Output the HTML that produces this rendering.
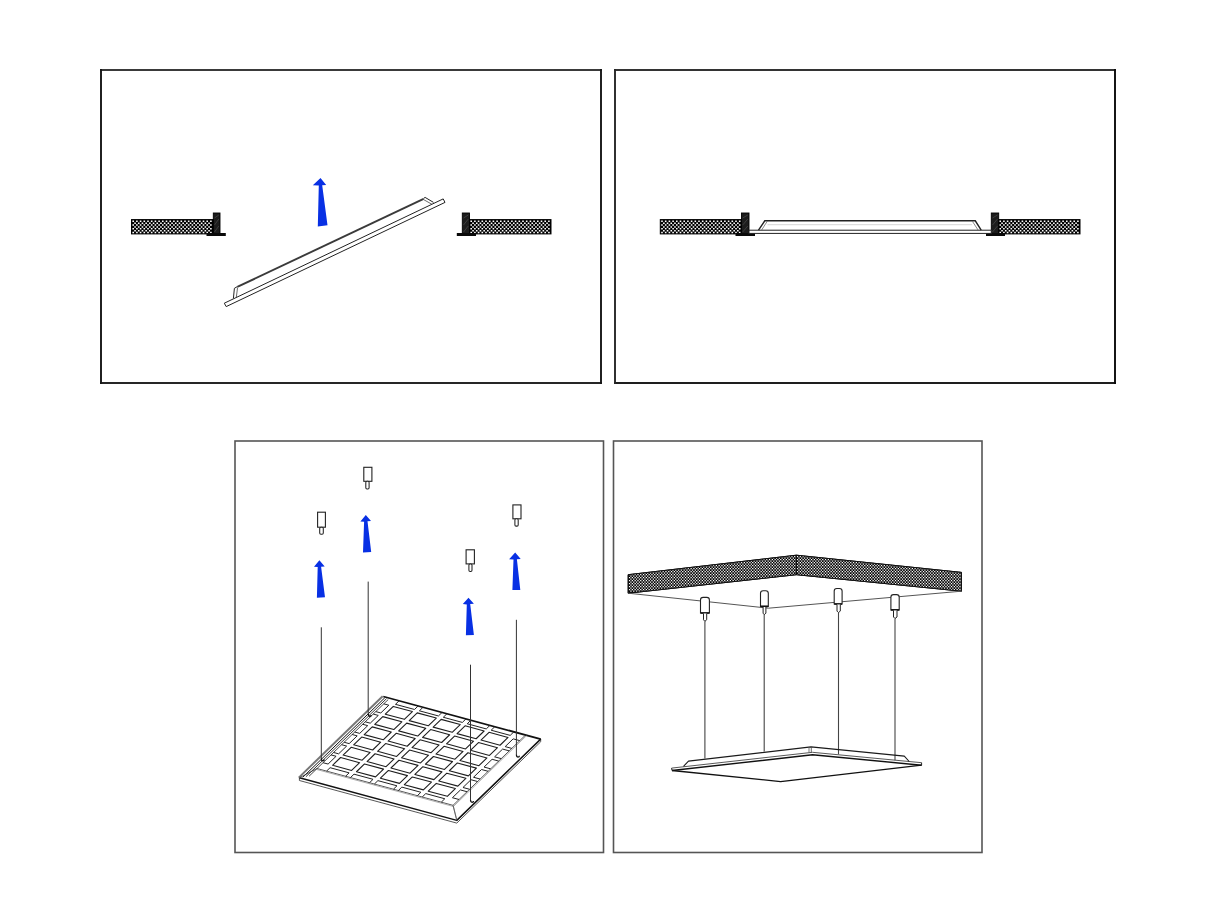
<!DOCTYPE html>
<html><head><meta charset="utf-8"><title>Installation diagram</title>
<style>
html,body{margin:0;padding:0;background:#fff;width:1214px;height:911px;overflow:hidden;font-family:"Liberation Sans",sans-serif;}
svg{display:block;}
</style></head><body>
<svg width="1214" height="911" viewBox="0 0 1214 911">

<path d="M100.05 70H601.95" stroke="#3a3a3a" stroke-width="1.9"/>
<path d="M100.05 383H601.95" stroke="#262626" stroke-width="1.9"/>
<path d="M101 69.05V383.95" stroke="#161616" stroke-width="1.9"/>
<path d="M601 69.05V383.95" stroke="#161616" stroke-width="1.9"/>
<path d="M614.05 70H1115.95" stroke="#333" stroke-width="1.9"/>
<path d="M614.05 383H1115.95" stroke="#1e1e1e" stroke-width="1.9"/>
<path d="M615 69.05V383.95" stroke="#262626" stroke-width="1.9"/>
<path d="M1115 69.05V383.95" stroke="#0a0a0a" stroke-width="1.9"/>
<rect x="235" y="441" width="368.5" height="411.5" fill="none" stroke="#555" stroke-width="1.6"/>
<rect x="613.5" y="441" width="368.5" height="411.5" fill="none" stroke="#555" stroke-width="1.6"/>
<rect x="131.5" y="219.6" width="82" height="14.3" fill="#000" stroke="#000" stroke-width="1"/>
<path d="M132.4 220.5h1.6v1.5h-1.6zM136.1 220.5h1.6v1.5h-1.6zM139.8 220.5h1.6v1.5h-1.6zM143.5 220.5h1.6v1.5h-1.6zM147.2 220.5h1.6v1.5h-1.6zM150.9 220.5h1.6v1.5h-1.6zM154.6 220.5h1.6v1.5h-1.6zM158.3 220.5h1.6v1.5h-1.6zM162 220.5h1.6v1.5h-1.6zM165.7 220.5h1.6v1.5h-1.6zM169.4 220.5h1.6v1.5h-1.6zM173.1 220.5h1.6v1.5h-1.6zM176.8 220.5h1.6v1.5h-1.6zM180.5 220.5h1.6v1.5h-1.6zM184.2 220.5h1.6v1.5h-1.6zM187.9 220.5h1.6v1.5h-1.6zM191.6 220.5h1.6v1.5h-1.6zM195.3 220.5h1.6v1.5h-1.6zM199 220.5h1.6v1.5h-1.6zM202.7 220.5h1.6v1.5h-1.6zM206.4 220.5h1.6v1.5h-1.6zM210.1 220.5h1.6v1.5h-1.6zM134.25 222.38h1.6v1.5h-1.6zM137.95 222.38h1.6v1.5h-1.6zM141.65 222.38h1.6v1.5h-1.6zM145.35 222.38h1.6v1.5h-1.6zM149.05 222.38h1.6v1.5h-1.6zM152.75 222.38h1.6v1.5h-1.6zM156.45 222.38h1.6v1.5h-1.6zM160.15 222.38h1.6v1.5h-1.6zM163.85 222.38h1.6v1.5h-1.6zM167.55 222.38h1.6v1.5h-1.6zM171.25 222.38h1.6v1.5h-1.6zM174.95 222.38h1.6v1.5h-1.6zM178.65 222.38h1.6v1.5h-1.6zM182.35 222.38h1.6v1.5h-1.6zM186.05 222.38h1.6v1.5h-1.6zM189.75 222.38h1.6v1.5h-1.6zM193.45 222.38h1.6v1.5h-1.6zM197.15 222.38h1.6v1.5h-1.6zM200.85 222.38h1.6v1.5h-1.6zM204.55 222.38h1.6v1.5h-1.6zM208.25 222.38h1.6v1.5h-1.6zM132.4 224.26h1.6v1.5h-1.6zM136.1 224.26h1.6v1.5h-1.6zM139.8 224.26h1.6v1.5h-1.6zM143.5 224.26h1.6v1.5h-1.6zM147.2 224.26h1.6v1.5h-1.6zM150.9 224.26h1.6v1.5h-1.6zM154.6 224.26h1.6v1.5h-1.6zM158.3 224.26h1.6v1.5h-1.6zM162 224.26h1.6v1.5h-1.6zM165.7 224.26h1.6v1.5h-1.6zM169.4 224.26h1.6v1.5h-1.6zM173.1 224.26h1.6v1.5h-1.6zM176.8 224.26h1.6v1.5h-1.6zM180.5 224.26h1.6v1.5h-1.6zM184.2 224.26h1.6v1.5h-1.6zM187.9 224.26h1.6v1.5h-1.6zM191.6 224.26h1.6v1.5h-1.6zM195.3 224.26h1.6v1.5h-1.6zM199 224.26h1.6v1.5h-1.6zM202.7 224.26h1.6v1.5h-1.6zM206.4 224.26h1.6v1.5h-1.6zM210.1 224.26h1.6v1.5h-1.6zM134.25 226.14h1.6v1.5h-1.6zM137.95 226.14h1.6v1.5h-1.6zM141.65 226.14h1.6v1.5h-1.6zM145.35 226.14h1.6v1.5h-1.6zM149.05 226.14h1.6v1.5h-1.6zM152.75 226.14h1.6v1.5h-1.6zM156.45 226.14h1.6v1.5h-1.6zM160.15 226.14h1.6v1.5h-1.6zM163.85 226.14h1.6v1.5h-1.6zM167.55 226.14h1.6v1.5h-1.6zM171.25 226.14h1.6v1.5h-1.6zM174.95 226.14h1.6v1.5h-1.6zM178.65 226.14h1.6v1.5h-1.6zM182.35 226.14h1.6v1.5h-1.6zM186.05 226.14h1.6v1.5h-1.6zM189.75 226.14h1.6v1.5h-1.6zM193.45 226.14h1.6v1.5h-1.6zM197.15 226.14h1.6v1.5h-1.6zM200.85 226.14h1.6v1.5h-1.6zM204.55 226.14h1.6v1.5h-1.6zM208.25 226.14h1.6v1.5h-1.6zM132.4 228.02h1.6v1.5h-1.6zM136.1 228.02h1.6v1.5h-1.6zM139.8 228.02h1.6v1.5h-1.6zM143.5 228.02h1.6v1.5h-1.6zM147.2 228.02h1.6v1.5h-1.6zM150.9 228.02h1.6v1.5h-1.6zM154.6 228.02h1.6v1.5h-1.6zM158.3 228.02h1.6v1.5h-1.6zM162 228.02h1.6v1.5h-1.6zM165.7 228.02h1.6v1.5h-1.6zM169.4 228.02h1.6v1.5h-1.6zM173.1 228.02h1.6v1.5h-1.6zM176.8 228.02h1.6v1.5h-1.6zM180.5 228.02h1.6v1.5h-1.6zM184.2 228.02h1.6v1.5h-1.6zM187.9 228.02h1.6v1.5h-1.6zM191.6 228.02h1.6v1.5h-1.6zM195.3 228.02h1.6v1.5h-1.6zM199 228.02h1.6v1.5h-1.6zM202.7 228.02h1.6v1.5h-1.6zM206.4 228.02h1.6v1.5h-1.6zM210.1 228.02h1.6v1.5h-1.6zM134.25 229.9h1.6v1.5h-1.6zM137.95 229.9h1.6v1.5h-1.6zM141.65 229.9h1.6v1.5h-1.6zM145.35 229.9h1.6v1.5h-1.6zM149.05 229.9h1.6v1.5h-1.6zM152.75 229.9h1.6v1.5h-1.6zM156.45 229.9h1.6v1.5h-1.6zM160.15 229.9h1.6v1.5h-1.6zM163.85 229.9h1.6v1.5h-1.6zM167.55 229.9h1.6v1.5h-1.6zM171.25 229.9h1.6v1.5h-1.6zM174.95 229.9h1.6v1.5h-1.6zM178.65 229.9h1.6v1.5h-1.6zM182.35 229.9h1.6v1.5h-1.6zM186.05 229.9h1.6v1.5h-1.6zM189.75 229.9h1.6v1.5h-1.6zM193.45 229.9h1.6v1.5h-1.6zM197.15 229.9h1.6v1.5h-1.6zM200.85 229.9h1.6v1.5h-1.6zM204.55 229.9h1.6v1.5h-1.6zM208.25 229.9h1.6v1.5h-1.6zM132.4 231.78h1.6v1.5h-1.6zM136.1 231.78h1.6v1.5h-1.6zM139.8 231.78h1.6v1.5h-1.6zM143.5 231.78h1.6v1.5h-1.6zM147.2 231.78h1.6v1.5h-1.6zM150.9 231.78h1.6v1.5h-1.6zM154.6 231.78h1.6v1.5h-1.6zM158.3 231.78h1.6v1.5h-1.6zM162 231.78h1.6v1.5h-1.6zM165.7 231.78h1.6v1.5h-1.6zM169.4 231.78h1.6v1.5h-1.6zM173.1 231.78h1.6v1.5h-1.6zM176.8 231.78h1.6v1.5h-1.6zM180.5 231.78h1.6v1.5h-1.6zM184.2 231.78h1.6v1.5h-1.6zM187.9 231.78h1.6v1.5h-1.6zM191.6 231.78h1.6v1.5h-1.6zM195.3 231.78h1.6v1.5h-1.6zM199 231.78h1.6v1.5h-1.6zM202.7 231.78h1.6v1.5h-1.6zM206.4 231.78h1.6v1.5h-1.6zM210.1 231.78h1.6v1.5h-1.6z" fill="#fff"/>
<rect x="213.3" y="213" width="6.7" height="21.5" fill="#1c1c1c" stroke="#000" stroke-width="0.9"/>
<path d="M214.5 218L218.8 215M214.5 225L218.8 219M214.5 232L218.8 226" stroke="#4a4a4a" stroke-width="0.7"/>
<rect x="206.5" y="233" width="19.3" height="3" fill="#0a0a0a"/>
<rect x="469.5" y="219.6" width="81.5" height="14.3" fill="#000" stroke="#000" stroke-width="1"/>
<path d="M470.4 220.5h1.6v1.5h-1.6zM474.1 220.5h1.6v1.5h-1.6zM477.8 220.5h1.6v1.5h-1.6zM481.5 220.5h1.6v1.5h-1.6zM485.2 220.5h1.6v1.5h-1.6zM488.9 220.5h1.6v1.5h-1.6zM492.6 220.5h1.6v1.5h-1.6zM496.3 220.5h1.6v1.5h-1.6zM500 220.5h1.6v1.5h-1.6zM503.7 220.5h1.6v1.5h-1.6zM507.4 220.5h1.6v1.5h-1.6zM511.1 220.5h1.6v1.5h-1.6zM514.8 220.5h1.6v1.5h-1.6zM518.5 220.5h1.6v1.5h-1.6zM522.2 220.5h1.6v1.5h-1.6zM525.9 220.5h1.6v1.5h-1.6zM529.6 220.5h1.6v1.5h-1.6zM533.3 220.5h1.6v1.5h-1.6zM537 220.5h1.6v1.5h-1.6zM540.7 220.5h1.6v1.5h-1.6zM544.4 220.5h1.6v1.5h-1.6zM548.1 220.5h1.6v1.5h-1.6zM472.25 222.38h1.6v1.5h-1.6zM475.95 222.38h1.6v1.5h-1.6zM479.65 222.38h1.6v1.5h-1.6zM483.35 222.38h1.6v1.5h-1.6zM487.05 222.38h1.6v1.5h-1.6zM490.75 222.38h1.6v1.5h-1.6zM494.45 222.38h1.6v1.5h-1.6zM498.15 222.38h1.6v1.5h-1.6zM501.85 222.38h1.6v1.5h-1.6zM505.55 222.38h1.6v1.5h-1.6zM509.25 222.38h1.6v1.5h-1.6zM512.95 222.38h1.6v1.5h-1.6zM516.65 222.38h1.6v1.5h-1.6zM520.35 222.38h1.6v1.5h-1.6zM524.05 222.38h1.6v1.5h-1.6zM527.75 222.38h1.6v1.5h-1.6zM531.45 222.38h1.6v1.5h-1.6zM535.15 222.38h1.6v1.5h-1.6zM538.85 222.38h1.6v1.5h-1.6zM542.55 222.38h1.6v1.5h-1.6zM546.25 222.38h1.6v1.5h-1.6zM470.4 224.26h1.6v1.5h-1.6zM474.1 224.26h1.6v1.5h-1.6zM477.8 224.26h1.6v1.5h-1.6zM481.5 224.26h1.6v1.5h-1.6zM485.2 224.26h1.6v1.5h-1.6zM488.9 224.26h1.6v1.5h-1.6zM492.6 224.26h1.6v1.5h-1.6zM496.3 224.26h1.6v1.5h-1.6zM500 224.26h1.6v1.5h-1.6zM503.7 224.26h1.6v1.5h-1.6zM507.4 224.26h1.6v1.5h-1.6zM511.1 224.26h1.6v1.5h-1.6zM514.8 224.26h1.6v1.5h-1.6zM518.5 224.26h1.6v1.5h-1.6zM522.2 224.26h1.6v1.5h-1.6zM525.9 224.26h1.6v1.5h-1.6zM529.6 224.26h1.6v1.5h-1.6zM533.3 224.26h1.6v1.5h-1.6zM537 224.26h1.6v1.5h-1.6zM540.7 224.26h1.6v1.5h-1.6zM544.4 224.26h1.6v1.5h-1.6zM548.1 224.26h1.6v1.5h-1.6zM472.25 226.14h1.6v1.5h-1.6zM475.95 226.14h1.6v1.5h-1.6zM479.65 226.14h1.6v1.5h-1.6zM483.35 226.14h1.6v1.5h-1.6zM487.05 226.14h1.6v1.5h-1.6zM490.75 226.14h1.6v1.5h-1.6zM494.45 226.14h1.6v1.5h-1.6zM498.15 226.14h1.6v1.5h-1.6zM501.85 226.14h1.6v1.5h-1.6zM505.55 226.14h1.6v1.5h-1.6zM509.25 226.14h1.6v1.5h-1.6zM512.95 226.14h1.6v1.5h-1.6zM516.65 226.14h1.6v1.5h-1.6zM520.35 226.14h1.6v1.5h-1.6zM524.05 226.14h1.6v1.5h-1.6zM527.75 226.14h1.6v1.5h-1.6zM531.45 226.14h1.6v1.5h-1.6zM535.15 226.14h1.6v1.5h-1.6zM538.85 226.14h1.6v1.5h-1.6zM542.55 226.14h1.6v1.5h-1.6zM546.25 226.14h1.6v1.5h-1.6zM470.4 228.02h1.6v1.5h-1.6zM474.1 228.02h1.6v1.5h-1.6zM477.8 228.02h1.6v1.5h-1.6zM481.5 228.02h1.6v1.5h-1.6zM485.2 228.02h1.6v1.5h-1.6zM488.9 228.02h1.6v1.5h-1.6zM492.6 228.02h1.6v1.5h-1.6zM496.3 228.02h1.6v1.5h-1.6zM500 228.02h1.6v1.5h-1.6zM503.7 228.02h1.6v1.5h-1.6zM507.4 228.02h1.6v1.5h-1.6zM511.1 228.02h1.6v1.5h-1.6zM514.8 228.02h1.6v1.5h-1.6zM518.5 228.02h1.6v1.5h-1.6zM522.2 228.02h1.6v1.5h-1.6zM525.9 228.02h1.6v1.5h-1.6zM529.6 228.02h1.6v1.5h-1.6zM533.3 228.02h1.6v1.5h-1.6zM537 228.02h1.6v1.5h-1.6zM540.7 228.02h1.6v1.5h-1.6zM544.4 228.02h1.6v1.5h-1.6zM548.1 228.02h1.6v1.5h-1.6zM472.25 229.9h1.6v1.5h-1.6zM475.95 229.9h1.6v1.5h-1.6zM479.65 229.9h1.6v1.5h-1.6zM483.35 229.9h1.6v1.5h-1.6zM487.05 229.9h1.6v1.5h-1.6zM490.75 229.9h1.6v1.5h-1.6zM494.45 229.9h1.6v1.5h-1.6zM498.15 229.9h1.6v1.5h-1.6zM501.85 229.9h1.6v1.5h-1.6zM505.55 229.9h1.6v1.5h-1.6zM509.25 229.9h1.6v1.5h-1.6zM512.95 229.9h1.6v1.5h-1.6zM516.65 229.9h1.6v1.5h-1.6zM520.35 229.9h1.6v1.5h-1.6zM524.05 229.9h1.6v1.5h-1.6zM527.75 229.9h1.6v1.5h-1.6zM531.45 229.9h1.6v1.5h-1.6zM535.15 229.9h1.6v1.5h-1.6zM538.85 229.9h1.6v1.5h-1.6zM542.55 229.9h1.6v1.5h-1.6zM546.25 229.9h1.6v1.5h-1.6zM470.4 231.78h1.6v1.5h-1.6zM474.1 231.78h1.6v1.5h-1.6zM477.8 231.78h1.6v1.5h-1.6zM481.5 231.78h1.6v1.5h-1.6zM485.2 231.78h1.6v1.5h-1.6zM488.9 231.78h1.6v1.5h-1.6zM492.6 231.78h1.6v1.5h-1.6zM496.3 231.78h1.6v1.5h-1.6zM500 231.78h1.6v1.5h-1.6zM503.7 231.78h1.6v1.5h-1.6zM507.4 231.78h1.6v1.5h-1.6zM511.1 231.78h1.6v1.5h-1.6zM514.8 231.78h1.6v1.5h-1.6zM518.5 231.78h1.6v1.5h-1.6zM522.2 231.78h1.6v1.5h-1.6zM525.9 231.78h1.6v1.5h-1.6zM529.6 231.78h1.6v1.5h-1.6zM533.3 231.78h1.6v1.5h-1.6zM537 231.78h1.6v1.5h-1.6zM540.7 231.78h1.6v1.5h-1.6zM544.4 231.78h1.6v1.5h-1.6zM548.1 231.78h1.6v1.5h-1.6z" fill="#fff"/>
<rect x="462.3" y="213" width="7.2" height="21.5" fill="#1c1c1c" stroke="#000" stroke-width="0.9"/>
<path d="M463.5 218L468.3 215M463.5 225L468.3 219M463.5 232L468.3 226" stroke="#4a4a4a" stroke-width="0.7"/>
<rect x="456.8" y="233" width="19.2" height="3" fill="#0a0a0a"/>
<rect x="660.3" y="219.6" width="81.7" height="14.3" fill="#000" stroke="#000" stroke-width="1"/>
<path d="M661.2 220.5h1.6v1.5h-1.6zM664.9 220.5h1.6v1.5h-1.6zM668.6 220.5h1.6v1.5h-1.6zM672.3 220.5h1.6v1.5h-1.6zM676 220.5h1.6v1.5h-1.6zM679.7 220.5h1.6v1.5h-1.6zM683.4 220.5h1.6v1.5h-1.6zM687.1 220.5h1.6v1.5h-1.6zM690.8 220.5h1.6v1.5h-1.6zM694.5 220.5h1.6v1.5h-1.6zM698.2 220.5h1.6v1.5h-1.6zM701.9 220.5h1.6v1.5h-1.6zM705.6 220.5h1.6v1.5h-1.6zM709.3 220.5h1.6v1.5h-1.6zM713 220.5h1.6v1.5h-1.6zM716.7 220.5h1.6v1.5h-1.6zM720.4 220.5h1.6v1.5h-1.6zM724.1 220.5h1.6v1.5h-1.6zM727.8 220.5h1.6v1.5h-1.6zM731.5 220.5h1.6v1.5h-1.6zM735.2 220.5h1.6v1.5h-1.6zM738.9 220.5h1.6v1.5h-1.6zM663.05 222.38h1.6v1.5h-1.6zM666.75 222.38h1.6v1.5h-1.6zM670.45 222.38h1.6v1.5h-1.6zM674.15 222.38h1.6v1.5h-1.6zM677.85 222.38h1.6v1.5h-1.6zM681.55 222.38h1.6v1.5h-1.6zM685.25 222.38h1.6v1.5h-1.6zM688.95 222.38h1.6v1.5h-1.6zM692.65 222.38h1.6v1.5h-1.6zM696.35 222.38h1.6v1.5h-1.6zM700.05 222.38h1.6v1.5h-1.6zM703.75 222.38h1.6v1.5h-1.6zM707.45 222.38h1.6v1.5h-1.6zM711.15 222.38h1.6v1.5h-1.6zM714.85 222.38h1.6v1.5h-1.6zM718.55 222.38h1.6v1.5h-1.6zM722.25 222.38h1.6v1.5h-1.6zM725.95 222.38h1.6v1.5h-1.6zM729.65 222.38h1.6v1.5h-1.6zM733.35 222.38h1.6v1.5h-1.6zM737.05 222.38h1.6v1.5h-1.6zM661.2 224.26h1.6v1.5h-1.6zM664.9 224.26h1.6v1.5h-1.6zM668.6 224.26h1.6v1.5h-1.6zM672.3 224.26h1.6v1.5h-1.6zM676 224.26h1.6v1.5h-1.6zM679.7 224.26h1.6v1.5h-1.6zM683.4 224.26h1.6v1.5h-1.6zM687.1 224.26h1.6v1.5h-1.6zM690.8 224.26h1.6v1.5h-1.6zM694.5 224.26h1.6v1.5h-1.6zM698.2 224.26h1.6v1.5h-1.6zM701.9 224.26h1.6v1.5h-1.6zM705.6 224.26h1.6v1.5h-1.6zM709.3 224.26h1.6v1.5h-1.6zM713 224.26h1.6v1.5h-1.6zM716.7 224.26h1.6v1.5h-1.6zM720.4 224.26h1.6v1.5h-1.6zM724.1 224.26h1.6v1.5h-1.6zM727.8 224.26h1.6v1.5h-1.6zM731.5 224.26h1.6v1.5h-1.6zM735.2 224.26h1.6v1.5h-1.6zM738.9 224.26h1.6v1.5h-1.6zM663.05 226.14h1.6v1.5h-1.6zM666.75 226.14h1.6v1.5h-1.6zM670.45 226.14h1.6v1.5h-1.6zM674.15 226.14h1.6v1.5h-1.6zM677.85 226.14h1.6v1.5h-1.6zM681.55 226.14h1.6v1.5h-1.6zM685.25 226.14h1.6v1.5h-1.6zM688.95 226.14h1.6v1.5h-1.6zM692.65 226.14h1.6v1.5h-1.6zM696.35 226.14h1.6v1.5h-1.6zM700.05 226.14h1.6v1.5h-1.6zM703.75 226.14h1.6v1.5h-1.6zM707.45 226.14h1.6v1.5h-1.6zM711.15 226.14h1.6v1.5h-1.6zM714.85 226.14h1.6v1.5h-1.6zM718.55 226.14h1.6v1.5h-1.6zM722.25 226.14h1.6v1.5h-1.6zM725.95 226.14h1.6v1.5h-1.6zM729.65 226.14h1.6v1.5h-1.6zM733.35 226.14h1.6v1.5h-1.6zM737.05 226.14h1.6v1.5h-1.6zM661.2 228.02h1.6v1.5h-1.6zM664.9 228.02h1.6v1.5h-1.6zM668.6 228.02h1.6v1.5h-1.6zM672.3 228.02h1.6v1.5h-1.6zM676 228.02h1.6v1.5h-1.6zM679.7 228.02h1.6v1.5h-1.6zM683.4 228.02h1.6v1.5h-1.6zM687.1 228.02h1.6v1.5h-1.6zM690.8 228.02h1.6v1.5h-1.6zM694.5 228.02h1.6v1.5h-1.6zM698.2 228.02h1.6v1.5h-1.6zM701.9 228.02h1.6v1.5h-1.6zM705.6 228.02h1.6v1.5h-1.6zM709.3 228.02h1.6v1.5h-1.6zM713 228.02h1.6v1.5h-1.6zM716.7 228.02h1.6v1.5h-1.6zM720.4 228.02h1.6v1.5h-1.6zM724.1 228.02h1.6v1.5h-1.6zM727.8 228.02h1.6v1.5h-1.6zM731.5 228.02h1.6v1.5h-1.6zM735.2 228.02h1.6v1.5h-1.6zM738.9 228.02h1.6v1.5h-1.6zM663.05 229.9h1.6v1.5h-1.6zM666.75 229.9h1.6v1.5h-1.6zM670.45 229.9h1.6v1.5h-1.6zM674.15 229.9h1.6v1.5h-1.6zM677.85 229.9h1.6v1.5h-1.6zM681.55 229.9h1.6v1.5h-1.6zM685.25 229.9h1.6v1.5h-1.6zM688.95 229.9h1.6v1.5h-1.6zM692.65 229.9h1.6v1.5h-1.6zM696.35 229.9h1.6v1.5h-1.6zM700.05 229.9h1.6v1.5h-1.6zM703.75 229.9h1.6v1.5h-1.6zM707.45 229.9h1.6v1.5h-1.6zM711.15 229.9h1.6v1.5h-1.6zM714.85 229.9h1.6v1.5h-1.6zM718.55 229.9h1.6v1.5h-1.6zM722.25 229.9h1.6v1.5h-1.6zM725.95 229.9h1.6v1.5h-1.6zM729.65 229.9h1.6v1.5h-1.6zM733.35 229.9h1.6v1.5h-1.6zM737.05 229.9h1.6v1.5h-1.6zM661.2 231.78h1.6v1.5h-1.6zM664.9 231.78h1.6v1.5h-1.6zM668.6 231.78h1.6v1.5h-1.6zM672.3 231.78h1.6v1.5h-1.6zM676 231.78h1.6v1.5h-1.6zM679.7 231.78h1.6v1.5h-1.6zM683.4 231.78h1.6v1.5h-1.6zM687.1 231.78h1.6v1.5h-1.6zM690.8 231.78h1.6v1.5h-1.6zM694.5 231.78h1.6v1.5h-1.6zM698.2 231.78h1.6v1.5h-1.6zM701.9 231.78h1.6v1.5h-1.6zM705.6 231.78h1.6v1.5h-1.6zM709.3 231.78h1.6v1.5h-1.6zM713 231.78h1.6v1.5h-1.6zM716.7 231.78h1.6v1.5h-1.6zM720.4 231.78h1.6v1.5h-1.6zM724.1 231.78h1.6v1.5h-1.6zM727.8 231.78h1.6v1.5h-1.6zM731.5 231.78h1.6v1.5h-1.6zM735.2 231.78h1.6v1.5h-1.6zM738.9 231.78h1.6v1.5h-1.6z" fill="#fff"/>
<rect x="741.5" y="213" width="7.5" height="21.5" fill="#1c1c1c" stroke="#000" stroke-width="0.9"/>
<path d="M742.7 218L747.8 215M742.7 225L747.8 219M742.7 232L747.8 226" stroke="#4a4a4a" stroke-width="0.7"/>
<rect x="735.5" y="233" width="19.5" height="3" fill="#0a0a0a"/>
<rect x="998.5" y="219.6" width="81.5" height="14.3" fill="#000" stroke="#000" stroke-width="1"/>
<path d="M999.4 220.5h1.6v1.5h-1.6zM1003.1 220.5h1.6v1.5h-1.6zM1006.8 220.5h1.6v1.5h-1.6zM1010.5 220.5h1.6v1.5h-1.6zM1014.2 220.5h1.6v1.5h-1.6zM1017.9 220.5h1.6v1.5h-1.6zM1021.6 220.5h1.6v1.5h-1.6zM1025.3 220.5h1.6v1.5h-1.6zM1029 220.5h1.6v1.5h-1.6zM1032.7 220.5h1.6v1.5h-1.6zM1036.4 220.5h1.6v1.5h-1.6zM1040.1 220.5h1.6v1.5h-1.6zM1043.8 220.5h1.6v1.5h-1.6zM1047.5 220.5h1.6v1.5h-1.6zM1051.2 220.5h1.6v1.5h-1.6zM1054.9 220.5h1.6v1.5h-1.6zM1058.6 220.5h1.6v1.5h-1.6zM1062.3 220.5h1.6v1.5h-1.6zM1066 220.5h1.6v1.5h-1.6zM1069.7 220.5h1.6v1.5h-1.6zM1073.4 220.5h1.6v1.5h-1.6zM1077.1 220.5h1.6v1.5h-1.6zM1001.25 222.38h1.6v1.5h-1.6zM1004.95 222.38h1.6v1.5h-1.6zM1008.65 222.38h1.6v1.5h-1.6zM1012.35 222.38h1.6v1.5h-1.6zM1016.05 222.38h1.6v1.5h-1.6zM1019.75 222.38h1.6v1.5h-1.6zM1023.45 222.38h1.6v1.5h-1.6zM1027.15 222.38h1.6v1.5h-1.6zM1030.85 222.38h1.6v1.5h-1.6zM1034.55 222.38h1.6v1.5h-1.6zM1038.25 222.38h1.6v1.5h-1.6zM1041.95 222.38h1.6v1.5h-1.6zM1045.65 222.38h1.6v1.5h-1.6zM1049.35 222.38h1.6v1.5h-1.6zM1053.05 222.38h1.6v1.5h-1.6zM1056.75 222.38h1.6v1.5h-1.6zM1060.45 222.38h1.6v1.5h-1.6zM1064.15 222.38h1.6v1.5h-1.6zM1067.85 222.38h1.6v1.5h-1.6zM1071.55 222.38h1.6v1.5h-1.6zM1075.25 222.38h1.6v1.5h-1.6zM999.4 224.26h1.6v1.5h-1.6zM1003.1 224.26h1.6v1.5h-1.6zM1006.8 224.26h1.6v1.5h-1.6zM1010.5 224.26h1.6v1.5h-1.6zM1014.2 224.26h1.6v1.5h-1.6zM1017.9 224.26h1.6v1.5h-1.6zM1021.6 224.26h1.6v1.5h-1.6zM1025.3 224.26h1.6v1.5h-1.6zM1029 224.26h1.6v1.5h-1.6zM1032.7 224.26h1.6v1.5h-1.6zM1036.4 224.26h1.6v1.5h-1.6zM1040.1 224.26h1.6v1.5h-1.6zM1043.8 224.26h1.6v1.5h-1.6zM1047.5 224.26h1.6v1.5h-1.6zM1051.2 224.26h1.6v1.5h-1.6zM1054.9 224.26h1.6v1.5h-1.6zM1058.6 224.26h1.6v1.5h-1.6zM1062.3 224.26h1.6v1.5h-1.6zM1066 224.26h1.6v1.5h-1.6zM1069.7 224.26h1.6v1.5h-1.6zM1073.4 224.26h1.6v1.5h-1.6zM1077.1 224.26h1.6v1.5h-1.6zM1001.25 226.14h1.6v1.5h-1.6zM1004.95 226.14h1.6v1.5h-1.6zM1008.65 226.14h1.6v1.5h-1.6zM1012.35 226.14h1.6v1.5h-1.6zM1016.05 226.14h1.6v1.5h-1.6zM1019.75 226.14h1.6v1.5h-1.6zM1023.45 226.14h1.6v1.5h-1.6zM1027.15 226.14h1.6v1.5h-1.6zM1030.85 226.14h1.6v1.5h-1.6zM1034.55 226.14h1.6v1.5h-1.6zM1038.25 226.14h1.6v1.5h-1.6zM1041.95 226.14h1.6v1.5h-1.6zM1045.65 226.14h1.6v1.5h-1.6zM1049.35 226.14h1.6v1.5h-1.6zM1053.05 226.14h1.6v1.5h-1.6zM1056.75 226.14h1.6v1.5h-1.6zM1060.45 226.14h1.6v1.5h-1.6zM1064.15 226.14h1.6v1.5h-1.6zM1067.85 226.14h1.6v1.5h-1.6zM1071.55 226.14h1.6v1.5h-1.6zM1075.25 226.14h1.6v1.5h-1.6zM999.4 228.02h1.6v1.5h-1.6zM1003.1 228.02h1.6v1.5h-1.6zM1006.8 228.02h1.6v1.5h-1.6zM1010.5 228.02h1.6v1.5h-1.6zM1014.2 228.02h1.6v1.5h-1.6zM1017.9 228.02h1.6v1.5h-1.6zM1021.6 228.02h1.6v1.5h-1.6zM1025.3 228.02h1.6v1.5h-1.6zM1029 228.02h1.6v1.5h-1.6zM1032.7 228.02h1.6v1.5h-1.6zM1036.4 228.02h1.6v1.5h-1.6zM1040.1 228.02h1.6v1.5h-1.6zM1043.8 228.02h1.6v1.5h-1.6zM1047.5 228.02h1.6v1.5h-1.6zM1051.2 228.02h1.6v1.5h-1.6zM1054.9 228.02h1.6v1.5h-1.6zM1058.6 228.02h1.6v1.5h-1.6zM1062.3 228.02h1.6v1.5h-1.6zM1066 228.02h1.6v1.5h-1.6zM1069.7 228.02h1.6v1.5h-1.6zM1073.4 228.02h1.6v1.5h-1.6zM1077.1 228.02h1.6v1.5h-1.6zM1001.25 229.9h1.6v1.5h-1.6zM1004.95 229.9h1.6v1.5h-1.6zM1008.65 229.9h1.6v1.5h-1.6zM1012.35 229.9h1.6v1.5h-1.6zM1016.05 229.9h1.6v1.5h-1.6zM1019.75 229.9h1.6v1.5h-1.6zM1023.45 229.9h1.6v1.5h-1.6zM1027.15 229.9h1.6v1.5h-1.6zM1030.85 229.9h1.6v1.5h-1.6zM1034.55 229.9h1.6v1.5h-1.6zM1038.25 229.9h1.6v1.5h-1.6zM1041.95 229.9h1.6v1.5h-1.6zM1045.65 229.9h1.6v1.5h-1.6zM1049.35 229.9h1.6v1.5h-1.6zM1053.05 229.9h1.6v1.5h-1.6zM1056.75 229.9h1.6v1.5h-1.6zM1060.45 229.9h1.6v1.5h-1.6zM1064.15 229.9h1.6v1.5h-1.6zM1067.85 229.9h1.6v1.5h-1.6zM1071.55 229.9h1.6v1.5h-1.6zM1075.25 229.9h1.6v1.5h-1.6zM999.4 231.78h1.6v1.5h-1.6zM1003.1 231.78h1.6v1.5h-1.6zM1006.8 231.78h1.6v1.5h-1.6zM1010.5 231.78h1.6v1.5h-1.6zM1014.2 231.78h1.6v1.5h-1.6zM1017.9 231.78h1.6v1.5h-1.6zM1021.6 231.78h1.6v1.5h-1.6zM1025.3 231.78h1.6v1.5h-1.6zM1029 231.78h1.6v1.5h-1.6zM1032.7 231.78h1.6v1.5h-1.6zM1036.4 231.78h1.6v1.5h-1.6zM1040.1 231.78h1.6v1.5h-1.6zM1043.8 231.78h1.6v1.5h-1.6zM1047.5 231.78h1.6v1.5h-1.6zM1051.2 231.78h1.6v1.5h-1.6zM1054.9 231.78h1.6v1.5h-1.6zM1058.6 231.78h1.6v1.5h-1.6zM1062.3 231.78h1.6v1.5h-1.6zM1066 231.78h1.6v1.5h-1.6zM1069.7 231.78h1.6v1.5h-1.6zM1073.4 231.78h1.6v1.5h-1.6zM1077.1 231.78h1.6v1.5h-1.6z" fill="#fff"/>
<rect x="991.3" y="213" width="7.4" height="21.5" fill="#1c1c1c" stroke="#000" stroke-width="0.9"/>
<path d="M992.5 218L997.5 215M992.5 225L997.5 219M992.5 232L997.5 226" stroke="#4a4a4a" stroke-width="0.7"/>
<rect x="986" y="233" width="19" height="3" fill="#0a0a0a"/>
<polygon points="320.5,177.9 326.2,185 322.2,185.3 327.5,225.2 317.8,226.6 318.8,185.6 312.8,185.3" fill="#0830e4"/>
<polygon points="319.4,560.3 324.7,566.4 321.1,566.7 325,597.3 316.9,597.7 317.7,567 314,566.7" fill="#0830e4"/>
<polygon points="365.8,515 371,521 367.5,521.3 371.2,552 363,552.4 364.1,521.8 360.4,521.5" fill="#0830e4"/>
<polygon points="468.5,597.8 473.9,603.8 470.2,604.1 473.9,634.9 465.9,635.2 466.8,604.4 462.8,604.1" fill="#0830e4"/>
<polygon points="515.2,552.6 520.7,559 516.9,559.3 520.3,590.1 512.4,590.1 513.5,559.6 509.1,559.3" fill="#0830e4"/>
<polygon points="224.3,303.2 443.2,198.9 445,202.4 226.2,306.6" fill="#fff" stroke="#222" stroke-width="1"/>
<polyline points="233.4,298.4 234.4,288.3 237.8,286.3" stroke="#222" fill="none" stroke-width="1"/>
<polyline points="236.3,297.4 237.6,287.3" stroke="#444" fill="none" stroke-width="0.8"/>
<polyline points="237.8,286.7 423.6,198.8" stroke="#3a3a3a" fill="none" stroke-width="1.9"/>
<polyline points="423.6,198.4 425.1,197.4 433.5,202.4" stroke="#222" fill="none" stroke-width="1"/>
<polyline points="423.6,199.6 432,204.3" stroke="#444" fill="none" stroke-width="0.8"/>
<rect x="749" y="230.2" width="242.3" height="3.2" fill="#fff" stroke="#222" stroke-width="1"/>
<polyline points="758.5,230.2 764.8,220.8 975.3,220.8 981.2,230.2" stroke="#222" fill="none" stroke-width="1.4"/>
<polyline points="761.5,230.2 767.1,221.5" stroke="#555" fill="none" stroke-width="0.7"/>
<polyline points="978.2,230.2 972.5,221.5" stroke="#555" fill="none" stroke-width="0.7"/>
<polyline points="767.5,224.7 972,224.7" stroke="#bbb" fill="none" stroke-width="0.6"/>
<rect x="317.6" y="512.2" width="7.8" height="15" fill="#fff" stroke="#222" stroke-width="1.1"/>
<rect x="319.7" y="527.2" width="3.6" height="7.1" rx="1.2" fill="#fff" stroke="#222" stroke-width="1.05"/>
<rect x="363.8" y="467.3" width="8.1" height="14" fill="#fff" stroke="#222" stroke-width="1.1"/>
<rect x="365.8" y="481.3" width="3.3" height="7.7" rx="1.2" fill="#fff" stroke="#222" stroke-width="1.05"/>
<rect x="466.1" y="549.8" width="8.3" height="14.1" fill="#fff" stroke="#222" stroke-width="1.1"/>
<rect x="468.9" y="563.9" width="3.1" height="7.6" rx="1.2" fill="#fff" stroke="#222" stroke-width="1.05"/>
<rect x="512.9" y="504.9" width="8.1" height="13.9" fill="#fff" stroke="#222" stroke-width="1.1"/>
<rect x="514.9" y="518.8" width="3.3" height="7.3" rx="1.2" fill="#fff" stroke="#222" stroke-width="1.05"/>
<polygon points="383.3,696.5 540.7,739.1 540.7,741.8 456.8,823.1 299.4,780.5 299.4,777.8" fill="#fff" stroke="none" stroke-width="0" stroke-linejoin="round"/>
<polyline points="299.4,780.5 456.8,823.1 540.7,741.8" fill="none" stroke="#444" stroke-width="0.9" stroke-linejoin="round"/>
<polyline points="299.4,780.5 299.4,777.8" fill="none" stroke="#444" stroke-width="0.9" stroke-linejoin="round"/>
<polyline points="540.7,741.8 540.7,739.1" fill="none" stroke="#444" stroke-width="0.9" stroke-linejoin="round"/>
<polyline points="299.4,777.8 456.8,820.4 540.7,739.1" fill="none" stroke="#111" stroke-width="1.5" stroke-linejoin="round"/>
<polyline points="383.3,696.5 540.7,739.1" fill="none" stroke="#111" stroke-width="1.7" stroke-linejoin="round"/>
<polyline points="382.67,696.33 298.77,777.63" fill="none" stroke="#777" stroke-width="2" stroke-linejoin="round"/>
<polyline points="384.82,697.76 302.78,777.26" fill="none" stroke="#111" stroke-width="1" stroke-linejoin="round"/>
<polyline points="386.53,698.63 305.92,776.76" fill="none" stroke="#222" stroke-width="0.9" stroke-linejoin="round"/>
<polyline points="388.25,699.5 309.05,776.25" fill="none" stroke="#333" stroke-width="0.9" stroke-linejoin="round"/>
<polyline points="525.25,735.34 453.02,805.33 317.02,768.53" fill="none" stroke="#444" stroke-width="0.9" stroke-linejoin="round"/>
<polyline points="526.35,735.84 453.44,806.49 316.18,769.34" fill="none" stroke="#999" stroke-width="0.8" stroke-linejoin="round"/>
<polyline points="453.02,805.33 456.8,820.4" fill="none" stroke="#333" stroke-width="0.8" stroke-linejoin="round"/>
<polyline points="453.44,806.49 456.8,820.1" fill="none" stroke="#666" stroke-width="0.6" stroke-linejoin="round"/>
<polyline points="317.02,768.53 299.4,777.8" fill="none" stroke="#333" stroke-width="0.8" stroke-linejoin="round"/>
<polygon points="393.31,706.41 412.35,711.57 404.34,719.33 385.3,714.18" fill="none" stroke="#1e1e1e" stroke-width="1.1" stroke-linejoin="round"/>
<polygon points="382.76,716.63 401.81,721.79 393.8,729.55 374.75,724.39" fill="none" stroke="#1e1e1e" stroke-width="1.1" stroke-linejoin="round"/>
<polygon points="372.22,726.85 391.26,732 383.25,739.77 364.2,734.61" fill="none" stroke="#1e1e1e" stroke-width="1.1" stroke-linejoin="round"/>
<polygon points="361.67,737.07 380.72,742.22 372.7,749.99 353.66,744.83" fill="none" stroke="#1e1e1e" stroke-width="1.1" stroke-linejoin="round"/>
<polygon points="351.12,747.29 370.17,752.44 362.16,760.21 343.11,755.05" fill="none" stroke="#1e1e1e" stroke-width="1.1" stroke-linejoin="round"/>
<polygon points="340.58,757.51 359.62,762.66 351.61,770.43 332.57,765.27" fill="none" stroke="#1e1e1e" stroke-width="1.1" stroke-linejoin="round"/>
<polygon points="417.23,712.89 436.28,718.04 428.27,725.81 409.22,720.65" fill="none" stroke="#1e1e1e" stroke-width="1.1" stroke-linejoin="round"/>
<polygon points="406.69,723.11 425.73,728.26 417.72,736.02 398.67,730.87" fill="none" stroke="#1e1e1e" stroke-width="1.1" stroke-linejoin="round"/>
<polygon points="396.14,733.33 415.19,738.48 407.17,746.24 388.13,741.09" fill="none" stroke="#1e1e1e" stroke-width="1.1" stroke-linejoin="round"/>
<polygon points="385.59,743.54 404.64,748.7 396.63,756.46 377.58,751.31" fill="none" stroke="#1e1e1e" stroke-width="1.1" stroke-linejoin="round"/>
<polygon points="375.05,753.76 394.09,758.92 386.08,766.68 367.04,761.53" fill="none" stroke="#1e1e1e" stroke-width="1.1" stroke-linejoin="round"/>
<polygon points="364.5,763.98 383.55,769.14 375.54,776.9 356.49,771.75" fill="none" stroke="#1e1e1e" stroke-width="1.1" stroke-linejoin="round"/>
<polygon points="441.16,719.36 460.2,724.52 452.19,732.28 433.15,727.13" fill="none" stroke="#1e1e1e" stroke-width="1.1" stroke-linejoin="round"/>
<polygon points="430.61,729.58 449.66,734.74 441.64,742.5 422.6,737.35" fill="none" stroke="#1e1e1e" stroke-width="1.1" stroke-linejoin="round"/>
<polygon points="420.07,739.8 439.11,744.96 431.1,752.72 412.05,747.56" fill="none" stroke="#1e1e1e" stroke-width="1.1" stroke-linejoin="round"/>
<polygon points="409.52,750.02 428.56,755.17 420.55,762.94 401.51,757.78" fill="none" stroke="#1e1e1e" stroke-width="1.1" stroke-linejoin="round"/>
<polygon points="398.97,760.24 418.02,765.39 410.01,773.16 390.96,768" fill="none" stroke="#1e1e1e" stroke-width="1.1" stroke-linejoin="round"/>
<polygon points="388.43,770.46 407.47,775.61 399.46,783.38 380.41,778.22" fill="none" stroke="#1e1e1e" stroke-width="1.1" stroke-linejoin="round"/>
<polygon points="465.08,725.84 484.13,730.99 476.12,738.76 457.07,733.6" fill="none" stroke="#1e1e1e" stroke-width="1.1" stroke-linejoin="round"/>
<polygon points="454.54,736.06 473.58,741.21 465.57,748.98 446.52,743.82" fill="none" stroke="#1e1e1e" stroke-width="1.1" stroke-linejoin="round"/>
<polygon points="443.99,746.28 463.04,751.43 455.02,759.19 435.98,754.04" fill="none" stroke="#1e1e1e" stroke-width="1.1" stroke-linejoin="round"/>
<polygon points="433.44,756.5 452.49,761.65 444.48,769.41 425.43,764.26" fill="none" stroke="#1e1e1e" stroke-width="1.1" stroke-linejoin="round"/>
<polygon points="422.9,766.71 441.94,771.87 433.93,779.63 414.89,774.48" fill="none" stroke="#1e1e1e" stroke-width="1.1" stroke-linejoin="round"/>
<polygon points="412.35,776.93 431.4,782.09 423.38,789.85 404.34,784.7" fill="none" stroke="#1e1e1e" stroke-width="1.1" stroke-linejoin="round"/>
<polygon points="489.01,732.31 508.05,737.47 500.04,745.23 481,740.08" fill="none" stroke="#1e1e1e" stroke-width="1.1" stroke-linejoin="round"/>
<polygon points="478.46,742.53 497.51,747.69 489.49,755.45 470.45,750.3" fill="none" stroke="#1e1e1e" stroke-width="1.1" stroke-linejoin="round"/>
<polygon points="467.92,752.75 486.96,757.91 478.95,765.67 459.9,760.52" fill="none" stroke="#1e1e1e" stroke-width="1.1" stroke-linejoin="round"/>
<polygon points="457.37,762.97 476.41,768.12 468.4,775.89 449.36,770.73" fill="none" stroke="#1e1e1e" stroke-width="1.1" stroke-linejoin="round"/>
<polygon points="446.82,773.19 465.87,778.34 457.86,786.11 438.81,780.95" fill="none" stroke="#1e1e1e" stroke-width="1.1" stroke-linejoin="round"/>
<polygon points="436.28,783.41 455.32,788.56 447.31,796.33 428.26,791.17" fill="none" stroke="#1e1e1e" stroke-width="1.1" stroke-linejoin="round"/>
<polyline points="399.12,700.78 395.46,704.33 414.51,709.48 418.16,705.94" fill="none" stroke="#222" stroke-width="1" stroke-linejoin="round"/>
<polyline points="326.55,771.11 330.07,767.69 349.11,772.85 345.59,776.26" fill="none" stroke="#222" stroke-width="1" stroke-linejoin="round"/>
<polyline points="423.04,707.26 419.39,710.8 438.43,715.96 442.09,712.41" fill="none" stroke="#222" stroke-width="1" stroke-linejoin="round"/>
<polyline points="350.47,777.58 353.99,774.17 373.04,779.32 369.52,782.74" fill="none" stroke="#222" stroke-width="1" stroke-linejoin="round"/>
<polyline points="446.97,713.73 443.31,717.28 462.36,722.43 466.01,718.89" fill="none" stroke="#222" stroke-width="1" stroke-linejoin="round"/>
<polyline points="374.39,784.06 377.92,780.64 396.96,785.8 393.44,789.21" fill="none" stroke="#222" stroke-width="1" stroke-linejoin="round"/>
<polyline points="470.89,720.21 467.24,723.75 486.28,728.91 489.94,725.36" fill="none" stroke="#222" stroke-width="1" stroke-linejoin="round"/>
<polyline points="398.32,790.53 401.84,787.12 420.89,792.27 417.37,795.69" fill="none" stroke="#222" stroke-width="1" stroke-linejoin="round"/>
<polyline points="494.82,726.68 491.16,730.23 510.21,735.38 513.86,731.84" fill="none" stroke="#222" stroke-width="1" stroke-linejoin="round"/>
<polyline points="422.24,797.01 425.77,793.59 444.81,798.75 441.29,802.16" fill="none" stroke="#222" stroke-width="1" stroke-linejoin="round"/>
<polyline points="383.79,703.83 388.82,705.2 380.81,712.96 375.77,711.6" fill="none" stroke="#222" stroke-width="1" stroke-linejoin="round"/>
<polyline points="519.78,740.64 513.17,738.85 505.16,746.62 511.77,748.4" fill="none" stroke="#222" stroke-width="1" stroke-linejoin="round"/>
<polyline points="373.24,714.05 378.28,715.42 370.26,723.18 365.23,721.82" fill="none" stroke="#222" stroke-width="1" stroke-linejoin="round"/>
<polyline points="509.23,750.86 502.62,749.07 494.61,756.83 501.22,758.62" fill="none" stroke="#222" stroke-width="1" stroke-linejoin="round"/>
<polyline points="362.69,724.27 367.73,725.64 359.72,733.4 354.68,732.04" fill="none" stroke="#222" stroke-width="1" stroke-linejoin="round"/>
<polyline points="498.69,761.08 492.08,759.29 484.06,767.05 490.67,768.84" fill="none" stroke="#222" stroke-width="1" stroke-linejoin="round"/>
<polyline points="352.15,734.49 357.18,735.86 349.17,743.62 344.13,742.26" fill="none" stroke="#222" stroke-width="1" stroke-linejoin="round"/>
<polyline points="488.14,771.3 481.53,769.51 473.52,777.27 480.13,779.06" fill="none" stroke="#222" stroke-width="1" stroke-linejoin="round"/>
<polyline points="341.6,744.71 346.64,746.07 338.63,753.84 333.59,752.48" fill="none" stroke="#222" stroke-width="1" stroke-linejoin="round"/>
<polyline points="477.59,781.52 470.98,779.73 462.97,787.49 469.58,789.28" fill="none" stroke="#222" stroke-width="1" stroke-linejoin="round"/>
<polyline points="331.05,754.93 336.09,756.29 328.08,764.06 323.04,762.7" fill="none" stroke="#222" stroke-width="1" stroke-linejoin="round"/>
<polyline points="467.05,791.74 460.44,789.95 452.43,797.71 459.04,799.5" fill="none" stroke="#222" stroke-width="1" stroke-linejoin="round"/>
<line x1="321.3" y1="627.3" x2="321.3" y2="759" stroke="#333" stroke-width="1"/>
<path d="M321.3 758.5q0 2.2 1.6 2.4q1.4 0 1.4-1.4" fill="none" stroke="#111" stroke-width="1.3"/>
<line x1="368.2" y1="581.6" x2="368.2" y2="714.6" stroke="#333" stroke-width="1"/>
<path d="M368.2 714.1q0 2.2 1.6 2.4q1.4 0 1.4-1.4" fill="none" stroke="#111" stroke-width="1.3"/>
<line x1="470.5" y1="664.7" x2="470.5" y2="800.5" stroke="#333" stroke-width="1"/>
<path d="M470.5 800q0 2.2 1.6 2.4q1.4 0 1.4-1.4" fill="none" stroke="#111" stroke-width="1.3"/>
<line x1="516.4" y1="619.8" x2="516.4" y2="755.3" stroke="#333" stroke-width="1"/>
<path d="M516.4 754.8q0 2.2 1.6 2.4q1.4 0 1.4-1.4" fill="none" stroke="#111" stroke-width="1.3"/>
<clipPath id="slabclip"><polygon points="628.2,574.7 796.4,555.2 961.5,572.4 961.5,591.2 796.4,574.7 628.2,593.2"/></clipPath>
<polygon points="628.2,574.7 796.4,555.2 961.5,572.4 961.5,591.2 796.4,574.7 628.2,593.2" fill="#000" stroke="#111" stroke-width="1"/>
<path clip-path="url(#slabclip)" d="M628.9 556.1h1.3v1.15h-1.3zM631.7 556.1h1.3v1.15h-1.3zM634.5 556.1h1.3v1.15h-1.3zM637.3 556.1h1.3v1.15h-1.3zM640.1 556.1h1.3v1.15h-1.3zM642.9 556.1h1.3v1.15h-1.3zM645.7 556.1h1.3v1.15h-1.3zM648.5 556.1h1.3v1.15h-1.3zM651.3 556.1h1.3v1.15h-1.3zM654.1 556.1h1.3v1.15h-1.3zM656.9 556.1h1.3v1.15h-1.3zM659.7 556.1h1.3v1.15h-1.3zM662.5 556.1h1.3v1.15h-1.3zM665.3 556.1h1.3v1.15h-1.3zM668.1 556.1h1.3v1.15h-1.3zM670.9 556.1h1.3v1.15h-1.3zM673.7 556.1h1.3v1.15h-1.3zM676.5 556.1h1.3v1.15h-1.3zM679.3 556.1h1.3v1.15h-1.3zM682.1 556.1h1.3v1.15h-1.3zM684.9 556.1h1.3v1.15h-1.3zM687.7 556.1h1.3v1.15h-1.3zM690.5 556.1h1.3v1.15h-1.3zM693.3 556.1h1.3v1.15h-1.3zM696.1 556.1h1.3v1.15h-1.3zM698.9 556.1h1.3v1.15h-1.3zM701.7 556.1h1.3v1.15h-1.3zM704.5 556.1h1.3v1.15h-1.3zM707.3 556.1h1.3v1.15h-1.3zM710.1 556.1h1.3v1.15h-1.3zM712.9 556.1h1.3v1.15h-1.3zM715.7 556.1h1.3v1.15h-1.3zM718.5 556.1h1.3v1.15h-1.3zM721.3 556.1h1.3v1.15h-1.3zM724.1 556.1h1.3v1.15h-1.3zM726.9 556.1h1.3v1.15h-1.3zM729.7 556.1h1.3v1.15h-1.3zM732.5 556.1h1.3v1.15h-1.3zM735.3 556.1h1.3v1.15h-1.3zM738.1 556.1h1.3v1.15h-1.3zM740.9 556.1h1.3v1.15h-1.3zM743.7 556.1h1.3v1.15h-1.3zM746.5 556.1h1.3v1.15h-1.3zM749.3 556.1h1.3v1.15h-1.3zM752.1 556.1h1.3v1.15h-1.3zM754.9 556.1h1.3v1.15h-1.3zM757.7 556.1h1.3v1.15h-1.3zM760.5 556.1h1.3v1.15h-1.3zM763.3 556.1h1.3v1.15h-1.3zM766.1 556.1h1.3v1.15h-1.3zM768.9 556.1h1.3v1.15h-1.3zM771.7 556.1h1.3v1.15h-1.3zM774.5 556.1h1.3v1.15h-1.3zM777.3 556.1h1.3v1.15h-1.3zM780.1 556.1h1.3v1.15h-1.3zM782.9 556.1h1.3v1.15h-1.3zM785.7 556.1h1.3v1.15h-1.3zM788.5 556.1h1.3v1.15h-1.3zM791.3 556.1h1.3v1.15h-1.3zM794.1 556.1h1.3v1.15h-1.3zM796.9 556.1h1.3v1.15h-1.3zM799.7 556.1h1.3v1.15h-1.3zM802.5 556.1h1.3v1.15h-1.3zM805.3 556.1h1.3v1.15h-1.3zM808.1 556.1h1.3v1.15h-1.3zM810.9 556.1h1.3v1.15h-1.3zM813.7 556.1h1.3v1.15h-1.3zM816.5 556.1h1.3v1.15h-1.3zM819.3 556.1h1.3v1.15h-1.3zM822.1 556.1h1.3v1.15h-1.3zM824.9 556.1h1.3v1.15h-1.3zM827.7 556.1h1.3v1.15h-1.3zM830.5 556.1h1.3v1.15h-1.3zM833.3 556.1h1.3v1.15h-1.3zM836.1 556.1h1.3v1.15h-1.3zM838.9 556.1h1.3v1.15h-1.3zM841.7 556.1h1.3v1.15h-1.3zM844.5 556.1h1.3v1.15h-1.3zM847.3 556.1h1.3v1.15h-1.3zM850.1 556.1h1.3v1.15h-1.3zM852.9 556.1h1.3v1.15h-1.3zM855.7 556.1h1.3v1.15h-1.3zM858.5 556.1h1.3v1.15h-1.3zM861.3 556.1h1.3v1.15h-1.3zM864.1 556.1h1.3v1.15h-1.3zM866.9 556.1h1.3v1.15h-1.3zM869.7 556.1h1.3v1.15h-1.3zM872.5 556.1h1.3v1.15h-1.3zM875.3 556.1h1.3v1.15h-1.3zM878.1 556.1h1.3v1.15h-1.3zM880.9 556.1h1.3v1.15h-1.3zM883.7 556.1h1.3v1.15h-1.3zM886.5 556.1h1.3v1.15h-1.3zM889.3 556.1h1.3v1.15h-1.3zM892.1 556.1h1.3v1.15h-1.3zM894.9 556.1h1.3v1.15h-1.3zM897.7 556.1h1.3v1.15h-1.3zM900.5 556.1h1.3v1.15h-1.3zM903.3 556.1h1.3v1.15h-1.3zM906.1 556.1h1.3v1.15h-1.3zM908.9 556.1h1.3v1.15h-1.3zM911.7 556.1h1.3v1.15h-1.3zM914.5 556.1h1.3v1.15h-1.3zM917.3 556.1h1.3v1.15h-1.3zM920.1 556.1h1.3v1.15h-1.3zM922.9 556.1h1.3v1.15h-1.3zM925.7 556.1h1.3v1.15h-1.3zM928.5 556.1h1.3v1.15h-1.3zM931.3 556.1h1.3v1.15h-1.3zM934.1 556.1h1.3v1.15h-1.3zM936.9 556.1h1.3v1.15h-1.3zM939.7 556.1h1.3v1.15h-1.3zM942.5 556.1h1.3v1.15h-1.3zM945.3 556.1h1.3v1.15h-1.3zM948.1 556.1h1.3v1.15h-1.3zM950.9 556.1h1.3v1.15h-1.3zM953.7 556.1h1.3v1.15h-1.3zM956.5 556.1h1.3v1.15h-1.3zM959.3 556.1h1.3v1.15h-1.3zM630.3 557.6h1.3v1.15h-1.3zM633.1 557.6h1.3v1.15h-1.3zM635.9 557.6h1.3v1.15h-1.3zM638.7 557.6h1.3v1.15h-1.3zM641.5 557.6h1.3v1.15h-1.3zM644.3 557.6h1.3v1.15h-1.3zM647.1 557.6h1.3v1.15h-1.3zM649.9 557.6h1.3v1.15h-1.3zM652.7 557.6h1.3v1.15h-1.3zM655.5 557.6h1.3v1.15h-1.3zM658.3 557.6h1.3v1.15h-1.3zM661.1 557.6h1.3v1.15h-1.3zM663.9 557.6h1.3v1.15h-1.3zM666.7 557.6h1.3v1.15h-1.3zM669.5 557.6h1.3v1.15h-1.3zM672.3 557.6h1.3v1.15h-1.3zM675.1 557.6h1.3v1.15h-1.3zM677.9 557.6h1.3v1.15h-1.3zM680.7 557.6h1.3v1.15h-1.3zM683.5 557.6h1.3v1.15h-1.3zM686.3 557.6h1.3v1.15h-1.3zM689.1 557.6h1.3v1.15h-1.3zM691.9 557.6h1.3v1.15h-1.3zM694.7 557.6h1.3v1.15h-1.3zM697.5 557.6h1.3v1.15h-1.3zM700.3 557.6h1.3v1.15h-1.3zM703.1 557.6h1.3v1.15h-1.3zM705.9 557.6h1.3v1.15h-1.3zM708.7 557.6h1.3v1.15h-1.3zM711.5 557.6h1.3v1.15h-1.3zM714.3 557.6h1.3v1.15h-1.3zM717.1 557.6h1.3v1.15h-1.3zM719.9 557.6h1.3v1.15h-1.3zM722.7 557.6h1.3v1.15h-1.3zM725.5 557.6h1.3v1.15h-1.3zM728.3 557.6h1.3v1.15h-1.3zM731.1 557.6h1.3v1.15h-1.3zM733.9 557.6h1.3v1.15h-1.3zM736.7 557.6h1.3v1.15h-1.3zM739.5 557.6h1.3v1.15h-1.3zM742.3 557.6h1.3v1.15h-1.3zM745.1 557.6h1.3v1.15h-1.3zM747.9 557.6h1.3v1.15h-1.3zM750.7 557.6h1.3v1.15h-1.3zM753.5 557.6h1.3v1.15h-1.3zM756.3 557.6h1.3v1.15h-1.3zM759.1 557.6h1.3v1.15h-1.3zM761.9 557.6h1.3v1.15h-1.3zM764.7 557.6h1.3v1.15h-1.3zM767.5 557.6h1.3v1.15h-1.3zM770.3 557.6h1.3v1.15h-1.3zM773.1 557.6h1.3v1.15h-1.3zM775.9 557.6h1.3v1.15h-1.3zM778.7 557.6h1.3v1.15h-1.3zM781.5 557.6h1.3v1.15h-1.3zM784.3 557.6h1.3v1.15h-1.3zM787.1 557.6h1.3v1.15h-1.3zM789.9 557.6h1.3v1.15h-1.3zM792.7 557.6h1.3v1.15h-1.3zM795.5 557.6h1.3v1.15h-1.3zM798.3 557.6h1.3v1.15h-1.3zM801.1 557.6h1.3v1.15h-1.3zM803.9 557.6h1.3v1.15h-1.3zM806.7 557.6h1.3v1.15h-1.3zM809.5 557.6h1.3v1.15h-1.3zM812.3 557.6h1.3v1.15h-1.3zM815.1 557.6h1.3v1.15h-1.3zM817.9 557.6h1.3v1.15h-1.3zM820.7 557.6h1.3v1.15h-1.3zM823.5 557.6h1.3v1.15h-1.3zM826.3 557.6h1.3v1.15h-1.3zM829.1 557.6h1.3v1.15h-1.3zM831.9 557.6h1.3v1.15h-1.3zM834.7 557.6h1.3v1.15h-1.3zM837.5 557.6h1.3v1.15h-1.3zM840.3 557.6h1.3v1.15h-1.3zM843.1 557.6h1.3v1.15h-1.3zM845.9 557.6h1.3v1.15h-1.3zM848.7 557.6h1.3v1.15h-1.3zM851.5 557.6h1.3v1.15h-1.3zM854.3 557.6h1.3v1.15h-1.3zM857.1 557.6h1.3v1.15h-1.3zM859.9 557.6h1.3v1.15h-1.3zM862.7 557.6h1.3v1.15h-1.3zM865.5 557.6h1.3v1.15h-1.3zM868.3 557.6h1.3v1.15h-1.3zM871.1 557.6h1.3v1.15h-1.3zM873.9 557.6h1.3v1.15h-1.3zM876.7 557.6h1.3v1.15h-1.3zM879.5 557.6h1.3v1.15h-1.3zM882.3 557.6h1.3v1.15h-1.3zM885.1 557.6h1.3v1.15h-1.3zM887.9 557.6h1.3v1.15h-1.3zM890.7 557.6h1.3v1.15h-1.3zM893.5 557.6h1.3v1.15h-1.3zM896.3 557.6h1.3v1.15h-1.3zM899.1 557.6h1.3v1.15h-1.3zM901.9 557.6h1.3v1.15h-1.3zM904.7 557.6h1.3v1.15h-1.3zM907.5 557.6h1.3v1.15h-1.3zM910.3 557.6h1.3v1.15h-1.3zM913.1 557.6h1.3v1.15h-1.3zM915.9 557.6h1.3v1.15h-1.3zM918.7 557.6h1.3v1.15h-1.3zM921.5 557.6h1.3v1.15h-1.3zM924.3 557.6h1.3v1.15h-1.3zM927.1 557.6h1.3v1.15h-1.3zM929.9 557.6h1.3v1.15h-1.3zM932.7 557.6h1.3v1.15h-1.3zM935.5 557.6h1.3v1.15h-1.3zM938.3 557.6h1.3v1.15h-1.3zM941.1 557.6h1.3v1.15h-1.3zM943.9 557.6h1.3v1.15h-1.3zM946.7 557.6h1.3v1.15h-1.3zM949.5 557.6h1.3v1.15h-1.3zM952.3 557.6h1.3v1.15h-1.3zM955.1 557.6h1.3v1.15h-1.3zM957.9 557.6h1.3v1.15h-1.3zM960.7 557.6h1.3v1.15h-1.3zM628.9 559.1h1.3v1.15h-1.3zM631.7 559.1h1.3v1.15h-1.3zM634.5 559.1h1.3v1.15h-1.3zM637.3 559.1h1.3v1.15h-1.3zM640.1 559.1h1.3v1.15h-1.3zM642.9 559.1h1.3v1.15h-1.3zM645.7 559.1h1.3v1.15h-1.3zM648.5 559.1h1.3v1.15h-1.3zM651.3 559.1h1.3v1.15h-1.3zM654.1 559.1h1.3v1.15h-1.3zM656.9 559.1h1.3v1.15h-1.3zM659.7 559.1h1.3v1.15h-1.3zM662.5 559.1h1.3v1.15h-1.3zM665.3 559.1h1.3v1.15h-1.3zM668.1 559.1h1.3v1.15h-1.3zM670.9 559.1h1.3v1.15h-1.3zM673.7 559.1h1.3v1.15h-1.3zM676.5 559.1h1.3v1.15h-1.3zM679.3 559.1h1.3v1.15h-1.3zM682.1 559.1h1.3v1.15h-1.3zM684.9 559.1h1.3v1.15h-1.3zM687.7 559.1h1.3v1.15h-1.3zM690.5 559.1h1.3v1.15h-1.3zM693.3 559.1h1.3v1.15h-1.3zM696.1 559.1h1.3v1.15h-1.3zM698.9 559.1h1.3v1.15h-1.3zM701.7 559.1h1.3v1.15h-1.3zM704.5 559.1h1.3v1.15h-1.3zM707.3 559.1h1.3v1.15h-1.3zM710.1 559.1h1.3v1.15h-1.3zM712.9 559.1h1.3v1.15h-1.3zM715.7 559.1h1.3v1.15h-1.3zM718.5 559.1h1.3v1.15h-1.3zM721.3 559.1h1.3v1.15h-1.3zM724.1 559.1h1.3v1.15h-1.3zM726.9 559.1h1.3v1.15h-1.3zM729.7 559.1h1.3v1.15h-1.3zM732.5 559.1h1.3v1.15h-1.3zM735.3 559.1h1.3v1.15h-1.3zM738.1 559.1h1.3v1.15h-1.3zM740.9 559.1h1.3v1.15h-1.3zM743.7 559.1h1.3v1.15h-1.3zM746.5 559.1h1.3v1.15h-1.3zM749.3 559.1h1.3v1.15h-1.3zM752.1 559.1h1.3v1.15h-1.3zM754.9 559.1h1.3v1.15h-1.3zM757.7 559.1h1.3v1.15h-1.3zM760.5 559.1h1.3v1.15h-1.3zM763.3 559.1h1.3v1.15h-1.3zM766.1 559.1h1.3v1.15h-1.3zM768.9 559.1h1.3v1.15h-1.3zM771.7 559.1h1.3v1.15h-1.3zM774.5 559.1h1.3v1.15h-1.3zM777.3 559.1h1.3v1.15h-1.3zM780.1 559.1h1.3v1.15h-1.3zM782.9 559.1h1.3v1.15h-1.3zM785.7 559.1h1.3v1.15h-1.3zM788.5 559.1h1.3v1.15h-1.3zM791.3 559.1h1.3v1.15h-1.3zM794.1 559.1h1.3v1.15h-1.3zM796.9 559.1h1.3v1.15h-1.3zM799.7 559.1h1.3v1.15h-1.3zM802.5 559.1h1.3v1.15h-1.3zM805.3 559.1h1.3v1.15h-1.3zM808.1 559.1h1.3v1.15h-1.3zM810.9 559.1h1.3v1.15h-1.3zM813.7 559.1h1.3v1.15h-1.3zM816.5 559.1h1.3v1.15h-1.3zM819.3 559.1h1.3v1.15h-1.3zM822.1 559.1h1.3v1.15h-1.3zM824.9 559.1h1.3v1.15h-1.3zM827.7 559.1h1.3v1.15h-1.3zM830.5 559.1h1.3v1.15h-1.3zM833.3 559.1h1.3v1.15h-1.3zM836.1 559.1h1.3v1.15h-1.3zM838.9 559.1h1.3v1.15h-1.3zM841.7 559.1h1.3v1.15h-1.3zM844.5 559.1h1.3v1.15h-1.3zM847.3 559.1h1.3v1.15h-1.3zM850.1 559.1h1.3v1.15h-1.3zM852.9 559.1h1.3v1.15h-1.3zM855.7 559.1h1.3v1.15h-1.3zM858.5 559.1h1.3v1.15h-1.3zM861.3 559.1h1.3v1.15h-1.3zM864.1 559.1h1.3v1.15h-1.3zM866.9 559.1h1.3v1.15h-1.3zM869.7 559.1h1.3v1.15h-1.3zM872.5 559.1h1.3v1.15h-1.3zM875.3 559.1h1.3v1.15h-1.3zM878.1 559.1h1.3v1.15h-1.3zM880.9 559.1h1.3v1.15h-1.3zM883.7 559.1h1.3v1.15h-1.3zM886.5 559.1h1.3v1.15h-1.3zM889.3 559.1h1.3v1.15h-1.3zM892.1 559.1h1.3v1.15h-1.3zM894.9 559.1h1.3v1.15h-1.3zM897.7 559.1h1.3v1.15h-1.3zM900.5 559.1h1.3v1.15h-1.3zM903.3 559.1h1.3v1.15h-1.3zM906.1 559.1h1.3v1.15h-1.3zM908.9 559.1h1.3v1.15h-1.3zM911.7 559.1h1.3v1.15h-1.3zM914.5 559.1h1.3v1.15h-1.3zM917.3 559.1h1.3v1.15h-1.3zM920.1 559.1h1.3v1.15h-1.3zM922.9 559.1h1.3v1.15h-1.3zM925.7 559.1h1.3v1.15h-1.3zM928.5 559.1h1.3v1.15h-1.3zM931.3 559.1h1.3v1.15h-1.3zM934.1 559.1h1.3v1.15h-1.3zM936.9 559.1h1.3v1.15h-1.3zM939.7 559.1h1.3v1.15h-1.3zM942.5 559.1h1.3v1.15h-1.3zM945.3 559.1h1.3v1.15h-1.3zM948.1 559.1h1.3v1.15h-1.3zM950.9 559.1h1.3v1.15h-1.3zM953.7 559.1h1.3v1.15h-1.3zM956.5 559.1h1.3v1.15h-1.3zM959.3 559.1h1.3v1.15h-1.3zM630.3 560.6h1.3v1.15h-1.3zM633.1 560.6h1.3v1.15h-1.3zM635.9 560.6h1.3v1.15h-1.3zM638.7 560.6h1.3v1.15h-1.3zM641.5 560.6h1.3v1.15h-1.3zM644.3 560.6h1.3v1.15h-1.3zM647.1 560.6h1.3v1.15h-1.3zM649.9 560.6h1.3v1.15h-1.3zM652.7 560.6h1.3v1.15h-1.3zM655.5 560.6h1.3v1.15h-1.3zM658.3 560.6h1.3v1.15h-1.3zM661.1 560.6h1.3v1.15h-1.3zM663.9 560.6h1.3v1.15h-1.3zM666.7 560.6h1.3v1.15h-1.3zM669.5 560.6h1.3v1.15h-1.3zM672.3 560.6h1.3v1.15h-1.3zM675.1 560.6h1.3v1.15h-1.3zM677.9 560.6h1.3v1.15h-1.3zM680.7 560.6h1.3v1.15h-1.3zM683.5 560.6h1.3v1.15h-1.3zM686.3 560.6h1.3v1.15h-1.3zM689.1 560.6h1.3v1.15h-1.3zM691.9 560.6h1.3v1.15h-1.3zM694.7 560.6h1.3v1.15h-1.3zM697.5 560.6h1.3v1.15h-1.3zM700.3 560.6h1.3v1.15h-1.3zM703.1 560.6h1.3v1.15h-1.3zM705.9 560.6h1.3v1.15h-1.3zM708.7 560.6h1.3v1.15h-1.3zM711.5 560.6h1.3v1.15h-1.3zM714.3 560.6h1.3v1.15h-1.3zM717.1 560.6h1.3v1.15h-1.3zM719.9 560.6h1.3v1.15h-1.3zM722.7 560.6h1.3v1.15h-1.3zM725.5 560.6h1.3v1.15h-1.3zM728.3 560.6h1.3v1.15h-1.3zM731.1 560.6h1.3v1.15h-1.3zM733.9 560.6h1.3v1.15h-1.3zM736.7 560.6h1.3v1.15h-1.3zM739.5 560.6h1.3v1.15h-1.3zM742.3 560.6h1.3v1.15h-1.3zM745.1 560.6h1.3v1.15h-1.3zM747.9 560.6h1.3v1.15h-1.3zM750.7 560.6h1.3v1.15h-1.3zM753.5 560.6h1.3v1.15h-1.3zM756.3 560.6h1.3v1.15h-1.3zM759.1 560.6h1.3v1.15h-1.3zM761.9 560.6h1.3v1.15h-1.3zM764.7 560.6h1.3v1.15h-1.3zM767.5 560.6h1.3v1.15h-1.3zM770.3 560.6h1.3v1.15h-1.3zM773.1 560.6h1.3v1.15h-1.3zM775.9 560.6h1.3v1.15h-1.3zM778.7 560.6h1.3v1.15h-1.3zM781.5 560.6h1.3v1.15h-1.3zM784.3 560.6h1.3v1.15h-1.3zM787.1 560.6h1.3v1.15h-1.3zM789.9 560.6h1.3v1.15h-1.3zM792.7 560.6h1.3v1.15h-1.3zM795.5 560.6h1.3v1.15h-1.3zM798.3 560.6h1.3v1.15h-1.3zM801.1 560.6h1.3v1.15h-1.3zM803.9 560.6h1.3v1.15h-1.3zM806.7 560.6h1.3v1.15h-1.3zM809.5 560.6h1.3v1.15h-1.3zM812.3 560.6h1.3v1.15h-1.3zM815.1 560.6h1.3v1.15h-1.3zM817.9 560.6h1.3v1.15h-1.3zM820.7 560.6h1.3v1.15h-1.3zM823.5 560.6h1.3v1.15h-1.3zM826.3 560.6h1.3v1.15h-1.3zM829.1 560.6h1.3v1.15h-1.3zM831.9 560.6h1.3v1.15h-1.3zM834.7 560.6h1.3v1.15h-1.3zM837.5 560.6h1.3v1.15h-1.3zM840.3 560.6h1.3v1.15h-1.3zM843.1 560.6h1.3v1.15h-1.3zM845.9 560.6h1.3v1.15h-1.3zM848.7 560.6h1.3v1.15h-1.3zM851.5 560.6h1.3v1.15h-1.3zM854.3 560.6h1.3v1.15h-1.3zM857.1 560.6h1.3v1.15h-1.3zM859.9 560.6h1.3v1.15h-1.3zM862.7 560.6h1.3v1.15h-1.3zM865.5 560.6h1.3v1.15h-1.3zM868.3 560.6h1.3v1.15h-1.3zM871.1 560.6h1.3v1.15h-1.3zM873.9 560.6h1.3v1.15h-1.3zM876.7 560.6h1.3v1.15h-1.3zM879.5 560.6h1.3v1.15h-1.3zM882.3 560.6h1.3v1.15h-1.3zM885.1 560.6h1.3v1.15h-1.3zM887.9 560.6h1.3v1.15h-1.3zM890.7 560.6h1.3v1.15h-1.3zM893.5 560.6h1.3v1.15h-1.3zM896.3 560.6h1.3v1.15h-1.3zM899.1 560.6h1.3v1.15h-1.3zM901.9 560.6h1.3v1.15h-1.3zM904.7 560.6h1.3v1.15h-1.3zM907.5 560.6h1.3v1.15h-1.3zM910.3 560.6h1.3v1.15h-1.3zM913.1 560.6h1.3v1.15h-1.3zM915.9 560.6h1.3v1.15h-1.3zM918.7 560.6h1.3v1.15h-1.3zM921.5 560.6h1.3v1.15h-1.3zM924.3 560.6h1.3v1.15h-1.3zM927.1 560.6h1.3v1.15h-1.3zM929.9 560.6h1.3v1.15h-1.3zM932.7 560.6h1.3v1.15h-1.3zM935.5 560.6h1.3v1.15h-1.3zM938.3 560.6h1.3v1.15h-1.3zM941.1 560.6h1.3v1.15h-1.3zM943.9 560.6h1.3v1.15h-1.3zM946.7 560.6h1.3v1.15h-1.3zM949.5 560.6h1.3v1.15h-1.3zM952.3 560.6h1.3v1.15h-1.3zM955.1 560.6h1.3v1.15h-1.3zM957.9 560.6h1.3v1.15h-1.3zM960.7 560.6h1.3v1.15h-1.3zM628.9 562.1h1.3v1.15h-1.3zM631.7 562.1h1.3v1.15h-1.3zM634.5 562.1h1.3v1.15h-1.3zM637.3 562.1h1.3v1.15h-1.3zM640.1 562.1h1.3v1.15h-1.3zM642.9 562.1h1.3v1.15h-1.3zM645.7 562.1h1.3v1.15h-1.3zM648.5 562.1h1.3v1.15h-1.3zM651.3 562.1h1.3v1.15h-1.3zM654.1 562.1h1.3v1.15h-1.3zM656.9 562.1h1.3v1.15h-1.3zM659.7 562.1h1.3v1.15h-1.3zM662.5 562.1h1.3v1.15h-1.3zM665.3 562.1h1.3v1.15h-1.3zM668.1 562.1h1.3v1.15h-1.3zM670.9 562.1h1.3v1.15h-1.3zM673.7 562.1h1.3v1.15h-1.3zM676.5 562.1h1.3v1.15h-1.3zM679.3 562.1h1.3v1.15h-1.3zM682.1 562.1h1.3v1.15h-1.3zM684.9 562.1h1.3v1.15h-1.3zM687.7 562.1h1.3v1.15h-1.3zM690.5 562.1h1.3v1.15h-1.3zM693.3 562.1h1.3v1.15h-1.3zM696.1 562.1h1.3v1.15h-1.3zM698.9 562.1h1.3v1.15h-1.3zM701.7 562.1h1.3v1.15h-1.3zM704.5 562.1h1.3v1.15h-1.3zM707.3 562.1h1.3v1.15h-1.3zM710.1 562.1h1.3v1.15h-1.3zM712.9 562.1h1.3v1.15h-1.3zM715.7 562.1h1.3v1.15h-1.3zM718.5 562.1h1.3v1.15h-1.3zM721.3 562.1h1.3v1.15h-1.3zM724.1 562.1h1.3v1.15h-1.3zM726.9 562.1h1.3v1.15h-1.3zM729.7 562.1h1.3v1.15h-1.3zM732.5 562.1h1.3v1.15h-1.3zM735.3 562.1h1.3v1.15h-1.3zM738.1 562.1h1.3v1.15h-1.3zM740.9 562.1h1.3v1.15h-1.3zM743.7 562.1h1.3v1.15h-1.3zM746.5 562.1h1.3v1.15h-1.3zM749.3 562.1h1.3v1.15h-1.3zM752.1 562.1h1.3v1.15h-1.3zM754.9 562.1h1.3v1.15h-1.3zM757.7 562.1h1.3v1.15h-1.3zM760.5 562.1h1.3v1.15h-1.3zM763.3 562.1h1.3v1.15h-1.3zM766.1 562.1h1.3v1.15h-1.3zM768.9 562.1h1.3v1.15h-1.3zM771.7 562.1h1.3v1.15h-1.3zM774.5 562.1h1.3v1.15h-1.3zM777.3 562.1h1.3v1.15h-1.3zM780.1 562.1h1.3v1.15h-1.3zM782.9 562.1h1.3v1.15h-1.3zM785.7 562.1h1.3v1.15h-1.3zM788.5 562.1h1.3v1.15h-1.3zM791.3 562.1h1.3v1.15h-1.3zM794.1 562.1h1.3v1.15h-1.3zM796.9 562.1h1.3v1.15h-1.3zM799.7 562.1h1.3v1.15h-1.3zM802.5 562.1h1.3v1.15h-1.3zM805.3 562.1h1.3v1.15h-1.3zM808.1 562.1h1.3v1.15h-1.3zM810.9 562.1h1.3v1.15h-1.3zM813.7 562.1h1.3v1.15h-1.3zM816.5 562.1h1.3v1.15h-1.3zM819.3 562.1h1.3v1.15h-1.3zM822.1 562.1h1.3v1.15h-1.3zM824.9 562.1h1.3v1.15h-1.3zM827.7 562.1h1.3v1.15h-1.3zM830.5 562.1h1.3v1.15h-1.3zM833.3 562.1h1.3v1.15h-1.3zM836.1 562.1h1.3v1.15h-1.3zM838.9 562.1h1.3v1.15h-1.3zM841.7 562.1h1.3v1.15h-1.3zM844.5 562.1h1.3v1.15h-1.3zM847.3 562.1h1.3v1.15h-1.3zM850.1 562.1h1.3v1.15h-1.3zM852.9 562.1h1.3v1.15h-1.3zM855.7 562.1h1.3v1.15h-1.3zM858.5 562.1h1.3v1.15h-1.3zM861.3 562.1h1.3v1.15h-1.3zM864.1 562.1h1.3v1.15h-1.3zM866.9 562.1h1.3v1.15h-1.3zM869.7 562.1h1.3v1.15h-1.3zM872.5 562.1h1.3v1.15h-1.3zM875.3 562.1h1.3v1.15h-1.3zM878.1 562.1h1.3v1.15h-1.3zM880.9 562.1h1.3v1.15h-1.3zM883.7 562.1h1.3v1.15h-1.3zM886.5 562.1h1.3v1.15h-1.3zM889.3 562.1h1.3v1.15h-1.3zM892.1 562.1h1.3v1.15h-1.3zM894.9 562.1h1.3v1.15h-1.3zM897.7 562.1h1.3v1.15h-1.3zM900.5 562.1h1.3v1.15h-1.3zM903.3 562.1h1.3v1.15h-1.3zM906.1 562.1h1.3v1.15h-1.3zM908.9 562.1h1.3v1.15h-1.3zM911.7 562.1h1.3v1.15h-1.3zM914.5 562.1h1.3v1.15h-1.3zM917.3 562.1h1.3v1.15h-1.3zM920.1 562.1h1.3v1.15h-1.3zM922.9 562.1h1.3v1.15h-1.3zM925.7 562.1h1.3v1.15h-1.3zM928.5 562.1h1.3v1.15h-1.3zM931.3 562.1h1.3v1.15h-1.3zM934.1 562.1h1.3v1.15h-1.3zM936.9 562.1h1.3v1.15h-1.3zM939.7 562.1h1.3v1.15h-1.3zM942.5 562.1h1.3v1.15h-1.3zM945.3 562.1h1.3v1.15h-1.3zM948.1 562.1h1.3v1.15h-1.3zM950.9 562.1h1.3v1.15h-1.3zM953.7 562.1h1.3v1.15h-1.3zM956.5 562.1h1.3v1.15h-1.3zM959.3 562.1h1.3v1.15h-1.3zM630.3 563.6h1.3v1.15h-1.3zM633.1 563.6h1.3v1.15h-1.3zM635.9 563.6h1.3v1.15h-1.3zM638.7 563.6h1.3v1.15h-1.3zM641.5 563.6h1.3v1.15h-1.3zM644.3 563.6h1.3v1.15h-1.3zM647.1 563.6h1.3v1.15h-1.3zM649.9 563.6h1.3v1.15h-1.3zM652.7 563.6h1.3v1.15h-1.3zM655.5 563.6h1.3v1.15h-1.3zM658.3 563.6h1.3v1.15h-1.3zM661.1 563.6h1.3v1.15h-1.3zM663.9 563.6h1.3v1.15h-1.3zM666.7 563.6h1.3v1.15h-1.3zM669.5 563.6h1.3v1.15h-1.3zM672.3 563.6h1.3v1.15h-1.3zM675.1 563.6h1.3v1.15h-1.3zM677.9 563.6h1.3v1.15h-1.3zM680.7 563.6h1.3v1.15h-1.3zM683.5 563.6h1.3v1.15h-1.3zM686.3 563.6h1.3v1.15h-1.3zM689.1 563.6h1.3v1.15h-1.3zM691.9 563.6h1.3v1.15h-1.3zM694.7 563.6h1.3v1.15h-1.3zM697.5 563.6h1.3v1.15h-1.3zM700.3 563.6h1.3v1.15h-1.3zM703.1 563.6h1.3v1.15h-1.3zM705.9 563.6h1.3v1.15h-1.3zM708.7 563.6h1.3v1.15h-1.3zM711.5 563.6h1.3v1.15h-1.3zM714.3 563.6h1.3v1.15h-1.3zM717.1 563.6h1.3v1.15h-1.3zM719.9 563.6h1.3v1.15h-1.3zM722.7 563.6h1.3v1.15h-1.3zM725.5 563.6h1.3v1.15h-1.3zM728.3 563.6h1.3v1.15h-1.3zM731.1 563.6h1.3v1.15h-1.3zM733.9 563.6h1.3v1.15h-1.3zM736.7 563.6h1.3v1.15h-1.3zM739.5 563.6h1.3v1.15h-1.3zM742.3 563.6h1.3v1.15h-1.3zM745.1 563.6h1.3v1.15h-1.3zM747.9 563.6h1.3v1.15h-1.3zM750.7 563.6h1.3v1.15h-1.3zM753.5 563.6h1.3v1.15h-1.3zM756.3 563.6h1.3v1.15h-1.3zM759.1 563.6h1.3v1.15h-1.3zM761.9 563.6h1.3v1.15h-1.3zM764.7 563.6h1.3v1.15h-1.3zM767.5 563.6h1.3v1.15h-1.3zM770.3 563.6h1.3v1.15h-1.3zM773.1 563.6h1.3v1.15h-1.3zM775.9 563.6h1.3v1.15h-1.3zM778.7 563.6h1.3v1.15h-1.3zM781.5 563.6h1.3v1.15h-1.3zM784.3 563.6h1.3v1.15h-1.3zM787.1 563.6h1.3v1.15h-1.3zM789.9 563.6h1.3v1.15h-1.3zM792.7 563.6h1.3v1.15h-1.3zM795.5 563.6h1.3v1.15h-1.3zM798.3 563.6h1.3v1.15h-1.3zM801.1 563.6h1.3v1.15h-1.3zM803.9 563.6h1.3v1.15h-1.3zM806.7 563.6h1.3v1.15h-1.3zM809.5 563.6h1.3v1.15h-1.3zM812.3 563.6h1.3v1.15h-1.3zM815.1 563.6h1.3v1.15h-1.3zM817.9 563.6h1.3v1.15h-1.3zM820.7 563.6h1.3v1.15h-1.3zM823.5 563.6h1.3v1.15h-1.3zM826.3 563.6h1.3v1.15h-1.3zM829.1 563.6h1.3v1.15h-1.3zM831.9 563.6h1.3v1.15h-1.3zM834.7 563.6h1.3v1.15h-1.3zM837.5 563.6h1.3v1.15h-1.3zM840.3 563.6h1.3v1.15h-1.3zM843.1 563.6h1.3v1.15h-1.3zM845.9 563.6h1.3v1.15h-1.3zM848.7 563.6h1.3v1.15h-1.3zM851.5 563.6h1.3v1.15h-1.3zM854.3 563.6h1.3v1.15h-1.3zM857.1 563.6h1.3v1.15h-1.3zM859.9 563.6h1.3v1.15h-1.3zM862.7 563.6h1.3v1.15h-1.3zM865.5 563.6h1.3v1.15h-1.3zM868.3 563.6h1.3v1.15h-1.3zM871.1 563.6h1.3v1.15h-1.3zM873.9 563.6h1.3v1.15h-1.3zM876.7 563.6h1.3v1.15h-1.3zM879.5 563.6h1.3v1.15h-1.3zM882.3 563.6h1.3v1.15h-1.3zM885.1 563.6h1.3v1.15h-1.3zM887.9 563.6h1.3v1.15h-1.3zM890.7 563.6h1.3v1.15h-1.3zM893.5 563.6h1.3v1.15h-1.3zM896.3 563.6h1.3v1.15h-1.3zM899.1 563.6h1.3v1.15h-1.3zM901.9 563.6h1.3v1.15h-1.3zM904.7 563.6h1.3v1.15h-1.3zM907.5 563.6h1.3v1.15h-1.3zM910.3 563.6h1.3v1.15h-1.3zM913.1 563.6h1.3v1.15h-1.3zM915.9 563.6h1.3v1.15h-1.3zM918.7 563.6h1.3v1.15h-1.3zM921.5 563.6h1.3v1.15h-1.3zM924.3 563.6h1.3v1.15h-1.3zM927.1 563.6h1.3v1.15h-1.3zM929.9 563.6h1.3v1.15h-1.3zM932.7 563.6h1.3v1.15h-1.3zM935.5 563.6h1.3v1.15h-1.3zM938.3 563.6h1.3v1.15h-1.3zM941.1 563.6h1.3v1.15h-1.3zM943.9 563.6h1.3v1.15h-1.3zM946.7 563.6h1.3v1.15h-1.3zM949.5 563.6h1.3v1.15h-1.3zM952.3 563.6h1.3v1.15h-1.3zM955.1 563.6h1.3v1.15h-1.3zM957.9 563.6h1.3v1.15h-1.3zM960.7 563.6h1.3v1.15h-1.3zM628.9 565.1h1.3v1.15h-1.3zM631.7 565.1h1.3v1.15h-1.3zM634.5 565.1h1.3v1.15h-1.3zM637.3 565.1h1.3v1.15h-1.3zM640.1 565.1h1.3v1.15h-1.3zM642.9 565.1h1.3v1.15h-1.3zM645.7 565.1h1.3v1.15h-1.3zM648.5 565.1h1.3v1.15h-1.3zM651.3 565.1h1.3v1.15h-1.3zM654.1 565.1h1.3v1.15h-1.3zM656.9 565.1h1.3v1.15h-1.3zM659.7 565.1h1.3v1.15h-1.3zM662.5 565.1h1.3v1.15h-1.3zM665.3 565.1h1.3v1.15h-1.3zM668.1 565.1h1.3v1.15h-1.3zM670.9 565.1h1.3v1.15h-1.3zM673.7 565.1h1.3v1.15h-1.3zM676.5 565.1h1.3v1.15h-1.3zM679.3 565.1h1.3v1.15h-1.3zM682.1 565.1h1.3v1.15h-1.3zM684.9 565.1h1.3v1.15h-1.3zM687.7 565.1h1.3v1.15h-1.3zM690.5 565.1h1.3v1.15h-1.3zM693.3 565.1h1.3v1.15h-1.3zM696.1 565.1h1.3v1.15h-1.3zM698.9 565.1h1.3v1.15h-1.3zM701.7 565.1h1.3v1.15h-1.3zM704.5 565.1h1.3v1.15h-1.3zM707.3 565.1h1.3v1.15h-1.3zM710.1 565.1h1.3v1.15h-1.3zM712.9 565.1h1.3v1.15h-1.3zM715.7 565.1h1.3v1.15h-1.3zM718.5 565.1h1.3v1.15h-1.3zM721.3 565.1h1.3v1.15h-1.3zM724.1 565.1h1.3v1.15h-1.3zM726.9 565.1h1.3v1.15h-1.3zM729.7 565.1h1.3v1.15h-1.3zM732.5 565.1h1.3v1.15h-1.3zM735.3 565.1h1.3v1.15h-1.3zM738.1 565.1h1.3v1.15h-1.3zM740.9 565.1h1.3v1.15h-1.3zM743.7 565.1h1.3v1.15h-1.3zM746.5 565.1h1.3v1.15h-1.3zM749.3 565.1h1.3v1.15h-1.3zM752.1 565.1h1.3v1.15h-1.3zM754.9 565.1h1.3v1.15h-1.3zM757.7 565.1h1.3v1.15h-1.3zM760.5 565.1h1.3v1.15h-1.3zM763.3 565.1h1.3v1.15h-1.3zM766.1 565.1h1.3v1.15h-1.3zM768.9 565.1h1.3v1.15h-1.3zM771.7 565.1h1.3v1.15h-1.3zM774.5 565.1h1.3v1.15h-1.3zM777.3 565.1h1.3v1.15h-1.3zM780.1 565.1h1.3v1.15h-1.3zM782.9 565.1h1.3v1.15h-1.3zM785.7 565.1h1.3v1.15h-1.3zM788.5 565.1h1.3v1.15h-1.3zM791.3 565.1h1.3v1.15h-1.3zM794.1 565.1h1.3v1.15h-1.3zM796.9 565.1h1.3v1.15h-1.3zM799.7 565.1h1.3v1.15h-1.3zM802.5 565.1h1.3v1.15h-1.3zM805.3 565.1h1.3v1.15h-1.3zM808.1 565.1h1.3v1.15h-1.3zM810.9 565.1h1.3v1.15h-1.3zM813.7 565.1h1.3v1.15h-1.3zM816.5 565.1h1.3v1.15h-1.3zM819.3 565.1h1.3v1.15h-1.3zM822.1 565.1h1.3v1.15h-1.3zM824.9 565.1h1.3v1.15h-1.3zM827.7 565.1h1.3v1.15h-1.3zM830.5 565.1h1.3v1.15h-1.3zM833.3 565.1h1.3v1.15h-1.3zM836.1 565.1h1.3v1.15h-1.3zM838.9 565.1h1.3v1.15h-1.3zM841.7 565.1h1.3v1.15h-1.3zM844.5 565.1h1.3v1.15h-1.3zM847.3 565.1h1.3v1.15h-1.3zM850.1 565.1h1.3v1.15h-1.3zM852.9 565.1h1.3v1.15h-1.3zM855.7 565.1h1.3v1.15h-1.3zM858.5 565.1h1.3v1.15h-1.3zM861.3 565.1h1.3v1.15h-1.3zM864.1 565.1h1.3v1.15h-1.3zM866.9 565.1h1.3v1.15h-1.3zM869.7 565.1h1.3v1.15h-1.3zM872.5 565.1h1.3v1.15h-1.3zM875.3 565.1h1.3v1.15h-1.3zM878.1 565.1h1.3v1.15h-1.3zM880.9 565.1h1.3v1.15h-1.3zM883.7 565.1h1.3v1.15h-1.3zM886.5 565.1h1.3v1.15h-1.3zM889.3 565.1h1.3v1.15h-1.3zM892.1 565.1h1.3v1.15h-1.3zM894.9 565.1h1.3v1.15h-1.3zM897.7 565.1h1.3v1.15h-1.3zM900.5 565.1h1.3v1.15h-1.3zM903.3 565.1h1.3v1.15h-1.3zM906.1 565.1h1.3v1.15h-1.3zM908.9 565.1h1.3v1.15h-1.3zM911.7 565.1h1.3v1.15h-1.3zM914.5 565.1h1.3v1.15h-1.3zM917.3 565.1h1.3v1.15h-1.3zM920.1 565.1h1.3v1.15h-1.3zM922.9 565.1h1.3v1.15h-1.3zM925.7 565.1h1.3v1.15h-1.3zM928.5 565.1h1.3v1.15h-1.3zM931.3 565.1h1.3v1.15h-1.3zM934.1 565.1h1.3v1.15h-1.3zM936.9 565.1h1.3v1.15h-1.3zM939.7 565.1h1.3v1.15h-1.3zM942.5 565.1h1.3v1.15h-1.3zM945.3 565.1h1.3v1.15h-1.3zM948.1 565.1h1.3v1.15h-1.3zM950.9 565.1h1.3v1.15h-1.3zM953.7 565.1h1.3v1.15h-1.3zM956.5 565.1h1.3v1.15h-1.3zM959.3 565.1h1.3v1.15h-1.3zM630.3 566.6h1.3v1.15h-1.3zM633.1 566.6h1.3v1.15h-1.3zM635.9 566.6h1.3v1.15h-1.3zM638.7 566.6h1.3v1.15h-1.3zM641.5 566.6h1.3v1.15h-1.3zM644.3 566.6h1.3v1.15h-1.3zM647.1 566.6h1.3v1.15h-1.3zM649.9 566.6h1.3v1.15h-1.3zM652.7 566.6h1.3v1.15h-1.3zM655.5 566.6h1.3v1.15h-1.3zM658.3 566.6h1.3v1.15h-1.3zM661.1 566.6h1.3v1.15h-1.3zM663.9 566.6h1.3v1.15h-1.3zM666.7 566.6h1.3v1.15h-1.3zM669.5 566.6h1.3v1.15h-1.3zM672.3 566.6h1.3v1.15h-1.3zM675.1 566.6h1.3v1.15h-1.3zM677.9 566.6h1.3v1.15h-1.3zM680.7 566.6h1.3v1.15h-1.3zM683.5 566.6h1.3v1.15h-1.3zM686.3 566.6h1.3v1.15h-1.3zM689.1 566.6h1.3v1.15h-1.3zM691.9 566.6h1.3v1.15h-1.3zM694.7 566.6h1.3v1.15h-1.3zM697.5 566.6h1.3v1.15h-1.3zM700.3 566.6h1.3v1.15h-1.3zM703.1 566.6h1.3v1.15h-1.3zM705.9 566.6h1.3v1.15h-1.3zM708.7 566.6h1.3v1.15h-1.3zM711.5 566.6h1.3v1.15h-1.3zM714.3 566.6h1.3v1.15h-1.3zM717.1 566.6h1.3v1.15h-1.3zM719.9 566.6h1.3v1.15h-1.3zM722.7 566.6h1.3v1.15h-1.3zM725.5 566.6h1.3v1.15h-1.3zM728.3 566.6h1.3v1.15h-1.3zM731.1 566.6h1.3v1.15h-1.3zM733.9 566.6h1.3v1.15h-1.3zM736.7 566.6h1.3v1.15h-1.3zM739.5 566.6h1.3v1.15h-1.3zM742.3 566.6h1.3v1.15h-1.3zM745.1 566.6h1.3v1.15h-1.3zM747.9 566.6h1.3v1.15h-1.3zM750.7 566.6h1.3v1.15h-1.3zM753.5 566.6h1.3v1.15h-1.3zM756.3 566.6h1.3v1.15h-1.3zM759.1 566.6h1.3v1.15h-1.3zM761.9 566.6h1.3v1.15h-1.3zM764.7 566.6h1.3v1.15h-1.3zM767.5 566.6h1.3v1.15h-1.3zM770.3 566.6h1.3v1.15h-1.3zM773.1 566.6h1.3v1.15h-1.3zM775.9 566.6h1.3v1.15h-1.3zM778.7 566.6h1.3v1.15h-1.3zM781.5 566.6h1.3v1.15h-1.3zM784.3 566.6h1.3v1.15h-1.3zM787.1 566.6h1.3v1.15h-1.3zM789.9 566.6h1.3v1.15h-1.3zM792.7 566.6h1.3v1.15h-1.3zM795.5 566.6h1.3v1.15h-1.3zM798.3 566.6h1.3v1.15h-1.3zM801.1 566.6h1.3v1.15h-1.3zM803.9 566.6h1.3v1.15h-1.3zM806.7 566.6h1.3v1.15h-1.3zM809.5 566.6h1.3v1.15h-1.3zM812.3 566.6h1.3v1.15h-1.3zM815.1 566.6h1.3v1.15h-1.3zM817.9 566.6h1.3v1.15h-1.3zM820.7 566.6h1.3v1.15h-1.3zM823.5 566.6h1.3v1.15h-1.3zM826.3 566.6h1.3v1.15h-1.3zM829.1 566.6h1.3v1.15h-1.3zM831.9 566.6h1.3v1.15h-1.3zM834.7 566.6h1.3v1.15h-1.3zM837.5 566.6h1.3v1.15h-1.3zM840.3 566.6h1.3v1.15h-1.3zM843.1 566.6h1.3v1.15h-1.3zM845.9 566.6h1.3v1.15h-1.3zM848.7 566.6h1.3v1.15h-1.3zM851.5 566.6h1.3v1.15h-1.3zM854.3 566.6h1.3v1.15h-1.3zM857.1 566.6h1.3v1.15h-1.3zM859.9 566.6h1.3v1.15h-1.3zM862.7 566.6h1.3v1.15h-1.3zM865.5 566.6h1.3v1.15h-1.3zM868.3 566.6h1.3v1.15h-1.3zM871.1 566.6h1.3v1.15h-1.3zM873.9 566.6h1.3v1.15h-1.3zM876.7 566.6h1.3v1.15h-1.3zM879.5 566.6h1.3v1.15h-1.3zM882.3 566.6h1.3v1.15h-1.3zM885.1 566.6h1.3v1.15h-1.3zM887.9 566.6h1.3v1.15h-1.3zM890.7 566.6h1.3v1.15h-1.3zM893.5 566.6h1.3v1.15h-1.3zM896.3 566.6h1.3v1.15h-1.3zM899.1 566.6h1.3v1.15h-1.3zM901.9 566.6h1.3v1.15h-1.3zM904.7 566.6h1.3v1.15h-1.3zM907.5 566.6h1.3v1.15h-1.3zM910.3 566.6h1.3v1.15h-1.3zM913.1 566.6h1.3v1.15h-1.3zM915.9 566.6h1.3v1.15h-1.3zM918.7 566.6h1.3v1.15h-1.3zM921.5 566.6h1.3v1.15h-1.3zM924.3 566.6h1.3v1.15h-1.3zM927.1 566.6h1.3v1.15h-1.3zM929.9 566.6h1.3v1.15h-1.3zM932.7 566.6h1.3v1.15h-1.3zM935.5 566.6h1.3v1.15h-1.3zM938.3 566.6h1.3v1.15h-1.3zM941.1 566.6h1.3v1.15h-1.3zM943.9 566.6h1.3v1.15h-1.3zM946.7 566.6h1.3v1.15h-1.3zM949.5 566.6h1.3v1.15h-1.3zM952.3 566.6h1.3v1.15h-1.3zM955.1 566.6h1.3v1.15h-1.3zM957.9 566.6h1.3v1.15h-1.3zM960.7 566.6h1.3v1.15h-1.3zM628.9 568.1h1.3v1.15h-1.3zM631.7 568.1h1.3v1.15h-1.3zM634.5 568.1h1.3v1.15h-1.3zM637.3 568.1h1.3v1.15h-1.3zM640.1 568.1h1.3v1.15h-1.3zM642.9 568.1h1.3v1.15h-1.3zM645.7 568.1h1.3v1.15h-1.3zM648.5 568.1h1.3v1.15h-1.3zM651.3 568.1h1.3v1.15h-1.3zM654.1 568.1h1.3v1.15h-1.3zM656.9 568.1h1.3v1.15h-1.3zM659.7 568.1h1.3v1.15h-1.3zM662.5 568.1h1.3v1.15h-1.3zM665.3 568.1h1.3v1.15h-1.3zM668.1 568.1h1.3v1.15h-1.3zM670.9 568.1h1.3v1.15h-1.3zM673.7 568.1h1.3v1.15h-1.3zM676.5 568.1h1.3v1.15h-1.3zM679.3 568.1h1.3v1.15h-1.3zM682.1 568.1h1.3v1.15h-1.3zM684.9 568.1h1.3v1.15h-1.3zM687.7 568.1h1.3v1.15h-1.3zM690.5 568.1h1.3v1.15h-1.3zM693.3 568.1h1.3v1.15h-1.3zM696.1 568.1h1.3v1.15h-1.3zM698.9 568.1h1.3v1.15h-1.3zM701.7 568.1h1.3v1.15h-1.3zM704.5 568.1h1.3v1.15h-1.3zM707.3 568.1h1.3v1.15h-1.3zM710.1 568.1h1.3v1.15h-1.3zM712.9 568.1h1.3v1.15h-1.3zM715.7 568.1h1.3v1.15h-1.3zM718.5 568.1h1.3v1.15h-1.3zM721.3 568.1h1.3v1.15h-1.3zM724.1 568.1h1.3v1.15h-1.3zM726.9 568.1h1.3v1.15h-1.3zM729.7 568.1h1.3v1.15h-1.3zM732.5 568.1h1.3v1.15h-1.3zM735.3 568.1h1.3v1.15h-1.3zM738.1 568.1h1.3v1.15h-1.3zM740.9 568.1h1.3v1.15h-1.3zM743.7 568.1h1.3v1.15h-1.3zM746.5 568.1h1.3v1.15h-1.3zM749.3 568.1h1.3v1.15h-1.3zM752.1 568.1h1.3v1.15h-1.3zM754.9 568.1h1.3v1.15h-1.3zM757.7 568.1h1.3v1.15h-1.3zM760.5 568.1h1.3v1.15h-1.3zM763.3 568.1h1.3v1.15h-1.3zM766.1 568.1h1.3v1.15h-1.3zM768.9 568.1h1.3v1.15h-1.3zM771.7 568.1h1.3v1.15h-1.3zM774.5 568.1h1.3v1.15h-1.3zM777.3 568.1h1.3v1.15h-1.3zM780.1 568.1h1.3v1.15h-1.3zM782.9 568.1h1.3v1.15h-1.3zM785.7 568.1h1.3v1.15h-1.3zM788.5 568.1h1.3v1.15h-1.3zM791.3 568.1h1.3v1.15h-1.3zM794.1 568.1h1.3v1.15h-1.3zM796.9 568.1h1.3v1.15h-1.3zM799.7 568.1h1.3v1.15h-1.3zM802.5 568.1h1.3v1.15h-1.3zM805.3 568.1h1.3v1.15h-1.3zM808.1 568.1h1.3v1.15h-1.3zM810.9 568.1h1.3v1.15h-1.3zM813.7 568.1h1.3v1.15h-1.3zM816.5 568.1h1.3v1.15h-1.3zM819.3 568.1h1.3v1.15h-1.3zM822.1 568.1h1.3v1.15h-1.3zM824.9 568.1h1.3v1.15h-1.3zM827.7 568.1h1.3v1.15h-1.3zM830.5 568.1h1.3v1.15h-1.3zM833.3 568.1h1.3v1.15h-1.3zM836.1 568.1h1.3v1.15h-1.3zM838.9 568.1h1.3v1.15h-1.3zM841.7 568.1h1.3v1.15h-1.3zM844.5 568.1h1.3v1.15h-1.3zM847.3 568.1h1.3v1.15h-1.3zM850.1 568.1h1.3v1.15h-1.3zM852.9 568.1h1.3v1.15h-1.3zM855.7 568.1h1.3v1.15h-1.3zM858.5 568.1h1.3v1.15h-1.3zM861.3 568.1h1.3v1.15h-1.3zM864.1 568.1h1.3v1.15h-1.3zM866.9 568.1h1.3v1.15h-1.3zM869.7 568.1h1.3v1.15h-1.3zM872.5 568.1h1.3v1.15h-1.3zM875.3 568.1h1.3v1.15h-1.3zM878.1 568.1h1.3v1.15h-1.3zM880.9 568.1h1.3v1.15h-1.3zM883.7 568.1h1.3v1.15h-1.3zM886.5 568.1h1.3v1.15h-1.3zM889.3 568.1h1.3v1.15h-1.3zM892.1 568.1h1.3v1.15h-1.3zM894.9 568.1h1.3v1.15h-1.3zM897.7 568.1h1.3v1.15h-1.3zM900.5 568.1h1.3v1.15h-1.3zM903.3 568.1h1.3v1.15h-1.3zM906.1 568.1h1.3v1.15h-1.3zM908.9 568.1h1.3v1.15h-1.3zM911.7 568.1h1.3v1.15h-1.3zM914.5 568.1h1.3v1.15h-1.3zM917.3 568.1h1.3v1.15h-1.3zM920.1 568.1h1.3v1.15h-1.3zM922.9 568.1h1.3v1.15h-1.3zM925.7 568.1h1.3v1.15h-1.3zM928.5 568.1h1.3v1.15h-1.3zM931.3 568.1h1.3v1.15h-1.3zM934.1 568.1h1.3v1.15h-1.3zM936.9 568.1h1.3v1.15h-1.3zM939.7 568.1h1.3v1.15h-1.3zM942.5 568.1h1.3v1.15h-1.3zM945.3 568.1h1.3v1.15h-1.3zM948.1 568.1h1.3v1.15h-1.3zM950.9 568.1h1.3v1.15h-1.3zM953.7 568.1h1.3v1.15h-1.3zM956.5 568.1h1.3v1.15h-1.3zM959.3 568.1h1.3v1.15h-1.3zM630.3 569.6h1.3v1.15h-1.3zM633.1 569.6h1.3v1.15h-1.3zM635.9 569.6h1.3v1.15h-1.3zM638.7 569.6h1.3v1.15h-1.3zM641.5 569.6h1.3v1.15h-1.3zM644.3 569.6h1.3v1.15h-1.3zM647.1 569.6h1.3v1.15h-1.3zM649.9 569.6h1.3v1.15h-1.3zM652.7 569.6h1.3v1.15h-1.3zM655.5 569.6h1.3v1.15h-1.3zM658.3 569.6h1.3v1.15h-1.3zM661.1 569.6h1.3v1.15h-1.3zM663.9 569.6h1.3v1.15h-1.3zM666.7 569.6h1.3v1.15h-1.3zM669.5 569.6h1.3v1.15h-1.3zM672.3 569.6h1.3v1.15h-1.3zM675.1 569.6h1.3v1.15h-1.3zM677.9 569.6h1.3v1.15h-1.3zM680.7 569.6h1.3v1.15h-1.3zM683.5 569.6h1.3v1.15h-1.3zM686.3 569.6h1.3v1.15h-1.3zM689.1 569.6h1.3v1.15h-1.3zM691.9 569.6h1.3v1.15h-1.3zM694.7 569.6h1.3v1.15h-1.3zM697.5 569.6h1.3v1.15h-1.3zM700.3 569.6h1.3v1.15h-1.3zM703.1 569.6h1.3v1.15h-1.3zM705.9 569.6h1.3v1.15h-1.3zM708.7 569.6h1.3v1.15h-1.3zM711.5 569.6h1.3v1.15h-1.3zM714.3 569.6h1.3v1.15h-1.3zM717.1 569.6h1.3v1.15h-1.3zM719.9 569.6h1.3v1.15h-1.3zM722.7 569.6h1.3v1.15h-1.3zM725.5 569.6h1.3v1.15h-1.3zM728.3 569.6h1.3v1.15h-1.3zM731.1 569.6h1.3v1.15h-1.3zM733.9 569.6h1.3v1.15h-1.3zM736.7 569.6h1.3v1.15h-1.3zM739.5 569.6h1.3v1.15h-1.3zM742.3 569.6h1.3v1.15h-1.3zM745.1 569.6h1.3v1.15h-1.3zM747.9 569.6h1.3v1.15h-1.3zM750.7 569.6h1.3v1.15h-1.3zM753.5 569.6h1.3v1.15h-1.3zM756.3 569.6h1.3v1.15h-1.3zM759.1 569.6h1.3v1.15h-1.3zM761.9 569.6h1.3v1.15h-1.3zM764.7 569.6h1.3v1.15h-1.3zM767.5 569.6h1.3v1.15h-1.3zM770.3 569.6h1.3v1.15h-1.3zM773.1 569.6h1.3v1.15h-1.3zM775.9 569.6h1.3v1.15h-1.3zM778.7 569.6h1.3v1.15h-1.3zM781.5 569.6h1.3v1.15h-1.3zM784.3 569.6h1.3v1.15h-1.3zM787.1 569.6h1.3v1.15h-1.3zM789.9 569.6h1.3v1.15h-1.3zM792.7 569.6h1.3v1.15h-1.3zM795.5 569.6h1.3v1.15h-1.3zM798.3 569.6h1.3v1.15h-1.3zM801.1 569.6h1.3v1.15h-1.3zM803.9 569.6h1.3v1.15h-1.3zM806.7 569.6h1.3v1.15h-1.3zM809.5 569.6h1.3v1.15h-1.3zM812.3 569.6h1.3v1.15h-1.3zM815.1 569.6h1.3v1.15h-1.3zM817.9 569.6h1.3v1.15h-1.3zM820.7 569.6h1.3v1.15h-1.3zM823.5 569.6h1.3v1.15h-1.3zM826.3 569.6h1.3v1.15h-1.3zM829.1 569.6h1.3v1.15h-1.3zM831.9 569.6h1.3v1.15h-1.3zM834.7 569.6h1.3v1.15h-1.3zM837.5 569.6h1.3v1.15h-1.3zM840.3 569.6h1.3v1.15h-1.3zM843.1 569.6h1.3v1.15h-1.3zM845.9 569.6h1.3v1.15h-1.3zM848.7 569.6h1.3v1.15h-1.3zM851.5 569.6h1.3v1.15h-1.3zM854.3 569.6h1.3v1.15h-1.3zM857.1 569.6h1.3v1.15h-1.3zM859.9 569.6h1.3v1.15h-1.3zM862.7 569.6h1.3v1.15h-1.3zM865.5 569.6h1.3v1.15h-1.3zM868.3 569.6h1.3v1.15h-1.3zM871.1 569.6h1.3v1.15h-1.3zM873.9 569.6h1.3v1.15h-1.3zM876.7 569.6h1.3v1.15h-1.3zM879.5 569.6h1.3v1.15h-1.3zM882.3 569.6h1.3v1.15h-1.3zM885.1 569.6h1.3v1.15h-1.3zM887.9 569.6h1.3v1.15h-1.3zM890.7 569.6h1.3v1.15h-1.3zM893.5 569.6h1.3v1.15h-1.3zM896.3 569.6h1.3v1.15h-1.3zM899.1 569.6h1.3v1.15h-1.3zM901.9 569.6h1.3v1.15h-1.3zM904.7 569.6h1.3v1.15h-1.3zM907.5 569.6h1.3v1.15h-1.3zM910.3 569.6h1.3v1.15h-1.3zM913.1 569.6h1.3v1.15h-1.3zM915.9 569.6h1.3v1.15h-1.3zM918.7 569.6h1.3v1.15h-1.3zM921.5 569.6h1.3v1.15h-1.3zM924.3 569.6h1.3v1.15h-1.3zM927.1 569.6h1.3v1.15h-1.3zM929.9 569.6h1.3v1.15h-1.3zM932.7 569.6h1.3v1.15h-1.3zM935.5 569.6h1.3v1.15h-1.3zM938.3 569.6h1.3v1.15h-1.3zM941.1 569.6h1.3v1.15h-1.3zM943.9 569.6h1.3v1.15h-1.3zM946.7 569.6h1.3v1.15h-1.3zM949.5 569.6h1.3v1.15h-1.3zM952.3 569.6h1.3v1.15h-1.3zM955.1 569.6h1.3v1.15h-1.3zM957.9 569.6h1.3v1.15h-1.3zM960.7 569.6h1.3v1.15h-1.3zM628.9 571.1h1.3v1.15h-1.3zM631.7 571.1h1.3v1.15h-1.3zM634.5 571.1h1.3v1.15h-1.3zM637.3 571.1h1.3v1.15h-1.3zM640.1 571.1h1.3v1.15h-1.3zM642.9 571.1h1.3v1.15h-1.3zM645.7 571.1h1.3v1.15h-1.3zM648.5 571.1h1.3v1.15h-1.3zM651.3 571.1h1.3v1.15h-1.3zM654.1 571.1h1.3v1.15h-1.3zM656.9 571.1h1.3v1.15h-1.3zM659.7 571.1h1.3v1.15h-1.3zM662.5 571.1h1.3v1.15h-1.3zM665.3 571.1h1.3v1.15h-1.3zM668.1 571.1h1.3v1.15h-1.3zM670.9 571.1h1.3v1.15h-1.3zM673.7 571.1h1.3v1.15h-1.3zM676.5 571.1h1.3v1.15h-1.3zM679.3 571.1h1.3v1.15h-1.3zM682.1 571.1h1.3v1.15h-1.3zM684.9 571.1h1.3v1.15h-1.3zM687.7 571.1h1.3v1.15h-1.3zM690.5 571.1h1.3v1.15h-1.3zM693.3 571.1h1.3v1.15h-1.3zM696.1 571.1h1.3v1.15h-1.3zM698.9 571.1h1.3v1.15h-1.3zM701.7 571.1h1.3v1.15h-1.3zM704.5 571.1h1.3v1.15h-1.3zM707.3 571.1h1.3v1.15h-1.3zM710.1 571.1h1.3v1.15h-1.3zM712.9 571.1h1.3v1.15h-1.3zM715.7 571.1h1.3v1.15h-1.3zM718.5 571.1h1.3v1.15h-1.3zM721.3 571.1h1.3v1.15h-1.3zM724.1 571.1h1.3v1.15h-1.3zM726.9 571.1h1.3v1.15h-1.3zM729.7 571.1h1.3v1.15h-1.3zM732.5 571.1h1.3v1.15h-1.3zM735.3 571.1h1.3v1.15h-1.3zM738.1 571.1h1.3v1.15h-1.3zM740.9 571.1h1.3v1.15h-1.3zM743.7 571.1h1.3v1.15h-1.3zM746.5 571.1h1.3v1.15h-1.3zM749.3 571.1h1.3v1.15h-1.3zM752.1 571.1h1.3v1.15h-1.3zM754.9 571.1h1.3v1.15h-1.3zM757.7 571.1h1.3v1.15h-1.3zM760.5 571.1h1.3v1.15h-1.3zM763.3 571.1h1.3v1.15h-1.3zM766.1 571.1h1.3v1.15h-1.3zM768.9 571.1h1.3v1.15h-1.3zM771.7 571.1h1.3v1.15h-1.3zM774.5 571.1h1.3v1.15h-1.3zM777.3 571.1h1.3v1.15h-1.3zM780.1 571.1h1.3v1.15h-1.3zM782.9 571.1h1.3v1.15h-1.3zM785.7 571.1h1.3v1.15h-1.3zM788.5 571.1h1.3v1.15h-1.3zM791.3 571.1h1.3v1.15h-1.3zM794.1 571.1h1.3v1.15h-1.3zM796.9 571.1h1.3v1.15h-1.3zM799.7 571.1h1.3v1.15h-1.3zM802.5 571.1h1.3v1.15h-1.3zM805.3 571.1h1.3v1.15h-1.3zM808.1 571.1h1.3v1.15h-1.3zM810.9 571.1h1.3v1.15h-1.3zM813.7 571.1h1.3v1.15h-1.3zM816.5 571.1h1.3v1.15h-1.3zM819.3 571.1h1.3v1.15h-1.3zM822.1 571.1h1.3v1.15h-1.3zM824.9 571.1h1.3v1.15h-1.3zM827.7 571.1h1.3v1.15h-1.3zM830.5 571.1h1.3v1.15h-1.3zM833.3 571.1h1.3v1.15h-1.3zM836.1 571.1h1.3v1.15h-1.3zM838.9 571.1h1.3v1.15h-1.3zM841.7 571.1h1.3v1.15h-1.3zM844.5 571.1h1.3v1.15h-1.3zM847.3 571.1h1.3v1.15h-1.3zM850.1 571.1h1.3v1.15h-1.3zM852.9 571.1h1.3v1.15h-1.3zM855.7 571.1h1.3v1.15h-1.3zM858.5 571.1h1.3v1.15h-1.3zM861.3 571.1h1.3v1.15h-1.3zM864.1 571.1h1.3v1.15h-1.3zM866.9 571.1h1.3v1.15h-1.3zM869.7 571.1h1.3v1.15h-1.3zM872.5 571.1h1.3v1.15h-1.3zM875.3 571.1h1.3v1.15h-1.3zM878.1 571.1h1.3v1.15h-1.3zM880.9 571.1h1.3v1.15h-1.3zM883.7 571.1h1.3v1.15h-1.3zM886.5 571.1h1.3v1.15h-1.3zM889.3 571.1h1.3v1.15h-1.3zM892.1 571.1h1.3v1.15h-1.3zM894.9 571.1h1.3v1.15h-1.3zM897.7 571.1h1.3v1.15h-1.3zM900.5 571.1h1.3v1.15h-1.3zM903.3 571.1h1.3v1.15h-1.3zM906.1 571.1h1.3v1.15h-1.3zM908.9 571.1h1.3v1.15h-1.3zM911.7 571.1h1.3v1.15h-1.3zM914.5 571.1h1.3v1.15h-1.3zM917.3 571.1h1.3v1.15h-1.3zM920.1 571.1h1.3v1.15h-1.3zM922.9 571.1h1.3v1.15h-1.3zM925.7 571.1h1.3v1.15h-1.3zM928.5 571.1h1.3v1.15h-1.3zM931.3 571.1h1.3v1.15h-1.3zM934.1 571.1h1.3v1.15h-1.3zM936.9 571.1h1.3v1.15h-1.3zM939.7 571.1h1.3v1.15h-1.3zM942.5 571.1h1.3v1.15h-1.3zM945.3 571.1h1.3v1.15h-1.3zM948.1 571.1h1.3v1.15h-1.3zM950.9 571.1h1.3v1.15h-1.3zM953.7 571.1h1.3v1.15h-1.3zM956.5 571.1h1.3v1.15h-1.3zM959.3 571.1h1.3v1.15h-1.3zM630.3 572.6h1.3v1.15h-1.3zM633.1 572.6h1.3v1.15h-1.3zM635.9 572.6h1.3v1.15h-1.3zM638.7 572.6h1.3v1.15h-1.3zM641.5 572.6h1.3v1.15h-1.3zM644.3 572.6h1.3v1.15h-1.3zM647.1 572.6h1.3v1.15h-1.3zM649.9 572.6h1.3v1.15h-1.3zM652.7 572.6h1.3v1.15h-1.3zM655.5 572.6h1.3v1.15h-1.3zM658.3 572.6h1.3v1.15h-1.3zM661.1 572.6h1.3v1.15h-1.3zM663.9 572.6h1.3v1.15h-1.3zM666.7 572.6h1.3v1.15h-1.3zM669.5 572.6h1.3v1.15h-1.3zM672.3 572.6h1.3v1.15h-1.3zM675.1 572.6h1.3v1.15h-1.3zM677.9 572.6h1.3v1.15h-1.3zM680.7 572.6h1.3v1.15h-1.3zM683.5 572.6h1.3v1.15h-1.3zM686.3 572.6h1.3v1.15h-1.3zM689.1 572.6h1.3v1.15h-1.3zM691.9 572.6h1.3v1.15h-1.3zM694.7 572.6h1.3v1.15h-1.3zM697.5 572.6h1.3v1.15h-1.3zM700.3 572.6h1.3v1.15h-1.3zM703.1 572.6h1.3v1.15h-1.3zM705.9 572.6h1.3v1.15h-1.3zM708.7 572.6h1.3v1.15h-1.3zM711.5 572.6h1.3v1.15h-1.3zM714.3 572.6h1.3v1.15h-1.3zM717.1 572.6h1.3v1.15h-1.3zM719.9 572.6h1.3v1.15h-1.3zM722.7 572.6h1.3v1.15h-1.3zM725.5 572.6h1.3v1.15h-1.3zM728.3 572.6h1.3v1.15h-1.3zM731.1 572.6h1.3v1.15h-1.3zM733.9 572.6h1.3v1.15h-1.3zM736.7 572.6h1.3v1.15h-1.3zM739.5 572.6h1.3v1.15h-1.3zM742.3 572.6h1.3v1.15h-1.3zM745.1 572.6h1.3v1.15h-1.3zM747.9 572.6h1.3v1.15h-1.3zM750.7 572.6h1.3v1.15h-1.3zM753.5 572.6h1.3v1.15h-1.3zM756.3 572.6h1.3v1.15h-1.3zM759.1 572.6h1.3v1.15h-1.3zM761.9 572.6h1.3v1.15h-1.3zM764.7 572.6h1.3v1.15h-1.3zM767.5 572.6h1.3v1.15h-1.3zM770.3 572.6h1.3v1.15h-1.3zM773.1 572.6h1.3v1.15h-1.3zM775.9 572.6h1.3v1.15h-1.3zM778.7 572.6h1.3v1.15h-1.3zM781.5 572.6h1.3v1.15h-1.3zM784.3 572.6h1.3v1.15h-1.3zM787.1 572.6h1.3v1.15h-1.3zM789.9 572.6h1.3v1.15h-1.3zM792.7 572.6h1.3v1.15h-1.3zM795.5 572.6h1.3v1.15h-1.3zM798.3 572.6h1.3v1.15h-1.3zM801.1 572.6h1.3v1.15h-1.3zM803.9 572.6h1.3v1.15h-1.3zM806.7 572.6h1.3v1.15h-1.3zM809.5 572.6h1.3v1.15h-1.3zM812.3 572.6h1.3v1.15h-1.3zM815.1 572.6h1.3v1.15h-1.3zM817.9 572.6h1.3v1.15h-1.3zM820.7 572.6h1.3v1.15h-1.3zM823.5 572.6h1.3v1.15h-1.3zM826.3 572.6h1.3v1.15h-1.3zM829.1 572.6h1.3v1.15h-1.3zM831.9 572.6h1.3v1.15h-1.3zM834.7 572.6h1.3v1.15h-1.3zM837.5 572.6h1.3v1.15h-1.3zM840.3 572.6h1.3v1.15h-1.3zM843.1 572.6h1.3v1.15h-1.3zM845.9 572.6h1.3v1.15h-1.3zM848.7 572.6h1.3v1.15h-1.3zM851.5 572.6h1.3v1.15h-1.3zM854.3 572.6h1.3v1.15h-1.3zM857.1 572.6h1.3v1.15h-1.3zM859.9 572.6h1.3v1.15h-1.3zM862.7 572.6h1.3v1.15h-1.3zM865.5 572.6h1.3v1.15h-1.3zM868.3 572.6h1.3v1.15h-1.3zM871.1 572.6h1.3v1.15h-1.3zM873.9 572.6h1.3v1.15h-1.3zM876.7 572.6h1.3v1.15h-1.3zM879.5 572.6h1.3v1.15h-1.3zM882.3 572.6h1.3v1.15h-1.3zM885.1 572.6h1.3v1.15h-1.3zM887.9 572.6h1.3v1.15h-1.3zM890.7 572.6h1.3v1.15h-1.3zM893.5 572.6h1.3v1.15h-1.3zM896.3 572.6h1.3v1.15h-1.3zM899.1 572.6h1.3v1.15h-1.3zM901.9 572.6h1.3v1.15h-1.3zM904.7 572.6h1.3v1.15h-1.3zM907.5 572.6h1.3v1.15h-1.3zM910.3 572.6h1.3v1.15h-1.3zM913.1 572.6h1.3v1.15h-1.3zM915.9 572.6h1.3v1.15h-1.3zM918.7 572.6h1.3v1.15h-1.3zM921.5 572.6h1.3v1.15h-1.3zM924.3 572.6h1.3v1.15h-1.3zM927.1 572.6h1.3v1.15h-1.3zM929.9 572.6h1.3v1.15h-1.3zM932.7 572.6h1.3v1.15h-1.3zM935.5 572.6h1.3v1.15h-1.3zM938.3 572.6h1.3v1.15h-1.3zM941.1 572.6h1.3v1.15h-1.3zM943.9 572.6h1.3v1.15h-1.3zM946.7 572.6h1.3v1.15h-1.3zM949.5 572.6h1.3v1.15h-1.3zM952.3 572.6h1.3v1.15h-1.3zM955.1 572.6h1.3v1.15h-1.3zM957.9 572.6h1.3v1.15h-1.3zM960.7 572.6h1.3v1.15h-1.3zM628.9 574.1h1.3v1.15h-1.3zM631.7 574.1h1.3v1.15h-1.3zM634.5 574.1h1.3v1.15h-1.3zM637.3 574.1h1.3v1.15h-1.3zM640.1 574.1h1.3v1.15h-1.3zM642.9 574.1h1.3v1.15h-1.3zM645.7 574.1h1.3v1.15h-1.3zM648.5 574.1h1.3v1.15h-1.3zM651.3 574.1h1.3v1.15h-1.3zM654.1 574.1h1.3v1.15h-1.3zM656.9 574.1h1.3v1.15h-1.3zM659.7 574.1h1.3v1.15h-1.3zM662.5 574.1h1.3v1.15h-1.3zM665.3 574.1h1.3v1.15h-1.3zM668.1 574.1h1.3v1.15h-1.3zM670.9 574.1h1.3v1.15h-1.3zM673.7 574.1h1.3v1.15h-1.3zM676.5 574.1h1.3v1.15h-1.3zM679.3 574.1h1.3v1.15h-1.3zM682.1 574.1h1.3v1.15h-1.3zM684.9 574.1h1.3v1.15h-1.3zM687.7 574.1h1.3v1.15h-1.3zM690.5 574.1h1.3v1.15h-1.3zM693.3 574.1h1.3v1.15h-1.3zM696.1 574.1h1.3v1.15h-1.3zM698.9 574.1h1.3v1.15h-1.3zM701.7 574.1h1.3v1.15h-1.3zM704.5 574.1h1.3v1.15h-1.3zM707.3 574.1h1.3v1.15h-1.3zM710.1 574.1h1.3v1.15h-1.3zM712.9 574.1h1.3v1.15h-1.3zM715.7 574.1h1.3v1.15h-1.3zM718.5 574.1h1.3v1.15h-1.3zM721.3 574.1h1.3v1.15h-1.3zM724.1 574.1h1.3v1.15h-1.3zM726.9 574.1h1.3v1.15h-1.3zM729.7 574.1h1.3v1.15h-1.3zM732.5 574.1h1.3v1.15h-1.3zM735.3 574.1h1.3v1.15h-1.3zM738.1 574.1h1.3v1.15h-1.3zM740.9 574.1h1.3v1.15h-1.3zM743.7 574.1h1.3v1.15h-1.3zM746.5 574.1h1.3v1.15h-1.3zM749.3 574.1h1.3v1.15h-1.3zM752.1 574.1h1.3v1.15h-1.3zM754.9 574.1h1.3v1.15h-1.3zM757.7 574.1h1.3v1.15h-1.3zM760.5 574.1h1.3v1.15h-1.3zM763.3 574.1h1.3v1.15h-1.3zM766.1 574.1h1.3v1.15h-1.3zM768.9 574.1h1.3v1.15h-1.3zM771.7 574.1h1.3v1.15h-1.3zM774.5 574.1h1.3v1.15h-1.3zM777.3 574.1h1.3v1.15h-1.3zM780.1 574.1h1.3v1.15h-1.3zM782.9 574.1h1.3v1.15h-1.3zM785.7 574.1h1.3v1.15h-1.3zM788.5 574.1h1.3v1.15h-1.3zM791.3 574.1h1.3v1.15h-1.3zM794.1 574.1h1.3v1.15h-1.3zM796.9 574.1h1.3v1.15h-1.3zM799.7 574.1h1.3v1.15h-1.3zM802.5 574.1h1.3v1.15h-1.3zM805.3 574.1h1.3v1.15h-1.3zM808.1 574.1h1.3v1.15h-1.3zM810.9 574.1h1.3v1.15h-1.3zM813.7 574.1h1.3v1.15h-1.3zM816.5 574.1h1.3v1.15h-1.3zM819.3 574.1h1.3v1.15h-1.3zM822.1 574.1h1.3v1.15h-1.3zM824.9 574.1h1.3v1.15h-1.3zM827.7 574.1h1.3v1.15h-1.3zM830.5 574.1h1.3v1.15h-1.3zM833.3 574.1h1.3v1.15h-1.3zM836.1 574.1h1.3v1.15h-1.3zM838.9 574.1h1.3v1.15h-1.3zM841.7 574.1h1.3v1.15h-1.3zM844.5 574.1h1.3v1.15h-1.3zM847.3 574.1h1.3v1.15h-1.3zM850.1 574.1h1.3v1.15h-1.3zM852.9 574.1h1.3v1.15h-1.3zM855.7 574.1h1.3v1.15h-1.3zM858.5 574.1h1.3v1.15h-1.3zM861.3 574.1h1.3v1.15h-1.3zM864.1 574.1h1.3v1.15h-1.3zM866.9 574.1h1.3v1.15h-1.3zM869.7 574.1h1.3v1.15h-1.3zM872.5 574.1h1.3v1.15h-1.3zM875.3 574.1h1.3v1.15h-1.3zM878.1 574.1h1.3v1.15h-1.3zM880.9 574.1h1.3v1.15h-1.3zM883.7 574.1h1.3v1.15h-1.3zM886.5 574.1h1.3v1.15h-1.3zM889.3 574.1h1.3v1.15h-1.3zM892.1 574.1h1.3v1.15h-1.3zM894.9 574.1h1.3v1.15h-1.3zM897.7 574.1h1.3v1.15h-1.3zM900.5 574.1h1.3v1.15h-1.3zM903.3 574.1h1.3v1.15h-1.3zM906.1 574.1h1.3v1.15h-1.3zM908.9 574.1h1.3v1.15h-1.3zM911.7 574.1h1.3v1.15h-1.3zM914.5 574.1h1.3v1.15h-1.3zM917.3 574.1h1.3v1.15h-1.3zM920.1 574.1h1.3v1.15h-1.3zM922.9 574.1h1.3v1.15h-1.3zM925.7 574.1h1.3v1.15h-1.3zM928.5 574.1h1.3v1.15h-1.3zM931.3 574.1h1.3v1.15h-1.3zM934.1 574.1h1.3v1.15h-1.3zM936.9 574.1h1.3v1.15h-1.3zM939.7 574.1h1.3v1.15h-1.3zM942.5 574.1h1.3v1.15h-1.3zM945.3 574.1h1.3v1.15h-1.3zM948.1 574.1h1.3v1.15h-1.3zM950.9 574.1h1.3v1.15h-1.3zM953.7 574.1h1.3v1.15h-1.3zM956.5 574.1h1.3v1.15h-1.3zM959.3 574.1h1.3v1.15h-1.3zM630.3 575.6h1.3v1.15h-1.3zM633.1 575.6h1.3v1.15h-1.3zM635.9 575.6h1.3v1.15h-1.3zM638.7 575.6h1.3v1.15h-1.3zM641.5 575.6h1.3v1.15h-1.3zM644.3 575.6h1.3v1.15h-1.3zM647.1 575.6h1.3v1.15h-1.3zM649.9 575.6h1.3v1.15h-1.3zM652.7 575.6h1.3v1.15h-1.3zM655.5 575.6h1.3v1.15h-1.3zM658.3 575.6h1.3v1.15h-1.3zM661.1 575.6h1.3v1.15h-1.3zM663.9 575.6h1.3v1.15h-1.3zM666.7 575.6h1.3v1.15h-1.3zM669.5 575.6h1.3v1.15h-1.3zM672.3 575.6h1.3v1.15h-1.3zM675.1 575.6h1.3v1.15h-1.3zM677.9 575.6h1.3v1.15h-1.3zM680.7 575.6h1.3v1.15h-1.3zM683.5 575.6h1.3v1.15h-1.3zM686.3 575.6h1.3v1.15h-1.3zM689.1 575.6h1.3v1.15h-1.3zM691.9 575.6h1.3v1.15h-1.3zM694.7 575.6h1.3v1.15h-1.3zM697.5 575.6h1.3v1.15h-1.3zM700.3 575.6h1.3v1.15h-1.3zM703.1 575.6h1.3v1.15h-1.3zM705.9 575.6h1.3v1.15h-1.3zM708.7 575.6h1.3v1.15h-1.3zM711.5 575.6h1.3v1.15h-1.3zM714.3 575.6h1.3v1.15h-1.3zM717.1 575.6h1.3v1.15h-1.3zM719.9 575.6h1.3v1.15h-1.3zM722.7 575.6h1.3v1.15h-1.3zM725.5 575.6h1.3v1.15h-1.3zM728.3 575.6h1.3v1.15h-1.3zM731.1 575.6h1.3v1.15h-1.3zM733.9 575.6h1.3v1.15h-1.3zM736.7 575.6h1.3v1.15h-1.3zM739.5 575.6h1.3v1.15h-1.3zM742.3 575.6h1.3v1.15h-1.3zM745.1 575.6h1.3v1.15h-1.3zM747.9 575.6h1.3v1.15h-1.3zM750.7 575.6h1.3v1.15h-1.3zM753.5 575.6h1.3v1.15h-1.3zM756.3 575.6h1.3v1.15h-1.3zM759.1 575.6h1.3v1.15h-1.3zM761.9 575.6h1.3v1.15h-1.3zM764.7 575.6h1.3v1.15h-1.3zM767.5 575.6h1.3v1.15h-1.3zM770.3 575.6h1.3v1.15h-1.3zM773.1 575.6h1.3v1.15h-1.3zM775.9 575.6h1.3v1.15h-1.3zM778.7 575.6h1.3v1.15h-1.3zM781.5 575.6h1.3v1.15h-1.3zM784.3 575.6h1.3v1.15h-1.3zM787.1 575.6h1.3v1.15h-1.3zM789.9 575.6h1.3v1.15h-1.3zM792.7 575.6h1.3v1.15h-1.3zM795.5 575.6h1.3v1.15h-1.3zM798.3 575.6h1.3v1.15h-1.3zM801.1 575.6h1.3v1.15h-1.3zM803.9 575.6h1.3v1.15h-1.3zM806.7 575.6h1.3v1.15h-1.3zM809.5 575.6h1.3v1.15h-1.3zM812.3 575.6h1.3v1.15h-1.3zM815.1 575.6h1.3v1.15h-1.3zM817.9 575.6h1.3v1.15h-1.3zM820.7 575.6h1.3v1.15h-1.3zM823.5 575.6h1.3v1.15h-1.3zM826.3 575.6h1.3v1.15h-1.3zM829.1 575.6h1.3v1.15h-1.3zM831.9 575.6h1.3v1.15h-1.3zM834.7 575.6h1.3v1.15h-1.3zM837.5 575.6h1.3v1.15h-1.3zM840.3 575.6h1.3v1.15h-1.3zM843.1 575.6h1.3v1.15h-1.3zM845.9 575.6h1.3v1.15h-1.3zM848.7 575.6h1.3v1.15h-1.3zM851.5 575.6h1.3v1.15h-1.3zM854.3 575.6h1.3v1.15h-1.3zM857.1 575.6h1.3v1.15h-1.3zM859.9 575.6h1.3v1.15h-1.3zM862.7 575.6h1.3v1.15h-1.3zM865.5 575.6h1.3v1.15h-1.3zM868.3 575.6h1.3v1.15h-1.3zM871.1 575.6h1.3v1.15h-1.3zM873.9 575.6h1.3v1.15h-1.3zM876.7 575.6h1.3v1.15h-1.3zM879.5 575.6h1.3v1.15h-1.3zM882.3 575.6h1.3v1.15h-1.3zM885.1 575.6h1.3v1.15h-1.3zM887.9 575.6h1.3v1.15h-1.3zM890.7 575.6h1.3v1.15h-1.3zM893.5 575.6h1.3v1.15h-1.3zM896.3 575.6h1.3v1.15h-1.3zM899.1 575.6h1.3v1.15h-1.3zM901.9 575.6h1.3v1.15h-1.3zM904.7 575.6h1.3v1.15h-1.3zM907.5 575.6h1.3v1.15h-1.3zM910.3 575.6h1.3v1.15h-1.3zM913.1 575.6h1.3v1.15h-1.3zM915.9 575.6h1.3v1.15h-1.3zM918.7 575.6h1.3v1.15h-1.3zM921.5 575.6h1.3v1.15h-1.3zM924.3 575.6h1.3v1.15h-1.3zM927.1 575.6h1.3v1.15h-1.3zM929.9 575.6h1.3v1.15h-1.3zM932.7 575.6h1.3v1.15h-1.3zM935.5 575.6h1.3v1.15h-1.3zM938.3 575.6h1.3v1.15h-1.3zM941.1 575.6h1.3v1.15h-1.3zM943.9 575.6h1.3v1.15h-1.3zM946.7 575.6h1.3v1.15h-1.3zM949.5 575.6h1.3v1.15h-1.3zM952.3 575.6h1.3v1.15h-1.3zM955.1 575.6h1.3v1.15h-1.3zM957.9 575.6h1.3v1.15h-1.3zM960.7 575.6h1.3v1.15h-1.3zM628.9 577.1h1.3v1.15h-1.3zM631.7 577.1h1.3v1.15h-1.3zM634.5 577.1h1.3v1.15h-1.3zM637.3 577.1h1.3v1.15h-1.3zM640.1 577.1h1.3v1.15h-1.3zM642.9 577.1h1.3v1.15h-1.3zM645.7 577.1h1.3v1.15h-1.3zM648.5 577.1h1.3v1.15h-1.3zM651.3 577.1h1.3v1.15h-1.3zM654.1 577.1h1.3v1.15h-1.3zM656.9 577.1h1.3v1.15h-1.3zM659.7 577.1h1.3v1.15h-1.3zM662.5 577.1h1.3v1.15h-1.3zM665.3 577.1h1.3v1.15h-1.3zM668.1 577.1h1.3v1.15h-1.3zM670.9 577.1h1.3v1.15h-1.3zM673.7 577.1h1.3v1.15h-1.3zM676.5 577.1h1.3v1.15h-1.3zM679.3 577.1h1.3v1.15h-1.3zM682.1 577.1h1.3v1.15h-1.3zM684.9 577.1h1.3v1.15h-1.3zM687.7 577.1h1.3v1.15h-1.3zM690.5 577.1h1.3v1.15h-1.3zM693.3 577.1h1.3v1.15h-1.3zM696.1 577.1h1.3v1.15h-1.3zM698.9 577.1h1.3v1.15h-1.3zM701.7 577.1h1.3v1.15h-1.3zM704.5 577.1h1.3v1.15h-1.3zM707.3 577.1h1.3v1.15h-1.3zM710.1 577.1h1.3v1.15h-1.3zM712.9 577.1h1.3v1.15h-1.3zM715.7 577.1h1.3v1.15h-1.3zM718.5 577.1h1.3v1.15h-1.3zM721.3 577.1h1.3v1.15h-1.3zM724.1 577.1h1.3v1.15h-1.3zM726.9 577.1h1.3v1.15h-1.3zM729.7 577.1h1.3v1.15h-1.3zM732.5 577.1h1.3v1.15h-1.3zM735.3 577.1h1.3v1.15h-1.3zM738.1 577.1h1.3v1.15h-1.3zM740.9 577.1h1.3v1.15h-1.3zM743.7 577.1h1.3v1.15h-1.3zM746.5 577.1h1.3v1.15h-1.3zM749.3 577.1h1.3v1.15h-1.3zM752.1 577.1h1.3v1.15h-1.3zM754.9 577.1h1.3v1.15h-1.3zM757.7 577.1h1.3v1.15h-1.3zM760.5 577.1h1.3v1.15h-1.3zM763.3 577.1h1.3v1.15h-1.3zM766.1 577.1h1.3v1.15h-1.3zM768.9 577.1h1.3v1.15h-1.3zM771.7 577.1h1.3v1.15h-1.3zM774.5 577.1h1.3v1.15h-1.3zM777.3 577.1h1.3v1.15h-1.3zM780.1 577.1h1.3v1.15h-1.3zM782.9 577.1h1.3v1.15h-1.3zM785.7 577.1h1.3v1.15h-1.3zM788.5 577.1h1.3v1.15h-1.3zM791.3 577.1h1.3v1.15h-1.3zM794.1 577.1h1.3v1.15h-1.3zM796.9 577.1h1.3v1.15h-1.3zM799.7 577.1h1.3v1.15h-1.3zM802.5 577.1h1.3v1.15h-1.3zM805.3 577.1h1.3v1.15h-1.3zM808.1 577.1h1.3v1.15h-1.3zM810.9 577.1h1.3v1.15h-1.3zM813.7 577.1h1.3v1.15h-1.3zM816.5 577.1h1.3v1.15h-1.3zM819.3 577.1h1.3v1.15h-1.3zM822.1 577.1h1.3v1.15h-1.3zM824.9 577.1h1.3v1.15h-1.3zM827.7 577.1h1.3v1.15h-1.3zM830.5 577.1h1.3v1.15h-1.3zM833.3 577.1h1.3v1.15h-1.3zM836.1 577.1h1.3v1.15h-1.3zM838.9 577.1h1.3v1.15h-1.3zM841.7 577.1h1.3v1.15h-1.3zM844.5 577.1h1.3v1.15h-1.3zM847.3 577.1h1.3v1.15h-1.3zM850.1 577.1h1.3v1.15h-1.3zM852.9 577.1h1.3v1.15h-1.3zM855.7 577.1h1.3v1.15h-1.3zM858.5 577.1h1.3v1.15h-1.3zM861.3 577.1h1.3v1.15h-1.3zM864.1 577.1h1.3v1.15h-1.3zM866.9 577.1h1.3v1.15h-1.3zM869.7 577.1h1.3v1.15h-1.3zM872.5 577.1h1.3v1.15h-1.3zM875.3 577.1h1.3v1.15h-1.3zM878.1 577.1h1.3v1.15h-1.3zM880.9 577.1h1.3v1.15h-1.3zM883.7 577.1h1.3v1.15h-1.3zM886.5 577.1h1.3v1.15h-1.3zM889.3 577.1h1.3v1.15h-1.3zM892.1 577.1h1.3v1.15h-1.3zM894.9 577.1h1.3v1.15h-1.3zM897.7 577.1h1.3v1.15h-1.3zM900.5 577.1h1.3v1.15h-1.3zM903.3 577.1h1.3v1.15h-1.3zM906.1 577.1h1.3v1.15h-1.3zM908.9 577.1h1.3v1.15h-1.3zM911.7 577.1h1.3v1.15h-1.3zM914.5 577.1h1.3v1.15h-1.3zM917.3 577.1h1.3v1.15h-1.3zM920.1 577.1h1.3v1.15h-1.3zM922.9 577.1h1.3v1.15h-1.3zM925.7 577.1h1.3v1.15h-1.3zM928.5 577.1h1.3v1.15h-1.3zM931.3 577.1h1.3v1.15h-1.3zM934.1 577.1h1.3v1.15h-1.3zM936.9 577.1h1.3v1.15h-1.3zM939.7 577.1h1.3v1.15h-1.3zM942.5 577.1h1.3v1.15h-1.3zM945.3 577.1h1.3v1.15h-1.3zM948.1 577.1h1.3v1.15h-1.3zM950.9 577.1h1.3v1.15h-1.3zM953.7 577.1h1.3v1.15h-1.3zM956.5 577.1h1.3v1.15h-1.3zM959.3 577.1h1.3v1.15h-1.3zM630.3 578.6h1.3v1.15h-1.3zM633.1 578.6h1.3v1.15h-1.3zM635.9 578.6h1.3v1.15h-1.3zM638.7 578.6h1.3v1.15h-1.3zM641.5 578.6h1.3v1.15h-1.3zM644.3 578.6h1.3v1.15h-1.3zM647.1 578.6h1.3v1.15h-1.3zM649.9 578.6h1.3v1.15h-1.3zM652.7 578.6h1.3v1.15h-1.3zM655.5 578.6h1.3v1.15h-1.3zM658.3 578.6h1.3v1.15h-1.3zM661.1 578.6h1.3v1.15h-1.3zM663.9 578.6h1.3v1.15h-1.3zM666.7 578.6h1.3v1.15h-1.3zM669.5 578.6h1.3v1.15h-1.3zM672.3 578.6h1.3v1.15h-1.3zM675.1 578.6h1.3v1.15h-1.3zM677.9 578.6h1.3v1.15h-1.3zM680.7 578.6h1.3v1.15h-1.3zM683.5 578.6h1.3v1.15h-1.3zM686.3 578.6h1.3v1.15h-1.3zM689.1 578.6h1.3v1.15h-1.3zM691.9 578.6h1.3v1.15h-1.3zM694.7 578.6h1.3v1.15h-1.3zM697.5 578.6h1.3v1.15h-1.3zM700.3 578.6h1.3v1.15h-1.3zM703.1 578.6h1.3v1.15h-1.3zM705.9 578.6h1.3v1.15h-1.3zM708.7 578.6h1.3v1.15h-1.3zM711.5 578.6h1.3v1.15h-1.3zM714.3 578.6h1.3v1.15h-1.3zM717.1 578.6h1.3v1.15h-1.3zM719.9 578.6h1.3v1.15h-1.3zM722.7 578.6h1.3v1.15h-1.3zM725.5 578.6h1.3v1.15h-1.3zM728.3 578.6h1.3v1.15h-1.3zM731.1 578.6h1.3v1.15h-1.3zM733.9 578.6h1.3v1.15h-1.3zM736.7 578.6h1.3v1.15h-1.3zM739.5 578.6h1.3v1.15h-1.3zM742.3 578.6h1.3v1.15h-1.3zM745.1 578.6h1.3v1.15h-1.3zM747.9 578.6h1.3v1.15h-1.3zM750.7 578.6h1.3v1.15h-1.3zM753.5 578.6h1.3v1.15h-1.3zM756.3 578.6h1.3v1.15h-1.3zM759.1 578.6h1.3v1.15h-1.3zM761.9 578.6h1.3v1.15h-1.3zM764.7 578.6h1.3v1.15h-1.3zM767.5 578.6h1.3v1.15h-1.3zM770.3 578.6h1.3v1.15h-1.3zM773.1 578.6h1.3v1.15h-1.3zM775.9 578.6h1.3v1.15h-1.3zM778.7 578.6h1.3v1.15h-1.3zM781.5 578.6h1.3v1.15h-1.3zM784.3 578.6h1.3v1.15h-1.3zM787.1 578.6h1.3v1.15h-1.3zM789.9 578.6h1.3v1.15h-1.3zM792.7 578.6h1.3v1.15h-1.3zM795.5 578.6h1.3v1.15h-1.3zM798.3 578.6h1.3v1.15h-1.3zM801.1 578.6h1.3v1.15h-1.3zM803.9 578.6h1.3v1.15h-1.3zM806.7 578.6h1.3v1.15h-1.3zM809.5 578.6h1.3v1.15h-1.3zM812.3 578.6h1.3v1.15h-1.3zM815.1 578.6h1.3v1.15h-1.3zM817.9 578.6h1.3v1.15h-1.3zM820.7 578.6h1.3v1.15h-1.3zM823.5 578.6h1.3v1.15h-1.3zM826.3 578.6h1.3v1.15h-1.3zM829.1 578.6h1.3v1.15h-1.3zM831.9 578.6h1.3v1.15h-1.3zM834.7 578.6h1.3v1.15h-1.3zM837.5 578.6h1.3v1.15h-1.3zM840.3 578.6h1.3v1.15h-1.3zM843.1 578.6h1.3v1.15h-1.3zM845.9 578.6h1.3v1.15h-1.3zM848.7 578.6h1.3v1.15h-1.3zM851.5 578.6h1.3v1.15h-1.3zM854.3 578.6h1.3v1.15h-1.3zM857.1 578.6h1.3v1.15h-1.3zM859.9 578.6h1.3v1.15h-1.3zM862.7 578.6h1.3v1.15h-1.3zM865.5 578.6h1.3v1.15h-1.3zM868.3 578.6h1.3v1.15h-1.3zM871.1 578.6h1.3v1.15h-1.3zM873.9 578.6h1.3v1.15h-1.3zM876.7 578.6h1.3v1.15h-1.3zM879.5 578.6h1.3v1.15h-1.3zM882.3 578.6h1.3v1.15h-1.3zM885.1 578.6h1.3v1.15h-1.3zM887.9 578.6h1.3v1.15h-1.3zM890.7 578.6h1.3v1.15h-1.3zM893.5 578.6h1.3v1.15h-1.3zM896.3 578.6h1.3v1.15h-1.3zM899.1 578.6h1.3v1.15h-1.3zM901.9 578.6h1.3v1.15h-1.3zM904.7 578.6h1.3v1.15h-1.3zM907.5 578.6h1.3v1.15h-1.3zM910.3 578.6h1.3v1.15h-1.3zM913.1 578.6h1.3v1.15h-1.3zM915.9 578.6h1.3v1.15h-1.3zM918.7 578.6h1.3v1.15h-1.3zM921.5 578.6h1.3v1.15h-1.3zM924.3 578.6h1.3v1.15h-1.3zM927.1 578.6h1.3v1.15h-1.3zM929.9 578.6h1.3v1.15h-1.3zM932.7 578.6h1.3v1.15h-1.3zM935.5 578.6h1.3v1.15h-1.3zM938.3 578.6h1.3v1.15h-1.3zM941.1 578.6h1.3v1.15h-1.3zM943.9 578.6h1.3v1.15h-1.3zM946.7 578.6h1.3v1.15h-1.3zM949.5 578.6h1.3v1.15h-1.3zM952.3 578.6h1.3v1.15h-1.3zM955.1 578.6h1.3v1.15h-1.3zM957.9 578.6h1.3v1.15h-1.3zM960.7 578.6h1.3v1.15h-1.3zM628.9 580.1h1.3v1.15h-1.3zM631.7 580.1h1.3v1.15h-1.3zM634.5 580.1h1.3v1.15h-1.3zM637.3 580.1h1.3v1.15h-1.3zM640.1 580.1h1.3v1.15h-1.3zM642.9 580.1h1.3v1.15h-1.3zM645.7 580.1h1.3v1.15h-1.3zM648.5 580.1h1.3v1.15h-1.3zM651.3 580.1h1.3v1.15h-1.3zM654.1 580.1h1.3v1.15h-1.3zM656.9 580.1h1.3v1.15h-1.3zM659.7 580.1h1.3v1.15h-1.3zM662.5 580.1h1.3v1.15h-1.3zM665.3 580.1h1.3v1.15h-1.3zM668.1 580.1h1.3v1.15h-1.3zM670.9 580.1h1.3v1.15h-1.3zM673.7 580.1h1.3v1.15h-1.3zM676.5 580.1h1.3v1.15h-1.3zM679.3 580.1h1.3v1.15h-1.3zM682.1 580.1h1.3v1.15h-1.3zM684.9 580.1h1.3v1.15h-1.3zM687.7 580.1h1.3v1.15h-1.3zM690.5 580.1h1.3v1.15h-1.3zM693.3 580.1h1.3v1.15h-1.3zM696.1 580.1h1.3v1.15h-1.3zM698.9 580.1h1.3v1.15h-1.3zM701.7 580.1h1.3v1.15h-1.3zM704.5 580.1h1.3v1.15h-1.3zM707.3 580.1h1.3v1.15h-1.3zM710.1 580.1h1.3v1.15h-1.3zM712.9 580.1h1.3v1.15h-1.3zM715.7 580.1h1.3v1.15h-1.3zM718.5 580.1h1.3v1.15h-1.3zM721.3 580.1h1.3v1.15h-1.3zM724.1 580.1h1.3v1.15h-1.3zM726.9 580.1h1.3v1.15h-1.3zM729.7 580.1h1.3v1.15h-1.3zM732.5 580.1h1.3v1.15h-1.3zM735.3 580.1h1.3v1.15h-1.3zM738.1 580.1h1.3v1.15h-1.3zM740.9 580.1h1.3v1.15h-1.3zM743.7 580.1h1.3v1.15h-1.3zM746.5 580.1h1.3v1.15h-1.3zM749.3 580.1h1.3v1.15h-1.3zM752.1 580.1h1.3v1.15h-1.3zM754.9 580.1h1.3v1.15h-1.3zM757.7 580.1h1.3v1.15h-1.3zM760.5 580.1h1.3v1.15h-1.3zM763.3 580.1h1.3v1.15h-1.3zM766.1 580.1h1.3v1.15h-1.3zM768.9 580.1h1.3v1.15h-1.3zM771.7 580.1h1.3v1.15h-1.3zM774.5 580.1h1.3v1.15h-1.3zM777.3 580.1h1.3v1.15h-1.3zM780.1 580.1h1.3v1.15h-1.3zM782.9 580.1h1.3v1.15h-1.3zM785.7 580.1h1.3v1.15h-1.3zM788.5 580.1h1.3v1.15h-1.3zM791.3 580.1h1.3v1.15h-1.3zM794.1 580.1h1.3v1.15h-1.3zM796.9 580.1h1.3v1.15h-1.3zM799.7 580.1h1.3v1.15h-1.3zM802.5 580.1h1.3v1.15h-1.3zM805.3 580.1h1.3v1.15h-1.3zM808.1 580.1h1.3v1.15h-1.3zM810.9 580.1h1.3v1.15h-1.3zM813.7 580.1h1.3v1.15h-1.3zM816.5 580.1h1.3v1.15h-1.3zM819.3 580.1h1.3v1.15h-1.3zM822.1 580.1h1.3v1.15h-1.3zM824.9 580.1h1.3v1.15h-1.3zM827.7 580.1h1.3v1.15h-1.3zM830.5 580.1h1.3v1.15h-1.3zM833.3 580.1h1.3v1.15h-1.3zM836.1 580.1h1.3v1.15h-1.3zM838.9 580.1h1.3v1.15h-1.3zM841.7 580.1h1.3v1.15h-1.3zM844.5 580.1h1.3v1.15h-1.3zM847.3 580.1h1.3v1.15h-1.3zM850.1 580.1h1.3v1.15h-1.3zM852.9 580.1h1.3v1.15h-1.3zM855.7 580.1h1.3v1.15h-1.3zM858.5 580.1h1.3v1.15h-1.3zM861.3 580.1h1.3v1.15h-1.3zM864.1 580.1h1.3v1.15h-1.3zM866.9 580.1h1.3v1.15h-1.3zM869.7 580.1h1.3v1.15h-1.3zM872.5 580.1h1.3v1.15h-1.3zM875.3 580.1h1.3v1.15h-1.3zM878.1 580.1h1.3v1.15h-1.3zM880.9 580.1h1.3v1.15h-1.3zM883.7 580.1h1.3v1.15h-1.3zM886.5 580.1h1.3v1.15h-1.3zM889.3 580.1h1.3v1.15h-1.3zM892.1 580.1h1.3v1.15h-1.3zM894.9 580.1h1.3v1.15h-1.3zM897.7 580.1h1.3v1.15h-1.3zM900.5 580.1h1.3v1.15h-1.3zM903.3 580.1h1.3v1.15h-1.3zM906.1 580.1h1.3v1.15h-1.3zM908.9 580.1h1.3v1.15h-1.3zM911.7 580.1h1.3v1.15h-1.3zM914.5 580.1h1.3v1.15h-1.3zM917.3 580.1h1.3v1.15h-1.3zM920.1 580.1h1.3v1.15h-1.3zM922.9 580.1h1.3v1.15h-1.3zM925.7 580.1h1.3v1.15h-1.3zM928.5 580.1h1.3v1.15h-1.3zM931.3 580.1h1.3v1.15h-1.3zM934.1 580.1h1.3v1.15h-1.3zM936.9 580.1h1.3v1.15h-1.3zM939.7 580.1h1.3v1.15h-1.3zM942.5 580.1h1.3v1.15h-1.3zM945.3 580.1h1.3v1.15h-1.3zM948.1 580.1h1.3v1.15h-1.3zM950.9 580.1h1.3v1.15h-1.3zM953.7 580.1h1.3v1.15h-1.3zM956.5 580.1h1.3v1.15h-1.3zM959.3 580.1h1.3v1.15h-1.3zM630.3 581.6h1.3v1.15h-1.3zM633.1 581.6h1.3v1.15h-1.3zM635.9 581.6h1.3v1.15h-1.3zM638.7 581.6h1.3v1.15h-1.3zM641.5 581.6h1.3v1.15h-1.3zM644.3 581.6h1.3v1.15h-1.3zM647.1 581.6h1.3v1.15h-1.3zM649.9 581.6h1.3v1.15h-1.3zM652.7 581.6h1.3v1.15h-1.3zM655.5 581.6h1.3v1.15h-1.3zM658.3 581.6h1.3v1.15h-1.3zM661.1 581.6h1.3v1.15h-1.3zM663.9 581.6h1.3v1.15h-1.3zM666.7 581.6h1.3v1.15h-1.3zM669.5 581.6h1.3v1.15h-1.3zM672.3 581.6h1.3v1.15h-1.3zM675.1 581.6h1.3v1.15h-1.3zM677.9 581.6h1.3v1.15h-1.3zM680.7 581.6h1.3v1.15h-1.3zM683.5 581.6h1.3v1.15h-1.3zM686.3 581.6h1.3v1.15h-1.3zM689.1 581.6h1.3v1.15h-1.3zM691.9 581.6h1.3v1.15h-1.3zM694.7 581.6h1.3v1.15h-1.3zM697.5 581.6h1.3v1.15h-1.3zM700.3 581.6h1.3v1.15h-1.3zM703.1 581.6h1.3v1.15h-1.3zM705.9 581.6h1.3v1.15h-1.3zM708.7 581.6h1.3v1.15h-1.3zM711.5 581.6h1.3v1.15h-1.3zM714.3 581.6h1.3v1.15h-1.3zM717.1 581.6h1.3v1.15h-1.3zM719.9 581.6h1.3v1.15h-1.3zM722.7 581.6h1.3v1.15h-1.3zM725.5 581.6h1.3v1.15h-1.3zM728.3 581.6h1.3v1.15h-1.3zM731.1 581.6h1.3v1.15h-1.3zM733.9 581.6h1.3v1.15h-1.3zM736.7 581.6h1.3v1.15h-1.3zM739.5 581.6h1.3v1.15h-1.3zM742.3 581.6h1.3v1.15h-1.3zM745.1 581.6h1.3v1.15h-1.3zM747.9 581.6h1.3v1.15h-1.3zM750.7 581.6h1.3v1.15h-1.3zM753.5 581.6h1.3v1.15h-1.3zM756.3 581.6h1.3v1.15h-1.3zM759.1 581.6h1.3v1.15h-1.3zM761.9 581.6h1.3v1.15h-1.3zM764.7 581.6h1.3v1.15h-1.3zM767.5 581.6h1.3v1.15h-1.3zM770.3 581.6h1.3v1.15h-1.3zM773.1 581.6h1.3v1.15h-1.3zM775.9 581.6h1.3v1.15h-1.3zM778.7 581.6h1.3v1.15h-1.3zM781.5 581.6h1.3v1.15h-1.3zM784.3 581.6h1.3v1.15h-1.3zM787.1 581.6h1.3v1.15h-1.3zM789.9 581.6h1.3v1.15h-1.3zM792.7 581.6h1.3v1.15h-1.3zM795.5 581.6h1.3v1.15h-1.3zM798.3 581.6h1.3v1.15h-1.3zM801.1 581.6h1.3v1.15h-1.3zM803.9 581.6h1.3v1.15h-1.3zM806.7 581.6h1.3v1.15h-1.3zM809.5 581.6h1.3v1.15h-1.3zM812.3 581.6h1.3v1.15h-1.3zM815.1 581.6h1.3v1.15h-1.3zM817.9 581.6h1.3v1.15h-1.3zM820.7 581.6h1.3v1.15h-1.3zM823.5 581.6h1.3v1.15h-1.3zM826.3 581.6h1.3v1.15h-1.3zM829.1 581.6h1.3v1.15h-1.3zM831.9 581.6h1.3v1.15h-1.3zM834.7 581.6h1.3v1.15h-1.3zM837.5 581.6h1.3v1.15h-1.3zM840.3 581.6h1.3v1.15h-1.3zM843.1 581.6h1.3v1.15h-1.3zM845.9 581.6h1.3v1.15h-1.3zM848.7 581.6h1.3v1.15h-1.3zM851.5 581.6h1.3v1.15h-1.3zM854.3 581.6h1.3v1.15h-1.3zM857.1 581.6h1.3v1.15h-1.3zM859.9 581.6h1.3v1.15h-1.3zM862.7 581.6h1.3v1.15h-1.3zM865.5 581.6h1.3v1.15h-1.3zM868.3 581.6h1.3v1.15h-1.3zM871.1 581.6h1.3v1.15h-1.3zM873.9 581.6h1.3v1.15h-1.3zM876.7 581.6h1.3v1.15h-1.3zM879.5 581.6h1.3v1.15h-1.3zM882.3 581.6h1.3v1.15h-1.3zM885.1 581.6h1.3v1.15h-1.3zM887.9 581.6h1.3v1.15h-1.3zM890.7 581.6h1.3v1.15h-1.3zM893.5 581.6h1.3v1.15h-1.3zM896.3 581.6h1.3v1.15h-1.3zM899.1 581.6h1.3v1.15h-1.3zM901.9 581.6h1.3v1.15h-1.3zM904.7 581.6h1.3v1.15h-1.3zM907.5 581.6h1.3v1.15h-1.3zM910.3 581.6h1.3v1.15h-1.3zM913.1 581.6h1.3v1.15h-1.3zM915.9 581.6h1.3v1.15h-1.3zM918.7 581.6h1.3v1.15h-1.3zM921.5 581.6h1.3v1.15h-1.3zM924.3 581.6h1.3v1.15h-1.3zM927.1 581.6h1.3v1.15h-1.3zM929.9 581.6h1.3v1.15h-1.3zM932.7 581.6h1.3v1.15h-1.3zM935.5 581.6h1.3v1.15h-1.3zM938.3 581.6h1.3v1.15h-1.3zM941.1 581.6h1.3v1.15h-1.3zM943.9 581.6h1.3v1.15h-1.3zM946.7 581.6h1.3v1.15h-1.3zM949.5 581.6h1.3v1.15h-1.3zM952.3 581.6h1.3v1.15h-1.3zM955.1 581.6h1.3v1.15h-1.3zM957.9 581.6h1.3v1.15h-1.3zM960.7 581.6h1.3v1.15h-1.3zM628.9 583.1h1.3v1.15h-1.3zM631.7 583.1h1.3v1.15h-1.3zM634.5 583.1h1.3v1.15h-1.3zM637.3 583.1h1.3v1.15h-1.3zM640.1 583.1h1.3v1.15h-1.3zM642.9 583.1h1.3v1.15h-1.3zM645.7 583.1h1.3v1.15h-1.3zM648.5 583.1h1.3v1.15h-1.3zM651.3 583.1h1.3v1.15h-1.3zM654.1 583.1h1.3v1.15h-1.3zM656.9 583.1h1.3v1.15h-1.3zM659.7 583.1h1.3v1.15h-1.3zM662.5 583.1h1.3v1.15h-1.3zM665.3 583.1h1.3v1.15h-1.3zM668.1 583.1h1.3v1.15h-1.3zM670.9 583.1h1.3v1.15h-1.3zM673.7 583.1h1.3v1.15h-1.3zM676.5 583.1h1.3v1.15h-1.3zM679.3 583.1h1.3v1.15h-1.3zM682.1 583.1h1.3v1.15h-1.3zM684.9 583.1h1.3v1.15h-1.3zM687.7 583.1h1.3v1.15h-1.3zM690.5 583.1h1.3v1.15h-1.3zM693.3 583.1h1.3v1.15h-1.3zM696.1 583.1h1.3v1.15h-1.3zM698.9 583.1h1.3v1.15h-1.3zM701.7 583.1h1.3v1.15h-1.3zM704.5 583.1h1.3v1.15h-1.3zM707.3 583.1h1.3v1.15h-1.3zM710.1 583.1h1.3v1.15h-1.3zM712.9 583.1h1.3v1.15h-1.3zM715.7 583.1h1.3v1.15h-1.3zM718.5 583.1h1.3v1.15h-1.3zM721.3 583.1h1.3v1.15h-1.3zM724.1 583.1h1.3v1.15h-1.3zM726.9 583.1h1.3v1.15h-1.3zM729.7 583.1h1.3v1.15h-1.3zM732.5 583.1h1.3v1.15h-1.3zM735.3 583.1h1.3v1.15h-1.3zM738.1 583.1h1.3v1.15h-1.3zM740.9 583.1h1.3v1.15h-1.3zM743.7 583.1h1.3v1.15h-1.3zM746.5 583.1h1.3v1.15h-1.3zM749.3 583.1h1.3v1.15h-1.3zM752.1 583.1h1.3v1.15h-1.3zM754.9 583.1h1.3v1.15h-1.3zM757.7 583.1h1.3v1.15h-1.3zM760.5 583.1h1.3v1.15h-1.3zM763.3 583.1h1.3v1.15h-1.3zM766.1 583.1h1.3v1.15h-1.3zM768.9 583.1h1.3v1.15h-1.3zM771.7 583.1h1.3v1.15h-1.3zM774.5 583.1h1.3v1.15h-1.3zM777.3 583.1h1.3v1.15h-1.3zM780.1 583.1h1.3v1.15h-1.3zM782.9 583.1h1.3v1.15h-1.3zM785.7 583.1h1.3v1.15h-1.3zM788.5 583.1h1.3v1.15h-1.3zM791.3 583.1h1.3v1.15h-1.3zM794.1 583.1h1.3v1.15h-1.3zM796.9 583.1h1.3v1.15h-1.3zM799.7 583.1h1.3v1.15h-1.3zM802.5 583.1h1.3v1.15h-1.3zM805.3 583.1h1.3v1.15h-1.3zM808.1 583.1h1.3v1.15h-1.3zM810.9 583.1h1.3v1.15h-1.3zM813.7 583.1h1.3v1.15h-1.3zM816.5 583.1h1.3v1.15h-1.3zM819.3 583.1h1.3v1.15h-1.3zM822.1 583.1h1.3v1.15h-1.3zM824.9 583.1h1.3v1.15h-1.3zM827.7 583.1h1.3v1.15h-1.3zM830.5 583.1h1.3v1.15h-1.3zM833.3 583.1h1.3v1.15h-1.3zM836.1 583.1h1.3v1.15h-1.3zM838.9 583.1h1.3v1.15h-1.3zM841.7 583.1h1.3v1.15h-1.3zM844.5 583.1h1.3v1.15h-1.3zM847.3 583.1h1.3v1.15h-1.3zM850.1 583.1h1.3v1.15h-1.3zM852.9 583.1h1.3v1.15h-1.3zM855.7 583.1h1.3v1.15h-1.3zM858.5 583.1h1.3v1.15h-1.3zM861.3 583.1h1.3v1.15h-1.3zM864.1 583.1h1.3v1.15h-1.3zM866.9 583.1h1.3v1.15h-1.3zM869.7 583.1h1.3v1.15h-1.3zM872.5 583.1h1.3v1.15h-1.3zM875.3 583.1h1.3v1.15h-1.3zM878.1 583.1h1.3v1.15h-1.3zM880.9 583.1h1.3v1.15h-1.3zM883.7 583.1h1.3v1.15h-1.3zM886.5 583.1h1.3v1.15h-1.3zM889.3 583.1h1.3v1.15h-1.3zM892.1 583.1h1.3v1.15h-1.3zM894.9 583.1h1.3v1.15h-1.3zM897.7 583.1h1.3v1.15h-1.3zM900.5 583.1h1.3v1.15h-1.3zM903.3 583.1h1.3v1.15h-1.3zM906.1 583.1h1.3v1.15h-1.3zM908.9 583.1h1.3v1.15h-1.3zM911.7 583.1h1.3v1.15h-1.3zM914.5 583.1h1.3v1.15h-1.3zM917.3 583.1h1.3v1.15h-1.3zM920.1 583.1h1.3v1.15h-1.3zM922.9 583.1h1.3v1.15h-1.3zM925.7 583.1h1.3v1.15h-1.3zM928.5 583.1h1.3v1.15h-1.3zM931.3 583.1h1.3v1.15h-1.3zM934.1 583.1h1.3v1.15h-1.3zM936.9 583.1h1.3v1.15h-1.3zM939.7 583.1h1.3v1.15h-1.3zM942.5 583.1h1.3v1.15h-1.3zM945.3 583.1h1.3v1.15h-1.3zM948.1 583.1h1.3v1.15h-1.3zM950.9 583.1h1.3v1.15h-1.3zM953.7 583.1h1.3v1.15h-1.3zM956.5 583.1h1.3v1.15h-1.3zM959.3 583.1h1.3v1.15h-1.3zM630.3 584.6h1.3v1.15h-1.3zM633.1 584.6h1.3v1.15h-1.3zM635.9 584.6h1.3v1.15h-1.3zM638.7 584.6h1.3v1.15h-1.3zM641.5 584.6h1.3v1.15h-1.3zM644.3 584.6h1.3v1.15h-1.3zM647.1 584.6h1.3v1.15h-1.3zM649.9 584.6h1.3v1.15h-1.3zM652.7 584.6h1.3v1.15h-1.3zM655.5 584.6h1.3v1.15h-1.3zM658.3 584.6h1.3v1.15h-1.3zM661.1 584.6h1.3v1.15h-1.3zM663.9 584.6h1.3v1.15h-1.3zM666.7 584.6h1.3v1.15h-1.3zM669.5 584.6h1.3v1.15h-1.3zM672.3 584.6h1.3v1.15h-1.3zM675.1 584.6h1.3v1.15h-1.3zM677.9 584.6h1.3v1.15h-1.3zM680.7 584.6h1.3v1.15h-1.3zM683.5 584.6h1.3v1.15h-1.3zM686.3 584.6h1.3v1.15h-1.3zM689.1 584.6h1.3v1.15h-1.3zM691.9 584.6h1.3v1.15h-1.3zM694.7 584.6h1.3v1.15h-1.3zM697.5 584.6h1.3v1.15h-1.3zM700.3 584.6h1.3v1.15h-1.3zM703.1 584.6h1.3v1.15h-1.3zM705.9 584.6h1.3v1.15h-1.3zM708.7 584.6h1.3v1.15h-1.3zM711.5 584.6h1.3v1.15h-1.3zM714.3 584.6h1.3v1.15h-1.3zM717.1 584.6h1.3v1.15h-1.3zM719.9 584.6h1.3v1.15h-1.3zM722.7 584.6h1.3v1.15h-1.3zM725.5 584.6h1.3v1.15h-1.3zM728.3 584.6h1.3v1.15h-1.3zM731.1 584.6h1.3v1.15h-1.3zM733.9 584.6h1.3v1.15h-1.3zM736.7 584.6h1.3v1.15h-1.3zM739.5 584.6h1.3v1.15h-1.3zM742.3 584.6h1.3v1.15h-1.3zM745.1 584.6h1.3v1.15h-1.3zM747.9 584.6h1.3v1.15h-1.3zM750.7 584.6h1.3v1.15h-1.3zM753.5 584.6h1.3v1.15h-1.3zM756.3 584.6h1.3v1.15h-1.3zM759.1 584.6h1.3v1.15h-1.3zM761.9 584.6h1.3v1.15h-1.3zM764.7 584.6h1.3v1.15h-1.3zM767.5 584.6h1.3v1.15h-1.3zM770.3 584.6h1.3v1.15h-1.3zM773.1 584.6h1.3v1.15h-1.3zM775.9 584.6h1.3v1.15h-1.3zM778.7 584.6h1.3v1.15h-1.3zM781.5 584.6h1.3v1.15h-1.3zM784.3 584.6h1.3v1.15h-1.3zM787.1 584.6h1.3v1.15h-1.3zM789.9 584.6h1.3v1.15h-1.3zM792.7 584.6h1.3v1.15h-1.3zM795.5 584.6h1.3v1.15h-1.3zM798.3 584.6h1.3v1.15h-1.3zM801.1 584.6h1.3v1.15h-1.3zM803.9 584.6h1.3v1.15h-1.3zM806.7 584.6h1.3v1.15h-1.3zM809.5 584.6h1.3v1.15h-1.3zM812.3 584.6h1.3v1.15h-1.3zM815.1 584.6h1.3v1.15h-1.3zM817.9 584.6h1.3v1.15h-1.3zM820.7 584.6h1.3v1.15h-1.3zM823.5 584.6h1.3v1.15h-1.3zM826.3 584.6h1.3v1.15h-1.3zM829.1 584.6h1.3v1.15h-1.3zM831.9 584.6h1.3v1.15h-1.3zM834.7 584.6h1.3v1.15h-1.3zM837.5 584.6h1.3v1.15h-1.3zM840.3 584.6h1.3v1.15h-1.3zM843.1 584.6h1.3v1.15h-1.3zM845.9 584.6h1.3v1.15h-1.3zM848.7 584.6h1.3v1.15h-1.3zM851.5 584.6h1.3v1.15h-1.3zM854.3 584.6h1.3v1.15h-1.3zM857.1 584.6h1.3v1.15h-1.3zM859.9 584.6h1.3v1.15h-1.3zM862.7 584.6h1.3v1.15h-1.3zM865.5 584.6h1.3v1.15h-1.3zM868.3 584.6h1.3v1.15h-1.3zM871.1 584.6h1.3v1.15h-1.3zM873.9 584.6h1.3v1.15h-1.3zM876.7 584.6h1.3v1.15h-1.3zM879.5 584.6h1.3v1.15h-1.3zM882.3 584.6h1.3v1.15h-1.3zM885.1 584.6h1.3v1.15h-1.3zM887.9 584.6h1.3v1.15h-1.3zM890.7 584.6h1.3v1.15h-1.3zM893.5 584.6h1.3v1.15h-1.3zM896.3 584.6h1.3v1.15h-1.3zM899.1 584.6h1.3v1.15h-1.3zM901.9 584.6h1.3v1.15h-1.3zM904.7 584.6h1.3v1.15h-1.3zM907.5 584.6h1.3v1.15h-1.3zM910.3 584.6h1.3v1.15h-1.3zM913.1 584.6h1.3v1.15h-1.3zM915.9 584.6h1.3v1.15h-1.3zM918.7 584.6h1.3v1.15h-1.3zM921.5 584.6h1.3v1.15h-1.3zM924.3 584.6h1.3v1.15h-1.3zM927.1 584.6h1.3v1.15h-1.3zM929.9 584.6h1.3v1.15h-1.3zM932.7 584.6h1.3v1.15h-1.3zM935.5 584.6h1.3v1.15h-1.3zM938.3 584.6h1.3v1.15h-1.3zM941.1 584.6h1.3v1.15h-1.3zM943.9 584.6h1.3v1.15h-1.3zM946.7 584.6h1.3v1.15h-1.3zM949.5 584.6h1.3v1.15h-1.3zM952.3 584.6h1.3v1.15h-1.3zM955.1 584.6h1.3v1.15h-1.3zM957.9 584.6h1.3v1.15h-1.3zM960.7 584.6h1.3v1.15h-1.3zM628.9 586.1h1.3v1.15h-1.3zM631.7 586.1h1.3v1.15h-1.3zM634.5 586.1h1.3v1.15h-1.3zM637.3 586.1h1.3v1.15h-1.3zM640.1 586.1h1.3v1.15h-1.3zM642.9 586.1h1.3v1.15h-1.3zM645.7 586.1h1.3v1.15h-1.3zM648.5 586.1h1.3v1.15h-1.3zM651.3 586.1h1.3v1.15h-1.3zM654.1 586.1h1.3v1.15h-1.3zM656.9 586.1h1.3v1.15h-1.3zM659.7 586.1h1.3v1.15h-1.3zM662.5 586.1h1.3v1.15h-1.3zM665.3 586.1h1.3v1.15h-1.3zM668.1 586.1h1.3v1.15h-1.3zM670.9 586.1h1.3v1.15h-1.3zM673.7 586.1h1.3v1.15h-1.3zM676.5 586.1h1.3v1.15h-1.3zM679.3 586.1h1.3v1.15h-1.3zM682.1 586.1h1.3v1.15h-1.3zM684.9 586.1h1.3v1.15h-1.3zM687.7 586.1h1.3v1.15h-1.3zM690.5 586.1h1.3v1.15h-1.3zM693.3 586.1h1.3v1.15h-1.3zM696.1 586.1h1.3v1.15h-1.3zM698.9 586.1h1.3v1.15h-1.3zM701.7 586.1h1.3v1.15h-1.3zM704.5 586.1h1.3v1.15h-1.3zM707.3 586.1h1.3v1.15h-1.3zM710.1 586.1h1.3v1.15h-1.3zM712.9 586.1h1.3v1.15h-1.3zM715.7 586.1h1.3v1.15h-1.3zM718.5 586.1h1.3v1.15h-1.3zM721.3 586.1h1.3v1.15h-1.3zM724.1 586.1h1.3v1.15h-1.3zM726.9 586.1h1.3v1.15h-1.3zM729.7 586.1h1.3v1.15h-1.3zM732.5 586.1h1.3v1.15h-1.3zM735.3 586.1h1.3v1.15h-1.3zM738.1 586.1h1.3v1.15h-1.3zM740.9 586.1h1.3v1.15h-1.3zM743.7 586.1h1.3v1.15h-1.3zM746.5 586.1h1.3v1.15h-1.3zM749.3 586.1h1.3v1.15h-1.3zM752.1 586.1h1.3v1.15h-1.3zM754.9 586.1h1.3v1.15h-1.3zM757.7 586.1h1.3v1.15h-1.3zM760.5 586.1h1.3v1.15h-1.3zM763.3 586.1h1.3v1.15h-1.3zM766.1 586.1h1.3v1.15h-1.3zM768.9 586.1h1.3v1.15h-1.3zM771.7 586.1h1.3v1.15h-1.3zM774.5 586.1h1.3v1.15h-1.3zM777.3 586.1h1.3v1.15h-1.3zM780.1 586.1h1.3v1.15h-1.3zM782.9 586.1h1.3v1.15h-1.3zM785.7 586.1h1.3v1.15h-1.3zM788.5 586.1h1.3v1.15h-1.3zM791.3 586.1h1.3v1.15h-1.3zM794.1 586.1h1.3v1.15h-1.3zM796.9 586.1h1.3v1.15h-1.3zM799.7 586.1h1.3v1.15h-1.3zM802.5 586.1h1.3v1.15h-1.3zM805.3 586.1h1.3v1.15h-1.3zM808.1 586.1h1.3v1.15h-1.3zM810.9 586.1h1.3v1.15h-1.3zM813.7 586.1h1.3v1.15h-1.3zM816.5 586.1h1.3v1.15h-1.3zM819.3 586.1h1.3v1.15h-1.3zM822.1 586.1h1.3v1.15h-1.3zM824.9 586.1h1.3v1.15h-1.3zM827.7 586.1h1.3v1.15h-1.3zM830.5 586.1h1.3v1.15h-1.3zM833.3 586.1h1.3v1.15h-1.3zM836.1 586.1h1.3v1.15h-1.3zM838.9 586.1h1.3v1.15h-1.3zM841.7 586.1h1.3v1.15h-1.3zM844.5 586.1h1.3v1.15h-1.3zM847.3 586.1h1.3v1.15h-1.3zM850.1 586.1h1.3v1.15h-1.3zM852.9 586.1h1.3v1.15h-1.3zM855.7 586.1h1.3v1.15h-1.3zM858.5 586.1h1.3v1.15h-1.3zM861.3 586.1h1.3v1.15h-1.3zM864.1 586.1h1.3v1.15h-1.3zM866.9 586.1h1.3v1.15h-1.3zM869.7 586.1h1.3v1.15h-1.3zM872.5 586.1h1.3v1.15h-1.3zM875.3 586.1h1.3v1.15h-1.3zM878.1 586.1h1.3v1.15h-1.3zM880.9 586.1h1.3v1.15h-1.3zM883.7 586.1h1.3v1.15h-1.3zM886.5 586.1h1.3v1.15h-1.3zM889.3 586.1h1.3v1.15h-1.3zM892.1 586.1h1.3v1.15h-1.3zM894.9 586.1h1.3v1.15h-1.3zM897.7 586.1h1.3v1.15h-1.3zM900.5 586.1h1.3v1.15h-1.3zM903.3 586.1h1.3v1.15h-1.3zM906.1 586.1h1.3v1.15h-1.3zM908.9 586.1h1.3v1.15h-1.3zM911.7 586.1h1.3v1.15h-1.3zM914.5 586.1h1.3v1.15h-1.3zM917.3 586.1h1.3v1.15h-1.3zM920.1 586.1h1.3v1.15h-1.3zM922.9 586.1h1.3v1.15h-1.3zM925.7 586.1h1.3v1.15h-1.3zM928.5 586.1h1.3v1.15h-1.3zM931.3 586.1h1.3v1.15h-1.3zM934.1 586.1h1.3v1.15h-1.3zM936.9 586.1h1.3v1.15h-1.3zM939.7 586.1h1.3v1.15h-1.3zM942.5 586.1h1.3v1.15h-1.3zM945.3 586.1h1.3v1.15h-1.3zM948.1 586.1h1.3v1.15h-1.3zM950.9 586.1h1.3v1.15h-1.3zM953.7 586.1h1.3v1.15h-1.3zM956.5 586.1h1.3v1.15h-1.3zM959.3 586.1h1.3v1.15h-1.3zM630.3 587.6h1.3v1.15h-1.3zM633.1 587.6h1.3v1.15h-1.3zM635.9 587.6h1.3v1.15h-1.3zM638.7 587.6h1.3v1.15h-1.3zM641.5 587.6h1.3v1.15h-1.3zM644.3 587.6h1.3v1.15h-1.3zM647.1 587.6h1.3v1.15h-1.3zM649.9 587.6h1.3v1.15h-1.3zM652.7 587.6h1.3v1.15h-1.3zM655.5 587.6h1.3v1.15h-1.3zM658.3 587.6h1.3v1.15h-1.3zM661.1 587.6h1.3v1.15h-1.3zM663.9 587.6h1.3v1.15h-1.3zM666.7 587.6h1.3v1.15h-1.3zM669.5 587.6h1.3v1.15h-1.3zM672.3 587.6h1.3v1.15h-1.3zM675.1 587.6h1.3v1.15h-1.3zM677.9 587.6h1.3v1.15h-1.3zM680.7 587.6h1.3v1.15h-1.3zM683.5 587.6h1.3v1.15h-1.3zM686.3 587.6h1.3v1.15h-1.3zM689.1 587.6h1.3v1.15h-1.3zM691.9 587.6h1.3v1.15h-1.3zM694.7 587.6h1.3v1.15h-1.3zM697.5 587.6h1.3v1.15h-1.3zM700.3 587.6h1.3v1.15h-1.3zM703.1 587.6h1.3v1.15h-1.3zM705.9 587.6h1.3v1.15h-1.3zM708.7 587.6h1.3v1.15h-1.3zM711.5 587.6h1.3v1.15h-1.3zM714.3 587.6h1.3v1.15h-1.3zM717.1 587.6h1.3v1.15h-1.3zM719.9 587.6h1.3v1.15h-1.3zM722.7 587.6h1.3v1.15h-1.3zM725.5 587.6h1.3v1.15h-1.3zM728.3 587.6h1.3v1.15h-1.3zM731.1 587.6h1.3v1.15h-1.3zM733.9 587.6h1.3v1.15h-1.3zM736.7 587.6h1.3v1.15h-1.3zM739.5 587.6h1.3v1.15h-1.3zM742.3 587.6h1.3v1.15h-1.3zM745.1 587.6h1.3v1.15h-1.3zM747.9 587.6h1.3v1.15h-1.3zM750.7 587.6h1.3v1.15h-1.3zM753.5 587.6h1.3v1.15h-1.3zM756.3 587.6h1.3v1.15h-1.3zM759.1 587.6h1.3v1.15h-1.3zM761.9 587.6h1.3v1.15h-1.3zM764.7 587.6h1.3v1.15h-1.3zM767.5 587.6h1.3v1.15h-1.3zM770.3 587.6h1.3v1.15h-1.3zM773.1 587.6h1.3v1.15h-1.3zM775.9 587.6h1.3v1.15h-1.3zM778.7 587.6h1.3v1.15h-1.3zM781.5 587.6h1.3v1.15h-1.3zM784.3 587.6h1.3v1.15h-1.3zM787.1 587.6h1.3v1.15h-1.3zM789.9 587.6h1.3v1.15h-1.3zM792.7 587.6h1.3v1.15h-1.3zM795.5 587.6h1.3v1.15h-1.3zM798.3 587.6h1.3v1.15h-1.3zM801.1 587.6h1.3v1.15h-1.3zM803.9 587.6h1.3v1.15h-1.3zM806.7 587.6h1.3v1.15h-1.3zM809.5 587.6h1.3v1.15h-1.3zM812.3 587.6h1.3v1.15h-1.3zM815.1 587.6h1.3v1.15h-1.3zM817.9 587.6h1.3v1.15h-1.3zM820.7 587.6h1.3v1.15h-1.3zM823.5 587.6h1.3v1.15h-1.3zM826.3 587.6h1.3v1.15h-1.3zM829.1 587.6h1.3v1.15h-1.3zM831.9 587.6h1.3v1.15h-1.3zM834.7 587.6h1.3v1.15h-1.3zM837.5 587.6h1.3v1.15h-1.3zM840.3 587.6h1.3v1.15h-1.3zM843.1 587.6h1.3v1.15h-1.3zM845.9 587.6h1.3v1.15h-1.3zM848.7 587.6h1.3v1.15h-1.3zM851.5 587.6h1.3v1.15h-1.3zM854.3 587.6h1.3v1.15h-1.3zM857.1 587.6h1.3v1.15h-1.3zM859.9 587.6h1.3v1.15h-1.3zM862.7 587.6h1.3v1.15h-1.3zM865.5 587.6h1.3v1.15h-1.3zM868.3 587.6h1.3v1.15h-1.3zM871.1 587.6h1.3v1.15h-1.3zM873.9 587.6h1.3v1.15h-1.3zM876.7 587.6h1.3v1.15h-1.3zM879.5 587.6h1.3v1.15h-1.3zM882.3 587.6h1.3v1.15h-1.3zM885.1 587.6h1.3v1.15h-1.3zM887.9 587.6h1.3v1.15h-1.3zM890.7 587.6h1.3v1.15h-1.3zM893.5 587.6h1.3v1.15h-1.3zM896.3 587.6h1.3v1.15h-1.3zM899.1 587.6h1.3v1.15h-1.3zM901.9 587.6h1.3v1.15h-1.3zM904.7 587.6h1.3v1.15h-1.3zM907.5 587.6h1.3v1.15h-1.3zM910.3 587.6h1.3v1.15h-1.3zM913.1 587.6h1.3v1.15h-1.3zM915.9 587.6h1.3v1.15h-1.3zM918.7 587.6h1.3v1.15h-1.3zM921.5 587.6h1.3v1.15h-1.3zM924.3 587.6h1.3v1.15h-1.3zM927.1 587.6h1.3v1.15h-1.3zM929.9 587.6h1.3v1.15h-1.3zM932.7 587.6h1.3v1.15h-1.3zM935.5 587.6h1.3v1.15h-1.3zM938.3 587.6h1.3v1.15h-1.3zM941.1 587.6h1.3v1.15h-1.3zM943.9 587.6h1.3v1.15h-1.3zM946.7 587.6h1.3v1.15h-1.3zM949.5 587.6h1.3v1.15h-1.3zM952.3 587.6h1.3v1.15h-1.3zM955.1 587.6h1.3v1.15h-1.3zM957.9 587.6h1.3v1.15h-1.3zM960.7 587.6h1.3v1.15h-1.3zM628.9 589.1h1.3v1.15h-1.3zM631.7 589.1h1.3v1.15h-1.3zM634.5 589.1h1.3v1.15h-1.3zM637.3 589.1h1.3v1.15h-1.3zM640.1 589.1h1.3v1.15h-1.3zM642.9 589.1h1.3v1.15h-1.3zM645.7 589.1h1.3v1.15h-1.3zM648.5 589.1h1.3v1.15h-1.3zM651.3 589.1h1.3v1.15h-1.3zM654.1 589.1h1.3v1.15h-1.3zM656.9 589.1h1.3v1.15h-1.3zM659.7 589.1h1.3v1.15h-1.3zM662.5 589.1h1.3v1.15h-1.3zM665.3 589.1h1.3v1.15h-1.3zM668.1 589.1h1.3v1.15h-1.3zM670.9 589.1h1.3v1.15h-1.3zM673.7 589.1h1.3v1.15h-1.3zM676.5 589.1h1.3v1.15h-1.3zM679.3 589.1h1.3v1.15h-1.3zM682.1 589.1h1.3v1.15h-1.3zM684.9 589.1h1.3v1.15h-1.3zM687.7 589.1h1.3v1.15h-1.3zM690.5 589.1h1.3v1.15h-1.3zM693.3 589.1h1.3v1.15h-1.3zM696.1 589.1h1.3v1.15h-1.3zM698.9 589.1h1.3v1.15h-1.3zM701.7 589.1h1.3v1.15h-1.3zM704.5 589.1h1.3v1.15h-1.3zM707.3 589.1h1.3v1.15h-1.3zM710.1 589.1h1.3v1.15h-1.3zM712.9 589.1h1.3v1.15h-1.3zM715.7 589.1h1.3v1.15h-1.3zM718.5 589.1h1.3v1.15h-1.3zM721.3 589.1h1.3v1.15h-1.3zM724.1 589.1h1.3v1.15h-1.3zM726.9 589.1h1.3v1.15h-1.3zM729.7 589.1h1.3v1.15h-1.3zM732.5 589.1h1.3v1.15h-1.3zM735.3 589.1h1.3v1.15h-1.3zM738.1 589.1h1.3v1.15h-1.3zM740.9 589.1h1.3v1.15h-1.3zM743.7 589.1h1.3v1.15h-1.3zM746.5 589.1h1.3v1.15h-1.3zM749.3 589.1h1.3v1.15h-1.3zM752.1 589.1h1.3v1.15h-1.3zM754.9 589.1h1.3v1.15h-1.3zM757.7 589.1h1.3v1.15h-1.3zM760.5 589.1h1.3v1.15h-1.3zM763.3 589.1h1.3v1.15h-1.3zM766.1 589.1h1.3v1.15h-1.3zM768.9 589.1h1.3v1.15h-1.3zM771.7 589.1h1.3v1.15h-1.3zM774.5 589.1h1.3v1.15h-1.3zM777.3 589.1h1.3v1.15h-1.3zM780.1 589.1h1.3v1.15h-1.3zM782.9 589.1h1.3v1.15h-1.3zM785.7 589.1h1.3v1.15h-1.3zM788.5 589.1h1.3v1.15h-1.3zM791.3 589.1h1.3v1.15h-1.3zM794.1 589.1h1.3v1.15h-1.3zM796.9 589.1h1.3v1.15h-1.3zM799.7 589.1h1.3v1.15h-1.3zM802.5 589.1h1.3v1.15h-1.3zM805.3 589.1h1.3v1.15h-1.3zM808.1 589.1h1.3v1.15h-1.3zM810.9 589.1h1.3v1.15h-1.3zM813.7 589.1h1.3v1.15h-1.3zM816.5 589.1h1.3v1.15h-1.3zM819.3 589.1h1.3v1.15h-1.3zM822.1 589.1h1.3v1.15h-1.3zM824.9 589.1h1.3v1.15h-1.3zM827.7 589.1h1.3v1.15h-1.3zM830.5 589.1h1.3v1.15h-1.3zM833.3 589.1h1.3v1.15h-1.3zM836.1 589.1h1.3v1.15h-1.3zM838.9 589.1h1.3v1.15h-1.3zM841.7 589.1h1.3v1.15h-1.3zM844.5 589.1h1.3v1.15h-1.3zM847.3 589.1h1.3v1.15h-1.3zM850.1 589.1h1.3v1.15h-1.3zM852.9 589.1h1.3v1.15h-1.3zM855.7 589.1h1.3v1.15h-1.3zM858.5 589.1h1.3v1.15h-1.3zM861.3 589.1h1.3v1.15h-1.3zM864.1 589.1h1.3v1.15h-1.3zM866.9 589.1h1.3v1.15h-1.3zM869.7 589.1h1.3v1.15h-1.3zM872.5 589.1h1.3v1.15h-1.3zM875.3 589.1h1.3v1.15h-1.3zM878.1 589.1h1.3v1.15h-1.3zM880.9 589.1h1.3v1.15h-1.3zM883.7 589.1h1.3v1.15h-1.3zM886.5 589.1h1.3v1.15h-1.3zM889.3 589.1h1.3v1.15h-1.3zM892.1 589.1h1.3v1.15h-1.3zM894.9 589.1h1.3v1.15h-1.3zM897.7 589.1h1.3v1.15h-1.3zM900.5 589.1h1.3v1.15h-1.3zM903.3 589.1h1.3v1.15h-1.3zM906.1 589.1h1.3v1.15h-1.3zM908.9 589.1h1.3v1.15h-1.3zM911.7 589.1h1.3v1.15h-1.3zM914.5 589.1h1.3v1.15h-1.3zM917.3 589.1h1.3v1.15h-1.3zM920.1 589.1h1.3v1.15h-1.3zM922.9 589.1h1.3v1.15h-1.3zM925.7 589.1h1.3v1.15h-1.3zM928.5 589.1h1.3v1.15h-1.3zM931.3 589.1h1.3v1.15h-1.3zM934.1 589.1h1.3v1.15h-1.3zM936.9 589.1h1.3v1.15h-1.3zM939.7 589.1h1.3v1.15h-1.3zM942.5 589.1h1.3v1.15h-1.3zM945.3 589.1h1.3v1.15h-1.3zM948.1 589.1h1.3v1.15h-1.3zM950.9 589.1h1.3v1.15h-1.3zM953.7 589.1h1.3v1.15h-1.3zM956.5 589.1h1.3v1.15h-1.3zM959.3 589.1h1.3v1.15h-1.3zM630.3 590.6h1.3v1.15h-1.3zM633.1 590.6h1.3v1.15h-1.3zM635.9 590.6h1.3v1.15h-1.3zM638.7 590.6h1.3v1.15h-1.3zM641.5 590.6h1.3v1.15h-1.3zM644.3 590.6h1.3v1.15h-1.3zM647.1 590.6h1.3v1.15h-1.3zM649.9 590.6h1.3v1.15h-1.3zM652.7 590.6h1.3v1.15h-1.3zM655.5 590.6h1.3v1.15h-1.3zM658.3 590.6h1.3v1.15h-1.3zM661.1 590.6h1.3v1.15h-1.3zM663.9 590.6h1.3v1.15h-1.3zM666.7 590.6h1.3v1.15h-1.3zM669.5 590.6h1.3v1.15h-1.3zM672.3 590.6h1.3v1.15h-1.3zM675.1 590.6h1.3v1.15h-1.3zM677.9 590.6h1.3v1.15h-1.3zM680.7 590.6h1.3v1.15h-1.3zM683.5 590.6h1.3v1.15h-1.3zM686.3 590.6h1.3v1.15h-1.3zM689.1 590.6h1.3v1.15h-1.3zM691.9 590.6h1.3v1.15h-1.3zM694.7 590.6h1.3v1.15h-1.3zM697.5 590.6h1.3v1.15h-1.3zM700.3 590.6h1.3v1.15h-1.3zM703.1 590.6h1.3v1.15h-1.3zM705.9 590.6h1.3v1.15h-1.3zM708.7 590.6h1.3v1.15h-1.3zM711.5 590.6h1.3v1.15h-1.3zM714.3 590.6h1.3v1.15h-1.3zM717.1 590.6h1.3v1.15h-1.3zM719.9 590.6h1.3v1.15h-1.3zM722.7 590.6h1.3v1.15h-1.3zM725.5 590.6h1.3v1.15h-1.3zM728.3 590.6h1.3v1.15h-1.3zM731.1 590.6h1.3v1.15h-1.3zM733.9 590.6h1.3v1.15h-1.3zM736.7 590.6h1.3v1.15h-1.3zM739.5 590.6h1.3v1.15h-1.3zM742.3 590.6h1.3v1.15h-1.3zM745.1 590.6h1.3v1.15h-1.3zM747.9 590.6h1.3v1.15h-1.3zM750.7 590.6h1.3v1.15h-1.3zM753.5 590.6h1.3v1.15h-1.3zM756.3 590.6h1.3v1.15h-1.3zM759.1 590.6h1.3v1.15h-1.3zM761.9 590.6h1.3v1.15h-1.3zM764.7 590.6h1.3v1.15h-1.3zM767.5 590.6h1.3v1.15h-1.3zM770.3 590.6h1.3v1.15h-1.3zM773.1 590.6h1.3v1.15h-1.3zM775.9 590.6h1.3v1.15h-1.3zM778.7 590.6h1.3v1.15h-1.3zM781.5 590.6h1.3v1.15h-1.3zM784.3 590.6h1.3v1.15h-1.3zM787.1 590.6h1.3v1.15h-1.3zM789.9 590.6h1.3v1.15h-1.3zM792.7 590.6h1.3v1.15h-1.3zM795.5 590.6h1.3v1.15h-1.3zM798.3 590.6h1.3v1.15h-1.3zM801.1 590.6h1.3v1.15h-1.3zM803.9 590.6h1.3v1.15h-1.3zM806.7 590.6h1.3v1.15h-1.3zM809.5 590.6h1.3v1.15h-1.3zM812.3 590.6h1.3v1.15h-1.3zM815.1 590.6h1.3v1.15h-1.3zM817.9 590.6h1.3v1.15h-1.3zM820.7 590.6h1.3v1.15h-1.3zM823.5 590.6h1.3v1.15h-1.3zM826.3 590.6h1.3v1.15h-1.3zM829.1 590.6h1.3v1.15h-1.3zM831.9 590.6h1.3v1.15h-1.3zM834.7 590.6h1.3v1.15h-1.3zM837.5 590.6h1.3v1.15h-1.3zM840.3 590.6h1.3v1.15h-1.3zM843.1 590.6h1.3v1.15h-1.3zM845.9 590.6h1.3v1.15h-1.3zM848.7 590.6h1.3v1.15h-1.3zM851.5 590.6h1.3v1.15h-1.3zM854.3 590.6h1.3v1.15h-1.3zM857.1 590.6h1.3v1.15h-1.3zM859.9 590.6h1.3v1.15h-1.3zM862.7 590.6h1.3v1.15h-1.3zM865.5 590.6h1.3v1.15h-1.3zM868.3 590.6h1.3v1.15h-1.3zM871.1 590.6h1.3v1.15h-1.3zM873.9 590.6h1.3v1.15h-1.3zM876.7 590.6h1.3v1.15h-1.3zM879.5 590.6h1.3v1.15h-1.3zM882.3 590.6h1.3v1.15h-1.3zM885.1 590.6h1.3v1.15h-1.3zM887.9 590.6h1.3v1.15h-1.3zM890.7 590.6h1.3v1.15h-1.3zM893.5 590.6h1.3v1.15h-1.3zM896.3 590.6h1.3v1.15h-1.3zM899.1 590.6h1.3v1.15h-1.3zM901.9 590.6h1.3v1.15h-1.3zM904.7 590.6h1.3v1.15h-1.3zM907.5 590.6h1.3v1.15h-1.3zM910.3 590.6h1.3v1.15h-1.3zM913.1 590.6h1.3v1.15h-1.3zM915.9 590.6h1.3v1.15h-1.3zM918.7 590.6h1.3v1.15h-1.3zM921.5 590.6h1.3v1.15h-1.3zM924.3 590.6h1.3v1.15h-1.3zM927.1 590.6h1.3v1.15h-1.3zM929.9 590.6h1.3v1.15h-1.3zM932.7 590.6h1.3v1.15h-1.3zM935.5 590.6h1.3v1.15h-1.3zM938.3 590.6h1.3v1.15h-1.3zM941.1 590.6h1.3v1.15h-1.3zM943.9 590.6h1.3v1.15h-1.3zM946.7 590.6h1.3v1.15h-1.3zM949.5 590.6h1.3v1.15h-1.3zM952.3 590.6h1.3v1.15h-1.3zM955.1 590.6h1.3v1.15h-1.3zM957.9 590.6h1.3v1.15h-1.3zM960.7 590.6h1.3v1.15h-1.3z" fill="#fff"/>
<polygon points="628.2,574.7 796.4,555.2 961.5,572.4 961.5,591.2 796.4,574.7 628.2,593.2" fill="none" stroke="#111" stroke-width="1"/>
<line x1="796.4" y1="555.2" x2="796.4" y2="574.7" stroke="#111" stroke-width="1.2"/>
<polyline points="628.2,593.2 768.5,608.2 961.5,591.2" fill="none" stroke="#555" stroke-width="1"/>
<line x1="704.9" y1="621.3" x2="704.9" y2="758.6" stroke="#444" stroke-width="1.1"/>
<path d="M700.5 613V600Q700.5 597.4 703.1 597.4H706.8Q709.4 597.4 709.4 600V613Z" fill="#fff" stroke="#222" stroke-width="1.1"/>
<path d="M700.5 613H709.4" stroke="#111" stroke-width="1.6"/>
<path d="M703.5 613.5V619.8L704.9 621.3L706.7 619.8V613.5" fill="#fff" stroke="#222" stroke-width="1"/>
<line x1="764.2" y1="614.7" x2="764.2" y2="751.6" stroke="#444" stroke-width="1.1"/>
<path d="M760.5 606.4V593.3Q760.5 590.7 763.1 590.7H765.7Q768.3 590.7 768.3 593.3V606.4Z" fill="#fff" stroke="#222" stroke-width="1.1"/>
<path d="M760.5 606.4H768.3" stroke="#111" stroke-width="1.6"/>
<path d="M763.1 606.9V613.2L764.2 614.7L765.9 613.2V606.9" fill="#fff" stroke="#222" stroke-width="1"/>
<line x1="838.5" y1="612.6" x2="838.5" y2="754.3" stroke="#444" stroke-width="1.1"/>
<path d="M834.2 604V591.1Q834.2 588.5 836.8 588.5H839.5Q842.1 588.5 842.1 591.1V604Z" fill="#fff" stroke="#222" stroke-width="1.1"/>
<path d="M834.2 604H842.1" stroke="#111" stroke-width="1.6"/>
<path d="M837 604.5V611.1L838.5 612.6L840.3 611.1V604.5" fill="#fff" stroke="#222" stroke-width="1"/>
<line x1="895" y1="618.5" x2="895" y2="760.2" stroke="#444" stroke-width="1.1"/>
<path d="M890.9 609.9V597.2Q890.9 594.6 893.5 594.6H896.6Q899.2 594.6 899.2 597.2V609.9Z" fill="#fff" stroke="#222" stroke-width="1.1"/>
<path d="M890.9 609.9H899.2" stroke="#111" stroke-width="1.6"/>
<path d="M893.5 610.4V617L895 618.5L897 617V610.4" fill="#fff" stroke="#222" stroke-width="1"/>
<polyline points="672,770.5 780.6,781.6 921.6,765.2" fill="none" stroke="#111" stroke-width="1.3" stroke-linejoin="round"/>
<polyline points="672,770.5 812.5,754.8 921.6,765.2" fill="none" stroke="#111" stroke-width="1.4"/>
<polyline points="671.6,768.1 812.5,752.3 921.6,762.7" fill="none" stroke="#444" stroke-width="0.9"/>
<polyline points="671.6,768.1 672,770.5" fill="none" stroke="#222" stroke-width="1"/>
<polyline points="921.6,762.7 921.6,765.2" fill="none" stroke="#222" stroke-width="1"/>
<polyline points="683.5,766.4 688.5,761.1 811,746.9 904.3,756.1 909.2,761.5" fill="none" stroke="#1a1a1a" stroke-width="1.1" stroke-linejoin="round"/>
<line x1="809" y1="747.9" x2="809" y2="752.5" stroke="#555" stroke-width="0.8"/>
<line x1="811.3" y1="747.5" x2="811.3" y2="752.5" stroke="#444" stroke-width="0.8"/>
</svg>
</body></html>
